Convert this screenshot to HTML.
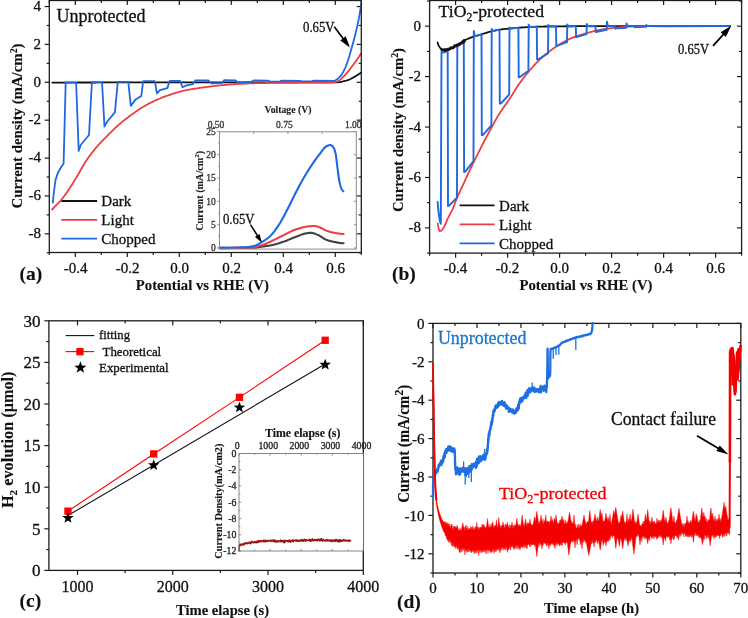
<!DOCTYPE html><html><head><meta charset="utf-8"><style>html,body{margin:0;padding:0;background:#fff;width:748px;height:618px;overflow:hidden}svg{display:block;will-change:transform}text{font-family:"Liberation Serif",serif}</style></head><body>
<svg width="748" height="618" viewBox="0 0 748 618">
<rect width="748" height="618" fill="#fff"/>
<line x1="49.3" y1="252.5" x2="49.3" y2="255.1" stroke="#1c1c1c" stroke-width="1.2"/>
<line x1="49.3" y1="0.5" x2="49.3" y2="3.1" stroke="#1c1c1c" stroke-width="1.2"/>
<line x1="75.3" y1="252.5" x2="75.3" y2="257.1" stroke="#1c1c1c" stroke-width="1.2"/>
<line x1="75.3" y1="0.5" x2="75.3" y2="5.1" stroke="#1c1c1c" stroke-width="1.2"/>
<line x1="101.3" y1="252.5" x2="101.3" y2="255.1" stroke="#1c1c1c" stroke-width="1.2"/>
<line x1="101.3" y1="0.5" x2="101.3" y2="3.1" stroke="#1c1c1c" stroke-width="1.2"/>
<line x1="127.3" y1="252.5" x2="127.3" y2="257.1" stroke="#1c1c1c" stroke-width="1.2"/>
<line x1="127.3" y1="0.5" x2="127.3" y2="5.1" stroke="#1c1c1c" stroke-width="1.2"/>
<line x1="153.3" y1="252.5" x2="153.3" y2="255.1" stroke="#1c1c1c" stroke-width="1.2"/>
<line x1="153.3" y1="0.5" x2="153.3" y2="3.1" stroke="#1c1c1c" stroke-width="1.2"/>
<line x1="179.3" y1="252.5" x2="179.3" y2="257.1" stroke="#1c1c1c" stroke-width="1.2"/>
<line x1="179.3" y1="0.5" x2="179.3" y2="5.1" stroke="#1c1c1c" stroke-width="1.2"/>
<line x1="205.3" y1="252.5" x2="205.3" y2="255.1" stroke="#1c1c1c" stroke-width="1.2"/>
<line x1="205.3" y1="0.5" x2="205.3" y2="3.1" stroke="#1c1c1c" stroke-width="1.2"/>
<line x1="231.3" y1="252.5" x2="231.3" y2="257.1" stroke="#1c1c1c" stroke-width="1.2"/>
<line x1="231.3" y1="0.5" x2="231.3" y2="5.1" stroke="#1c1c1c" stroke-width="1.2"/>
<line x1="257.3" y1="252.5" x2="257.3" y2="255.1" stroke="#1c1c1c" stroke-width="1.2"/>
<line x1="257.3" y1="0.5" x2="257.3" y2="3.1" stroke="#1c1c1c" stroke-width="1.2"/>
<line x1="283.3" y1="252.5" x2="283.3" y2="257.1" stroke="#1c1c1c" stroke-width="1.2"/>
<line x1="283.3" y1="0.5" x2="283.3" y2="5.1" stroke="#1c1c1c" stroke-width="1.2"/>
<line x1="309.3" y1="252.5" x2="309.3" y2="255.1" stroke="#1c1c1c" stroke-width="1.2"/>
<line x1="309.3" y1="0.5" x2="309.3" y2="3.1" stroke="#1c1c1c" stroke-width="1.2"/>
<line x1="335.3" y1="252.5" x2="335.3" y2="257.1" stroke="#1c1c1c" stroke-width="1.2"/>
<line x1="335.3" y1="0.5" x2="335.3" y2="5.1" stroke="#1c1c1c" stroke-width="1.2"/>
<line x1="361.3" y1="252.5" x2="361.3" y2="255.1" stroke="#1c1c1c" stroke-width="1.2"/>
<line x1="361.3" y1="0.5" x2="361.3" y2="3.1" stroke="#1c1c1c" stroke-width="1.2"/>
<line x1="46.7" y1="252.76" x2="49.3" y2="252.76" stroke="#1c1c1c" stroke-width="1.2"/>
<line x1="361.3" y1="252.76" x2="358.7" y2="252.76" stroke="#1c1c1c" stroke-width="1.2"/>
<line x1="44.7" y1="233.82" x2="49.3" y2="233.82" stroke="#1c1c1c" stroke-width="1.2"/>
<line x1="361.3" y1="233.82" x2="356.7" y2="233.82" stroke="#1c1c1c" stroke-width="1.2"/>
<line x1="46.7" y1="214.88" x2="49.3" y2="214.88" stroke="#1c1c1c" stroke-width="1.2"/>
<line x1="361.3" y1="214.88" x2="358.7" y2="214.88" stroke="#1c1c1c" stroke-width="1.2"/>
<line x1="44.7" y1="195.94" x2="49.3" y2="195.94" stroke="#1c1c1c" stroke-width="1.2"/>
<line x1="361.3" y1="195.94" x2="356.7" y2="195.94" stroke="#1c1c1c" stroke-width="1.2"/>
<line x1="46.7" y1="177" x2="49.3" y2="177" stroke="#1c1c1c" stroke-width="1.2"/>
<line x1="361.3" y1="177" x2="358.7" y2="177" stroke="#1c1c1c" stroke-width="1.2"/>
<line x1="44.7" y1="158.06" x2="49.3" y2="158.06" stroke="#1c1c1c" stroke-width="1.2"/>
<line x1="361.3" y1="158.06" x2="356.7" y2="158.06" stroke="#1c1c1c" stroke-width="1.2"/>
<line x1="46.7" y1="139.12" x2="49.3" y2="139.12" stroke="#1c1c1c" stroke-width="1.2"/>
<line x1="361.3" y1="139.12" x2="358.7" y2="139.12" stroke="#1c1c1c" stroke-width="1.2"/>
<line x1="44.7" y1="120.18" x2="49.3" y2="120.18" stroke="#1c1c1c" stroke-width="1.2"/>
<line x1="361.3" y1="120.18" x2="356.7" y2="120.18" stroke="#1c1c1c" stroke-width="1.2"/>
<line x1="46.7" y1="101.24" x2="49.3" y2="101.24" stroke="#1c1c1c" stroke-width="1.2"/>
<line x1="361.3" y1="101.24" x2="358.7" y2="101.24" stroke="#1c1c1c" stroke-width="1.2"/>
<line x1="44.7" y1="82.3" x2="49.3" y2="82.3" stroke="#1c1c1c" stroke-width="1.2"/>
<line x1="361.3" y1="82.3" x2="356.7" y2="82.3" stroke="#1c1c1c" stroke-width="1.2"/>
<line x1="46.7" y1="63.36" x2="49.3" y2="63.36" stroke="#1c1c1c" stroke-width="1.2"/>
<line x1="361.3" y1="63.36" x2="358.7" y2="63.36" stroke="#1c1c1c" stroke-width="1.2"/>
<line x1="44.7" y1="44.42" x2="49.3" y2="44.42" stroke="#1c1c1c" stroke-width="1.2"/>
<line x1="361.3" y1="44.42" x2="356.7" y2="44.42" stroke="#1c1c1c" stroke-width="1.2"/>
<line x1="46.7" y1="25.48" x2="49.3" y2="25.48" stroke="#1c1c1c" stroke-width="1.2"/>
<line x1="361.3" y1="25.48" x2="358.7" y2="25.48" stroke="#1c1c1c" stroke-width="1.2"/>
<line x1="44.7" y1="6.54" x2="49.3" y2="6.54" stroke="#1c1c1c" stroke-width="1.2"/>
<line x1="361.3" y1="6.54" x2="356.7" y2="6.54" stroke="#1c1c1c" stroke-width="1.2"/>
<text x="41" y="238.12" font-size="15" text-anchor="end" fill="#111" stroke="#111" stroke-width="0.3" >-8</text>
<text x="41" y="200.24" font-size="15" text-anchor="end" fill="#111" stroke="#111" stroke-width="0.3" >-6</text>
<text x="41" y="162.36" font-size="15" text-anchor="end" fill="#111" stroke="#111" stroke-width="0.3" >-4</text>
<text x="41" y="124.48" font-size="15" text-anchor="end" fill="#111" stroke="#111" stroke-width="0.3" >-2</text>
<text x="41" y="86.6" font-size="15" text-anchor="end" fill="#111" stroke="#111" stroke-width="0.3" >0</text>
<text x="41" y="48.72" font-size="15" text-anchor="end" fill="#111" stroke="#111" stroke-width="0.3" >2</text>
<text x="41" y="10.84" font-size="15" text-anchor="end" fill="#111" stroke="#111" stroke-width="0.3" >4</text>
<text x="75.6" y="272.6" font-size="15" text-anchor="middle" fill="#111" stroke="#111" stroke-width="0.3" >-0.4</text>
<text x="127.6" y="272.6" font-size="15" text-anchor="middle" fill="#111" stroke="#111" stroke-width="0.3" >-0.2</text>
<text x="179.6" y="272.6" font-size="15" text-anchor="middle" fill="#111" stroke="#111" stroke-width="0.3" >0.0</text>
<text x="231.6" y="272.6" font-size="15" text-anchor="middle" fill="#111" stroke="#111" stroke-width="0.3" >0.2</text>
<text x="283.6" y="272.6" font-size="15" text-anchor="middle" fill="#111" stroke="#111" stroke-width="0.3" >0.4</text>
<text x="335.6" y="272.6" font-size="15" text-anchor="middle" fill="#111" stroke="#111" stroke-width="0.3" >0.6</text>
<text x="202.3" y="290.2" font-size="15" text-anchor="middle" fill="#111" stroke="#111" stroke-width="0.12" font-weight="bold" textLength="133" lengthAdjust="spacingAndGlyphs" >Potential vs RHE (V)</text>
<text transform="translate(22.3 126) rotate(-90)" x="0" y="0" font-size="15" text-anchor="middle" fill="#111" stroke="#111" stroke-width="0.12" font-weight="bold" textLength="165" lengthAdjust="spacingAndGlyphs">Current density (mA/cm<tspan font-size="10" dy="-5">2</tspan><tspan dy="5">)</tspan></text>
<text x="19.4" y="280.4" font-size="19.5" text-anchor="start" fill="#111" stroke="#111" stroke-width="0.12" font-weight="bold" >(a)</text>
<text x="56.5" y="21.5" font-size="18" text-anchor="start" fill="#111" stroke="#111" stroke-width="0.3" >Unprotected</text>
<line x1="61.3" y1="201" x2="97.1" y2="201" stroke="#111" stroke-width="1.8"/>
<text x="101.3" y="206.3" font-size="15" text-anchor="start" fill="#111" stroke="#111" stroke-width="0.3" >Dark</text>
<line x1="61.3" y1="219.9" x2="97.1" y2="219.9" stroke="#ef3d45" stroke-width="1.8"/>
<text x="101.3" y="225.2" font-size="15" text-anchor="start" fill="#111" stroke="#111" stroke-width="0.3" >Light</text>
<line x1="61.3" y1="238.7" x2="97.1" y2="238.7" stroke="#1e68e0" stroke-width="1.8"/>
<text x="101.3" y="244" font-size="15" text-anchor="start" fill="#111" stroke="#111" stroke-width="0.3" >Chopped</text>
<path d="M52.3 82.6 L53 82.6 L53.71 82.6 L54.41 82.59 L55.11 82.59 L55.81 82.59 L56.52 82.59 L57.22 82.58 L57.92 82.58 L58.62 82.58 L59.33 82.58 L60.03 82.58 L60.73 82.57 L61.43 82.57 L62.14 82.57 L62.84 82.57 L63.54 82.57 L64.24 82.56 L64.95 82.56 L65.65 82.56 L66.35 82.56 L67.05 82.56 L67.76 82.55 L68.46 82.55 L69.16 82.55 L69.87 82.55 L70.57 82.54 L71.27 82.54 L71.97 82.54 L72.68 82.54 L73.38 82.54 L74.08 82.53 L74.78 82.53 L75.49 82.53 L76.19 82.53 L76.89 82.53 L77.59 82.52 L78.3 82.52 L79 82.52 L79.7 82.52 L80.4 82.52 L81.11 82.51 L81.81 82.51 L82.51 82.51 L83.21 82.51 L83.92 82.51 L84.62 82.5 L85.32 82.5 L86.03 82.5 L86.73 82.5 L87.43 82.5 L88.13 82.5 L88.84 82.49 L89.54 82.49 L90.24 82.49 L90.94 82.49 L91.65 82.49 L92.35 82.48 L93.05 82.48 L93.75 82.48 L94.46 82.48 L95.16 82.48 L95.86 82.48 L96.56 82.47 L97.27 82.47 L97.97 82.47 L98.67 82.47 L99.37 82.47 L100.08 82.47 L100.78 82.46 L101.48 82.46 L102.19 82.46 L102.89 82.46 L103.59 82.46 L104.29 82.46 L105 82.45 L105.7 82.45 L106.4 82.45 L107.1 82.45 L107.81 82.45 L108.51 82.45 L109.21 82.45 L109.91 82.44 L110.62 82.44 L111.32 82.44 L112.02 82.44 L112.72 82.44 L113.43 82.44 L114.13 82.44 L114.83 82.43 L115.53 82.43 L116.24 82.43 L116.94 82.43 L117.64 82.43 L118.35 82.43 L119.05 82.43 L119.75 82.43 L120.45 82.42 L121.16 82.42 L121.86 82.42 L122.56 82.42 L123.26 82.42 L123.97 82.42 L124.67 82.42 L125.37 82.42 L126.07 82.42 L126.78 82.42 L127.48 82.41 L128.18 82.41 L128.88 82.41 L129.59 82.41 L130.29 82.41 L130.99 82.41 L131.69 82.41 L132.4 82.41 L133.1 82.41 L133.8 82.41 L134.51 82.41 L135.21 82.41 L135.91 82.41 L136.61 82.41 L137.32 82.4 L138.02 82.4 L138.72 82.4 L139.42 82.4 L140.13 82.4 L140.83 82.4 L141.53 82.4 L142.23 82.4 L142.94 82.4 L143.64 82.4 L144.34 82.4 L145.04 82.4 L145.75 82.4 L146.45 82.4 L147.15 82.4 L147.85 82.4 L148.56 82.4 L149.26 82.4 L149.96 82.4 L150.67 82.4 L151.37 82.4 L152.07 82.4 L152.77 82.4 L153.48 82.4 L154.18 82.4 L154.88 82.4 L155.58 82.4 L156.29 82.4 L156.99 82.4 L157.69 82.4 L158.39 82.4 L159.1 82.4 L159.8 82.4 L160.5 82.4 L161.2 82.4 L161.91 82.4 L162.61 82.4 L163.31 82.4 L164.02 82.4 L164.72 82.4 L165.42 82.4 L166.12 82.4 L166.83 82.4 L167.53 82.4 L168.23 82.4 L168.93 82.4 L169.64 82.4 L170.34 82.4 L171.04 82.4 L171.74 82.4 L172.45 82.4 L173.15 82.4 L173.85 82.4 L174.55 82.4 L175.26 82.4 L175.96 82.4 L176.66 82.4 L177.36 82.4 L178.07 82.4 L178.77 82.4 L179.47 82.4 L180.18 82.4 L180.88 82.4 L181.58 82.4 L182.28 82.4 L182.99 82.4 L183.69 82.4 L184.39 82.4 L185.09 82.4 L185.8 82.4 L186.5 82.4 L187.2 82.4 L187.9 82.4 L188.61 82.4 L189.31 82.4 L190.01 82.4 L190.71 82.4 L191.42 82.4 L192.12 82.4 L192.82 82.4 L193.52 82.4 L194.23 82.4 L194.93 82.4 L195.63 82.4 L196.34 82.4 L197.04 82.4 L197.74 82.4 L198.44 82.4 L199.15 82.4 L199.85 82.4 L200.55 82.4 L201.25 82.4 L201.96 82.4 L202.66 82.4 L203.36 82.4 L204.06 82.4 L204.77 82.4 L205.47 82.4 L206.17 82.4 L206.87 82.4 L207.58 82.4 L208.28 82.4 L208.98 82.4 L209.68 82.4 L210.39 82.4 L211.09 82.4 L211.79 82.4 L212.5 82.4 L213.2 82.4 L213.9 82.4 L214.6 82.4 L215.31 82.4 L216.01 82.4 L216.71 82.4 L217.41 82.4 L218.12 82.4 L218.82 82.4 L219.52 82.4 L220.22 82.4 L220.93 82.4 L221.63 82.4 L222.33 82.4 L223.03 82.4 L223.74 82.4 L224.44 82.4 L225.14 82.4 L225.84 82.4 L226.55 82.4 L227.25 82.4 L227.95 82.4 L228.66 82.4 L229.36 82.4 L230.06 82.4 L230.76 82.4 L231.47 82.4 L232.17 82.4 L232.87 82.4 L233.57 82.4 L234.28 82.4 L234.98 82.4 L235.68 82.4 L236.38 82.4 L237.09 82.4 L237.79 82.4 L238.49 82.4 L239.19 82.4 L239.9 82.4 L240.6 82.4 L241.3 82.4 L242 82.4 L242.71 82.4 L243.41 82.4 L244.11 82.4 L244.82 82.4 L245.52 82.4 L246.22 82.4 L246.92 82.4 L247.63 82.4 L248.33 82.4 L249.03 82.4 L249.73 82.4 L250.44 82.4 L251.14 82.4 L251.84 82.4 L252.54 82.4 L253.25 82.4 L253.95 82.4 L254.65 82.4 L255.35 82.4 L256.06 82.4 L256.76 82.4 L257.46 82.4 L258.17 82.4 L258.87 82.4 L259.57 82.4 L260.27 82.4 L260.98 82.4 L261.68 82.4 L262.38 82.4 L263.08 82.4 L263.79 82.4 L264.49 82.4 L265.19 82.4 L265.9 82.4 L266.6 82.4 L267.3 82.4 L268 82.4 L268.71 82.4 L269.41 82.4 L270.11 82.4 L270.82 82.4 L271.52 82.4 L272.22 82.4 L272.92 82.4 L273.63 82.4 L274.33 82.4 L275.03 82.4 L275.73 82.4 L276.44 82.4 L277.14 82.4 L277.84 82.4 L278.55 82.4 L279.25 82.4 L279.95 82.4 L280.65 82.4 L281.36 82.4 L282.06 82.4 L282.76 82.4 L283.47 82.4 L284.17 82.4 L284.87 82.4 L285.57 82.4 L286.28 82.4 L286.98 82.4 L287.68 82.4 L288.39 82.4 L289.09 82.4 L289.79 82.4 L290.49 82.4 L291.2 82.4 L291.9 82.4 L292.6 82.4 L293.3 82.4 L294.01 82.4 L294.71 82.4 L295.41 82.4 L296.12 82.4 L296.82 82.4 L297.52 82.4 L298.22 82.4 L298.93 82.4 L299.63 82.4 L300.33 82.4 L301.03 82.4 L301.74 82.4 L302.44 82.4 L303.14 82.4 L303.84 82.4 L304.55 82.4 L305.25 82.4 L305.95 82.4 L306.66 82.4 L307.36 82.4 L308.06 82.4 L308.76 82.4 L309.47 82.4 L310.17 82.4 L310.87 82.4 L311.57 82.4 L312.28 82.4 L312.98 82.4 L313.68 82.4 L314.38 82.4 L315.09 82.4 L315.79 82.4 L316.49 82.4 L317.19 82.4 L317.9 82.4 L318.6 82.4 L319.3 82.4 L320 82.4 L320.71 82.4 L321.41 82.4 L322.11 82.4 L322.81 82.4 L323.51 82.4 L324.22 82.4 L324.92 82.4 L325.62 82.4 L326.32 82.4 L327.03 82.4 L327.73 82.4 L328.43 82.4 L329.13 82.4 L329.83 82.4 L330.54 82.4 L331.24 82.4 L331.94 82.4 L332.64 82.4 L333.34 82.4 L334.05 82.4 L334.75 82.39 L335.45 82.36 L336.16 82.33 L336.86 82.28 L337.56 82.23 L338.26 82.18 L338.95 82.11 L339.65 82.02 L340.35 81.92 L341.05 81.8 L341.74 81.68 L342.43 81.54 L343.12 81.39 L343.8 81.24 L344.48 81.09 L345.16 80.91 L345.84 80.72 L346.51 80.51 L347.18 80.28 L347.85 80.05 L348.51 79.8 L349.17 79.54 L349.81 79.28 L350.45 79 L351.08 78.71 L351.71 78.39 L352.33 78.06 L352.94 77.72 L353.56 77.36 L354.16 77 L354.77 76.64 L355.37 76.27 L355.98 75.91 L356.58 75.55 L357.18 75.19 L357.77 74.82 L358.37 74.44 L358.96 74.06 L359.55 73.68 L360.14 73.29 L360.72 72.9 L361.3 72.5" fill="none" stroke="#111" stroke-width="1.8" stroke-linejoin="round" stroke-linecap="round" />
<path d="M52.1 209.5 L52.59 209 L53.09 208.5 L53.58 208 L54.07 207.49 L54.56 206.99 L55.05 206.49 L55.54 205.98 L56.02 205.48 L56.51 204.97 L57 204.47 L57.5 203.96 L57.99 203.46 L58.48 202.96 L58.97 202.45 L59.46 201.94 L59.93 201.42 L60.4 200.9 L60.86 200.37 L61.3 199.84 L61.74 199.29 L62.18 198.75 L62.62 198.2 L63.05 197.64 L63.47 197.09 L63.89 196.53 L64.31 195.96 L64.73 195.39 L65.14 194.82 L65.55 194.25 L65.96 193.67 L66.36 193.1 L66.76 192.52 L67.16 191.94 L67.56 191.35 L67.95 190.77 L68.35 190.19 L68.74 189.6 L69.13 189.01 L69.52 188.43 L69.91 187.84 L70.3 187.26 L70.68 186.67 L71.07 186.09 L71.45 185.5 L71.83 184.91 L72.21 184.31 L72.58 183.72 L72.95 183.12 L73.32 182.52 L73.69 181.93 L74.06 181.33 L74.42 180.72 L74.78 180.12 L75.15 179.52 L75.51 178.92 L75.87 178.31 L76.23 177.71 L76.59 177.11 L76.96 176.51 L77.32 175.9 L77.68 175.3 L78.04 174.7 L78.39 174.09 L78.75 173.48 L79.1 172.87 L79.45 172.26 L79.79 171.65 L80.14 171.04 L80.49 170.42 L80.83 169.81 L81.18 169.19 L81.52 168.58 L81.87 167.97 L82.21 167.35 L82.56 166.74 L82.91 166.13 L83.26 165.53 L83.62 164.92 L83.98 164.31 L84.34 163.71 L84.7 163.11 L85.07 162.52 L85.44 161.92 L85.82 161.33 L86.2 160.75 L86.59 160.17 L86.98 159.59 L87.38 159.01 L87.78 158.43 L88.18 157.86 L88.59 157.28 L89 156.71 L89.42 156.14 L89.84 155.58 L90.26 155.01 L90.68 154.45 L91.11 153.89 L91.54 153.33 L91.97 152.78 L92.41 152.22 L92.84 151.67 L93.28 151.12 L93.72 150.58 L94.16 150.03 L94.61 149.49 L95.06 148.95 L95.51 148.41 L95.96 147.88 L96.42 147.35 L96.88 146.82 L97.34 146.29 L97.81 145.76 L98.28 145.24 L98.75 144.72 L99.23 144.2 L99.7 143.68 L100.18 143.17 L100.66 142.65 L101.14 142.14 L101.62 141.62 L102.1 141.11 L102.59 140.6 L103.07 140.09 L103.56 139.58 L104.04 139.07 L104.52 138.56 L105.01 138.06 L105.5 137.55 L105.98 137.04 L106.47 136.54 L106.96 136.03 L107.45 135.53 L107.95 135.03 L108.44 134.53 L108.93 134.03 L109.43 133.53 L109.93 133.03 L110.43 132.54 L110.93 132.04 L111.43 131.55 L111.94 131.06 L112.44 130.58 L112.95 130.09 L113.46 129.61 L113.97 129.13 L114.48 128.65 L115 128.17 L115.51 127.7 L116.03 127.22 L116.55 126.75 L117.07 126.27 L117.6 125.8 L118.12 125.34 L118.65 124.87 L119.18 124.41 L119.71 123.94 L120.24 123.48 L120.77 123.03 L121.31 122.57 L121.85 122.12 L122.39 121.67 L122.93 121.23 L123.47 120.78 L124.02 120.34 L124.57 119.91 L125.12 119.47 L125.68 119.04 L126.23 118.62 L126.79 118.19 L127.35 117.77 L127.92 117.35 L128.48 116.93 L129.05 116.51 L129.62 116.1 L130.19 115.69 L130.76 115.27 L131.33 114.87 L131.9 114.46 L132.48 114.05 L133.05 113.65 L133.62 113.24 L134.2 112.84 L134.77 112.43 L135.35 112.03 L135.93 111.62 L136.5 111.22 L137.08 110.82 L137.66 110.42 L138.24 110.02 L138.82 109.62 L139.41 109.23 L139.99 108.84 L140.58 108.45 L141.17 108.07 L141.76 107.69 L142.35 107.32 L142.95 106.95 L143.55 106.59 L144.15 106.23 L144.76 105.88 L145.36 105.53 L145.98 105.19 L146.59 104.85 L147.21 104.51 L147.83 104.18 L148.45 103.85 L149.08 103.53 L149.7 103.21 L150.33 102.89 L150.96 102.57 L151.59 102.26 L152.23 101.96 L152.86 101.65 L153.49 101.35 L154.13 101.05 L154.76 100.76 L155.4 100.46 L156.04 100.17 L156.68 99.89 L157.33 99.6 L157.97 99.32 L158.62 99.04 L159.27 98.77 L159.92 98.5 L160.57 98.23 L161.22 97.96 L161.87 97.7 L162.52 97.45 L163.18 97.19 L163.83 96.94 L164.49 96.7 L165.15 96.45 L165.81 96.21 L166.47 95.97 L167.13 95.74 L167.8 95.51 L168.46 95.28 L169.13 95.05 L169.79 94.82 L170.46 94.6 L171.13 94.38 L171.79 94.16 L172.46 93.95 L173.13 93.73 L173.8 93.52 L174.47 93.3 L175.14 93.09 L175.81 92.87 L176.48 92.66 L177.16 92.46 L177.83 92.26 L178.5 92.06 L179.18 91.86 L179.86 91.68 L180.53 91.49 L181.21 91.32 L181.89 91.15 L182.58 90.99 L183.26 90.83 L183.95 90.68 L184.63 90.53 L185.32 90.39 L186.01 90.24 L186.7 90.1 L187.39 89.97 L188.08 89.83 L188.77 89.7 L189.46 89.58 L190.15 89.45 L190.84 89.33 L191.54 89.21 L192.23 89.09 L192.92 88.97 L193.61 88.86 L194.31 88.75 L195 88.64 L195.7 88.53 L196.39 88.42 L197.09 88.32 L197.78 88.22 L198.48 88.12 L199.17 88.02 L199.87 87.92 L200.56 87.82 L201.26 87.72 L201.96 87.63 L202.65 87.53 L203.35 87.43 L204.04 87.33 L204.74 87.24 L205.44 87.14 L206.13 87.05 L206.83 86.95 L207.53 86.86 L208.22 86.77 L208.92 86.67 L209.62 86.58 L210.31 86.49 L211.01 86.4 L211.71 86.32 L212.41 86.23 L213.1 86.15 L213.8 86.06 L214.5 85.98 L215.2 85.9 L215.9 85.82 L216.59 85.74 L217.29 85.67 L217.99 85.6 L218.69 85.53 L219.39 85.46 L220.09 85.39 L220.79 85.33 L221.49 85.26 L222.19 85.2 L222.89 85.14 L223.58 85.07 L224.28 85.01 L224.98 84.95 L225.69 84.89 L226.39 84.83 L227.09 84.78 L227.79 84.72 L228.49 84.66 L229.19 84.61 L229.89 84.55 L230.59 84.5 L231.29 84.45 L231.99 84.4 L232.69 84.35 L233.39 84.3 L234.1 84.25 L234.8 84.21 L235.5 84.16 L236.2 84.12 L236.9 84.07 L237.6 84.03 L238.3 83.99 L239 83.95 L239.71 83.92 L240.41 83.88 L241.11 83.84 L241.81 83.81 L242.51 83.77 L243.21 83.73 L243.92 83.7 L244.62 83.66 L245.32 83.63 L246.02 83.59 L246.72 83.56 L247.43 83.53 L248.13 83.5 L248.83 83.46 L249.53 83.43 L250.23 83.4 L250.94 83.37 L251.64 83.34 L252.34 83.32 L253.04 83.29 L253.74 83.27 L254.45 83.24 L255.15 83.22 L255.85 83.2 L256.55 83.18 L257.26 83.16 L257.96 83.14 L258.66 83.13 L259.36 83.11 L260.07 83.1 L260.77 83.09 L261.47 83.08 L262.17 83.06 L262.88 83.05 L263.58 83.04 L264.28 83.03 L264.98 83.02 L265.68 83.01 L266.39 83 L267.09 82.99 L267.79 82.98 L268.49 82.97 L269.2 82.97 L269.9 82.96 L270.6 82.95 L271.3 82.94 L272.01 82.93 L272.71 82.92 L273.41 82.92 L274.12 82.91 L274.82 82.9 L275.52 82.89 L276.22 82.89 L276.93 82.88 L277.63 82.87 L278.33 82.87 L279.03 82.86 L279.74 82.85 L280.44 82.85 L281.14 82.84 L281.84 82.84 L282.55 82.83 L283.25 82.82 L283.95 82.82 L284.66 82.81 L285.36 82.81 L286.06 82.8 L286.76 82.8 L287.47 82.79 L288.17 82.79 L288.87 82.78 L289.57 82.78 L290.28 82.77 L290.98 82.77 L291.68 82.76 L292.38 82.76 L293.09 82.75 L293.79 82.75 L294.49 82.74 L295.2 82.74 L295.9 82.73 L296.6 82.73 L297.3 82.72 L298.01 82.71 L298.71 82.71 L299.41 82.7 L300.11 82.7 L300.82 82.69 L301.52 82.69 L302.22 82.68 L302.93 82.68 L303.63 82.68 L304.34 82.67 L305.04 82.67 L305.74 82.67 L306.45 82.66 L307.15 82.66 L307.86 82.66 L308.57 82.66 L309.27 82.65 L309.98 82.65 L310.68 82.65 L311.39 82.65 L312.09 82.64 L312.8 82.64 L313.5 82.64 L314.21 82.64 L314.91 82.64 L315.62 82.63 L316.32 82.63 L317.03 82.63 L317.73 82.63 L318.44 82.62 L319.14 82.62 L319.84 82.62 L320.55 82.61 L321.25 82.61 L321.95 82.6 L322.65 82.6 L323.36 82.6 L324.06 82.59 L324.76 82.58 L325.46 82.58 L326.16 82.57 L326.86 82.57 L327.56 82.56 L328.25 82.55 L328.95 82.54 L329.65 82.53 L330.34 82.52 L331.04 82.51 L331.73 82.5 L332.43 82.48 L333.14 82.42 L333.85 82.31 L334.56 82.17 L335.26 82.01 L335.94 81.82 L336.6 81.63 L337.22 81.42 L337.84 81.17 L338.44 80.86 L339.03 80.5 L339.6 80.1 L340.17 79.66 L340.73 79.2 L341.28 78.71 L341.82 78.21 L342.35 77.7 L342.87 77.2 L343.38 76.7 L343.89 76.21 L344.38 75.73 L344.87 75.23 L345.34 74.72 L345.81 74.2 L346.27 73.67 L346.72 73.13 L347.17 72.58 L347.61 72.03 L348.05 71.47 L348.49 70.92 L348.93 70.36 L349.36 69.8 L349.79 69.24 L350.23 68.69 L350.66 68.14 L351.1 67.59 L351.53 67.03 L351.96 66.48 L352.39 65.92 L352.81 65.36 L353.24 64.8 L353.66 64.23 L354.07 63.67 L354.49 63.1 L354.9 62.53 L355.31 61.96 L355.72 61.39 L356.13 60.82 L356.53 60.24 L356.93 59.67 L357.33 59.09 L357.72 58.51 L358.12 57.93 L358.51 57.34 L358.9 56.76 L359.28 56.17 L359.67 55.58 L360.05 54.99 L360.42 54.39 L360.8 53.8" fill="none" stroke="#ef3d45" stroke-width="1.8" stroke-linejoin="round" stroke-linecap="round" />
<path d="M52.8 202.6 L53.9 192 L55.5 180 L57.9 172.7 L61.2 167 L63.6 163.8 L65.7 82.3 L76.1 82.3 L78.7 150.9 L80.9 144.8 L89 135 L91.9 82.3 L102 82.3 L104.5 126.6 L107.3 121.5 L114.9 112.4 L117.8 81.8 L128.3 81.8 L130.8 105.9 L135.6 99.4 L141.3 95.9 L143.2 81.2 L154.8 81.2 L156.9 93.4 L160 90.2 L167.3 88.1 L169.7 80.9 L180.1 80.9 L182.5 87.3 L186.5 85.4 L193 84.1 L195.4 80.3 L208.2 80.3 L211.4 83.3 L221.9 83 L224.3 80.2 L235.5 80.5 L238 82.5 L250.8 82 L254 80.3 L268 80.6 L270 81.6 L280 81.3 L282 80.6 L300 80.8 L302 81.4 L312 81.2 L314 80.7 L334.5 80.8 L334.5 80.8 L335.13 80.42 L335.75 80.03 L336.36 79.63 L336.96 79.21 L337.54 78.78 L338.1 78.34 L338.64 77.88 L339.16 77.42 L339.65 76.94 L340.11 76.44 L340.55 75.94 L340.96 75.42 L341.37 74.87 L341.76 74.31 L342.14 73.73 L342.51 73.13 L342.87 72.52 L343.22 71.9 L343.56 71.27 L343.89 70.62 L344.21 69.97 L344.52 69.32 L344.83 68.66 L345.13 68 L345.41 67.33 L345.7 66.67 L345.97 66.01 L346.24 65.35 L346.5 64.7 L346.75 64.05 L347 63.4 L347.24 62.74 L347.48 62.08 L347.71 61.42 L347.93 60.75 L348.15 60.08 L348.37 59.41 L348.58 58.74 L348.79 58.06 L348.99 57.38 L349.19 56.7 L349.39 56.02 L349.59 55.34 L349.78 54.65 L349.97 53.97 L350.16 53.29 L350.35 52.6 L350.54 51.92 L350.73 51.24 L350.92 50.55 L351.11 49.87 L351.3 49.19 L351.5 48.51 L351.69 47.83 L351.88 47.15 L352.07 46.47 L352.27 45.79 L352.46 45.11 L352.65 44.43 L352.83 43.75 L353.02 43.07 L353.21 42.39 L353.39 41.71 L353.58 41.03 L353.76 40.35 L353.94 39.66 L354.12 38.98 L354.3 38.3 L354.48 37.61 L354.66 36.93 L354.84 36.25 L355.01 35.56 L355.18 34.88 L355.35 34.19 L355.52 33.51 L355.69 32.82 L355.86 32.13 L356.02 31.45 L356.19 30.76 L356.35 30.08 L356.51 29.39 L356.67 28.7 L356.83 28.01 L356.99 27.32 L357.14 26.64 L357.3 25.95 L357.46 25.26 L357.61 24.57 L357.76 23.88 L357.91 23.19 L358.06 22.5 L358.21 21.81 L358.35 21.11 L358.49 20.42 L358.63 19.73 L358.77 19.04 L358.9 18.34 L359.04 17.65 L359.16 16.96 L359.29 16.26 L359.41 15.57 L359.53 14.87 L359.65 14.18 L359.77 13.48 L359.88 12.79 L360 12.09 L360.11 11.39 L360.22 10.7 L360.33 10 L360.44 9.3 L360.54 8.6 L360.64 7.9 L360.74 7.2 L360.84 6.5 L360.94 5.8 L361.03 5.1 L361.12 4.4 L361.21 3.7 L361.3 3" fill="none" stroke="#1e68e0" stroke-width="1.8" stroke-linejoin="round" stroke-linecap="round" />
<text x="303" y="31.8" font-size="14.5" text-anchor="start" fill="#111" stroke="#111" stroke-width="0.3" textLength="31.6" lengthAdjust="spacingAndGlyphs" >0.65V</text>
<line x1="334.3" y1="26.7" x2="343.62" y2="39.19" stroke="#000" stroke-width="1.7"/>
<path d="M349.9 47.6 L340.3 40.42 L345.75 36.35 Z" fill="#000"/>
<rect x="49.3" y="0.5" width="312" height="252" fill="none" stroke="#1c1c1c" stroke-width="1.3"/>
<rect x="219.5" y="131.8" width="136.8" height="117.3" fill="#fff" stroke="none"/>
<path d="M219.6 248.1 L220.31 248.1 L221.02 248.1 L221.73 248.1 L222.45 248.1 L223.16 248.1 L223.87 248.1 L224.58 248.09 L225.28 248.09 L225.99 248.09 L226.7 248.09 L227.41 248.09 L228.12 248.08 L228.83 248.08 L229.53 248.08 L230.24 248.07 L230.95 248.07 L231.65 248.07 L232.36 248.06 L233.06 248.06 L233.77 248.05 L234.48 248.05 L235.18 248.04 L235.88 248.03 L236.59 248.03 L237.29 248.02 L238 248.01 L238.7 248 L239.4 248 L240.11 247.99 L240.81 247.98 L241.51 247.97 L242.21 247.96 L242.92 247.95 L243.62 247.94 L244.32 247.93 L245.02 247.92 L245.72 247.91 L246.42 247.89 L247.12 247.88 L247.82 247.87 L248.52 247.85 L249.22 247.84 L249.93 247.82 L250.62 247.81 L251.32 247.79 L252.02 247.78 L252.72 247.76 L253.42 247.74 L254.12 247.72 L254.82 247.7 L255.52 247.67 L256.22 247.6 L256.91 247.49 L257.61 247.36 L258.3 247.22 L259 247.08 L259.69 246.95 L260.39 246.84 L261.08 246.74 L261.78 246.64 L262.48 246.54 L263.18 246.44 L263.88 246.35 L264.58 246.26 L265.28 246.16 L265.98 246.07 L266.68 245.97 L267.38 245.87 L268.08 245.77 L268.77 245.67 L269.47 245.56 L270.16 245.44 L270.85 245.32 L271.54 245.19 L272.23 245.05 L272.91 244.91 L273.59 244.75 L274.28 244.58 L274.96 244.41 L275.64 244.23 L276.32 244.04 L277 243.84 L277.67 243.63 L278.35 243.42 L279.02 243.21 L279.69 242.99 L280.37 242.77 L281.04 242.54 L281.71 242.32 L282.37 242.09 L283.04 241.86 L283.71 241.63 L284.37 241.41 L285.03 241.17 L285.69 240.93 L286.35 240.68 L287.01 240.42 L287.66 240.16 L288.31 239.89 L288.96 239.62 L289.61 239.35 L290.26 239.08 L290.91 238.8 L291.56 238.53 L292.21 238.25 L292.86 237.98 L293.52 237.71 L294.17 237.45 L294.83 237.19 L295.48 236.93 L296.14 236.68 L296.8 236.43 L297.46 236.18 L298.12 235.91 L298.78 235.65 L299.44 235.39 L300.1 235.13 L300.76 234.88 L301.42 234.63 L302.09 234.4 L302.76 234.18 L303.43 233.98 L304.11 233.8 L304.78 233.64 L305.47 233.51 L306.16 233.36 L306.86 233.23 L307.56 233.1 L308.26 232.98 L308.97 232.89 L309.66 232.83 L310.36 232.8 L311.05 232.82 L311.74 232.89 L312.42 233.02 L313.11 233.18 L313.8 233.38 L314.48 233.61 L315.16 233.86 L315.83 234.12 L316.5 234.38 L317.16 234.65 L317.81 234.9 L318.44 235.17 L319.07 235.48 L319.68 235.81 L320.29 236.18 L320.89 236.56 L321.49 236.95 L322.09 237.35 L322.68 237.75 L323.28 238.14 L323.88 238.52 L324.49 238.88 L325.11 239.21 L325.74 239.51 L326.38 239.77 L327.03 240.01 L327.69 240.25 L328.36 240.47 L329.04 240.68 L329.72 240.88 L330.41 241.07 L331.09 241.24 L331.78 241.41 L332.46 241.56 L333.15 241.7 L333.83 241.84 L334.52 241.98 L335.21 242.12 L335.9 242.25 L336.59 242.38 L337.29 242.5 L337.98 242.62 L338.68 242.73 L339.38 242.84 L340.08 242.93 L340.78 243.02 L341.48 243.11 L342.18 243.18 L342.89 243.25 L343.6 243.3" fill="none" stroke="#404040" stroke-width="2.1" stroke-linejoin="round" stroke-linecap="round" />
<path d="M219.6 248 L220.32 248 L221.03 248 L221.75 248 L222.46 248 L223.17 248 L223.89 247.99 L224.6 247.99 L225.31 247.99 L226.03 247.99 L226.74 247.98 L227.45 247.98 L228.16 247.97 L228.87 247.97 L229.58 247.96 L230.29 247.96 L231 247.95 L231.71 247.94 L232.41 247.94 L233.12 247.93 L233.83 247.92 L234.54 247.91 L235.24 247.9 L235.95 247.9 L236.65 247.89 L237.36 247.88 L238.06 247.86 L238.77 247.85 L239.47 247.84 L240.18 247.83 L240.88 247.82 L241.58 247.8 L242.29 247.79 L242.99 247.77 L243.69 247.76 L244.39 247.74 L245.1 247.73 L245.8 247.71 L246.5 247.69 L247.2 247.68 L247.9 247.66 L248.6 247.64 L249.3 247.62 L250 247.6 L250.7 247.57 L251.4 247.51 L252.1 247.43 L252.8 247.34 L253.51 247.22 L254.21 247.1 L254.9 246.95 L255.6 246.8 L256.3 246.64 L256.99 246.47 L257.68 246.3 L258.37 246.12 L259.05 245.95 L259.73 245.77 L260.41 245.59 L261.08 245.4 L261.75 245.19 L262.42 244.97 L263.08 244.74 L263.74 244.5 L264.4 244.24 L265.06 243.98 L265.72 243.71 L266.37 243.43 L267.03 243.14 L267.68 242.85 L268.33 242.56 L268.98 242.27 L269.63 241.97 L270.27 241.68 L270.92 241.38 L271.56 241.09 L272.21 240.81 L272.85 240.52 L273.49 240.22 L274.13 239.92 L274.77 239.61 L275.4 239.3 L276.03 238.98 L276.66 238.66 L277.29 238.34 L277.92 238.02 L278.55 237.69 L279.18 237.37 L279.81 237.04 L280.44 236.72 L281.07 236.4 L281.7 236.08 L282.33 235.76 L282.97 235.45 L283.6 235.14 L284.24 234.83 L284.88 234.52 L285.52 234.21 L286.15 233.89 L286.79 233.57 L287.42 233.25 L288.06 232.93 L288.69 232.61 L289.33 232.29 L289.97 231.98 L290.61 231.67 L291.25 231.37 L291.89 231.07 L292.54 230.78 L293.18 230.5 L293.83 230.23 L294.49 229.97 L295.14 229.73 L295.8 229.5 L296.47 229.28 L297.13 229.06 L297.81 228.85 L298.48 228.63 L299.16 228.42 L299.84 228.21 L300.52 228 L301.21 227.81 L301.89 227.61 L302.58 227.43 L303.27 227.26 L303.97 227.09 L304.66 226.94 L305.36 226.8 L306.05 226.68 L306.75 226.57 L307.44 226.47 L308.14 226.4 L308.84 226.33 L309.55 226.26 L310.25 226.2 L310.96 226.14 L311.67 226.09 L312.38 226.05 L313.09 226.02 L313.79 226 L314.49 226.01 L315.18 226.07 L315.87 226.19 L316.57 226.35 L317.25 226.55 L317.94 226.78 L318.62 227.02 L319.29 227.27 L319.96 227.51 L320.61 227.75 L321.25 228.04 L321.89 228.35 L322.51 228.69 L323.13 229.04 L323.75 229.39 L324.38 229.74 L325.01 230.07 L325.64 230.37 L326.29 230.63 L326.95 230.88 L327.62 231.11 L328.29 231.34 L328.97 231.56 L329.65 231.77 L330.33 231.96 L331.02 232.14 L331.71 232.3 L332.39 232.44 L333.08 232.57 L333.77 232.71 L334.46 232.84 L335.16 232.97 L335.85 233.09 L336.55 233.21 L337.24 233.32 L337.94 233.43 L338.64 233.53 L339.35 233.63 L340.05 233.71 L340.76 233.79 L341.46 233.86 L342.17 233.92 L342.89 233.96 L343.6 234" fill="none" stroke="#ef3d45" stroke-width="2.1" stroke-linejoin="round" stroke-linecap="round" />
<path d="M219.6 247.6 L220.31 247.6 L221.02 247.6 L221.72 247.6 L222.43 247.6 L223.14 247.59 L223.84 247.59 L224.55 247.59 L225.26 247.59 L225.96 247.58 L226.67 247.58 L227.37 247.57 L228.08 247.57 L228.78 247.56 L229.49 247.56 L230.19 247.55 L230.9 247.54 L231.6 247.53 L232.3 247.53 L233.01 247.52 L233.71 247.51 L234.41 247.5 L235.11 247.49 L235.82 247.48 L236.52 247.47 L237.22 247.45 L237.92 247.44 L238.62 247.43 L239.33 247.41 L240.03 247.4 L240.73 247.39 L241.43 247.37 L242.13 247.35 L242.83 247.34 L243.53 247.32 L244.23 247.3 L244.93 247.28 L245.64 247.25 L246.34 247.2 L247.05 247.13 L247.76 247.06 L248.47 246.97 L249.17 246.88 L249.88 246.77 L250.58 246.66 L251.27 246.53 L251.96 246.4 L252.65 246.27 L253.32 246.13 L253.99 245.98 L254.65 245.8 L255.3 245.58 L255.95 245.33 L256.59 245.04 L257.23 244.73 L257.87 244.4 L258.49 244.05 L259.12 243.69 L259.74 243.32 L260.35 242.96 L260.96 242.6 L261.57 242.25 L262.17 241.89 L262.78 241.53 L263.38 241.16 L263.99 240.78 L264.59 240.4 L265.18 240 L265.77 239.6 L266.35 239.19 L266.93 238.77 L267.49 238.35 L268.05 237.92 L268.59 237.48 L269.11 237.03 L269.63 236.57 L270.12 236.1 L270.62 235.62 L271.1 235.12 L271.58 234.61 L272.05 234.09 L272.51 233.56 L272.97 233.02 L273.42 232.48 L273.86 231.92 L274.3 231.36 L274.73 230.79 L275.16 230.21 L275.58 229.64 L275.99 229.06 L276.4 228.48 L276.81 227.89 L277.21 227.31 L277.61 226.73 L278 226.15 L278.39 225.57 L278.77 224.98 L279.15 224.4 L279.52 223.8 L279.89 223.21 L280.26 222.61 L280.61 222 L280.97 221.4 L281.32 220.79 L281.67 220.17 L282.02 219.56 L282.36 218.94 L282.7 218.32 L283.04 217.7 L283.38 217.08 L283.71 216.46 L284.04 215.84 L284.38 215.21 L284.71 214.59 L285.04 213.96 L285.37 213.34 L285.7 212.72 L286.03 212.09 L286.36 211.47 L286.69 210.85 L287.01 210.23 L287.34 209.6 L287.66 208.98 L287.98 208.35 L288.3 207.73 L288.62 207.1 L288.93 206.47 L289.24 205.84 L289.55 205.21 L289.87 204.58 L290.18 203.94 L290.49 203.31 L290.79 202.68 L291.1 202.05 L291.41 201.41 L291.72 200.78 L292.03 200.15 L292.34 199.52 L292.65 198.88 L292.96 198.25 L293.27 197.62 L293.59 196.99 L293.9 196.36 L294.22 195.73 L294.54 195.11 L294.86 194.48 L295.18 193.85 L295.5 193.23 L295.83 192.6 L296.15 191.98 L296.47 191.35 L296.79 190.72 L297.11 190.1 L297.44 189.47 L297.76 188.85 L298.08 188.22 L298.41 187.6 L298.74 186.97 L299.06 186.35 L299.39 185.72 L299.72 185.1 L300.05 184.48 L300.38 183.86 L300.72 183.24 L301.05 182.62 L301.39 182 L301.73 181.39 L302.07 180.77 L302.41 180.16 L302.76 179.55 L303.11 178.94 L303.46 178.33 L303.81 177.72 L304.16 177.11 L304.52 176.51 L304.88 175.9 L305.24 175.3 L305.61 174.7 L305.97 174.09 L306.34 173.49 L306.71 172.89 L307.08 172.29 L307.45 171.7 L307.83 171.1 L308.2 170.5 L308.58 169.91 L308.96 169.32 L309.34 168.72 L309.73 168.13 L310.11 167.54 L310.5 166.96 L310.88 166.37 L311.27 165.78 L311.67 165.2 L312.06 164.62 L312.45 164.04 L312.85 163.45 L313.24 162.87 L313.64 162.29 L314.04 161.71 L314.45 161.13 L314.85 160.55 L315.26 159.98 L315.67 159.4 L316.08 158.83 L316.49 158.26 L316.91 157.69 L317.32 157.12 L317.75 156.56 L318.17 156 L318.6 155.44 L319.03 154.88 L319.46 154.33 L319.89 153.78 L320.33 153.23 L320.77 152.67 L321.2 152.08 L321.63 151.49 L322.07 150.89 L322.5 150.29 L322.95 149.69 L323.4 149.12 L323.86 148.56 L324.33 148.04 L324.82 147.55 L325.33 147.1 L325.85 146.7 L326.4 146.36 L326.99 146.05 L327.64 145.73 L328.34 145.44 L329.04 145.21 L329.73 145.05 L330.37 145 L331 145.16 L331.64 145.53 L332.24 146.03 L332.78 146.58 L333.21 147.11 L333.56 147.64 L333.89 148.24 L334.2 148.88 L334.48 149.55 L334.72 150.25 L334.95 150.95 L335.14 151.65 L335.31 152.34 L335.46 153.01 L335.6 153.69 L335.73 154.37 L335.85 155.05 L335.96 155.74 L336.07 156.44 L336.17 157.13 L336.27 157.83 L336.36 158.53 L336.45 159.23 L336.53 159.93 L336.62 160.64 L336.7 161.34 L336.78 162.05 L336.86 162.75 L336.94 163.46 L337.02 164.16 L337.11 164.87 L337.19 165.57 L337.29 166.27 L337.38 166.97 L337.48 167.67 L337.57 168.36 L337.67 169.06 L337.76 169.76 L337.85 170.46 L337.94 171.16 L338.03 171.86 L338.11 172.56 L338.2 173.26 L338.29 173.96 L338.38 174.66 L338.47 175.36 L338.57 176.06 L338.67 176.75 L338.77 177.45 L338.87 178.14 L338.98 178.84 L339.09 179.53 L339.21 180.22 L339.33 180.91 L339.46 181.6 L339.6 182.29 L339.74 182.98 L339.89 183.68 L340.05 184.38 L340.22 185.07 L340.41 185.76 L340.61 186.43 L340.82 187.1 L341.06 187.75 L341.32 188.37 L341.63 188.99 L342 189.58 L342.41 190.17 L342.84 190.74 L343.3 191.3" fill="none" stroke="#1e68e0" stroke-width="2.1" stroke-linejoin="round" stroke-linecap="round" />
<rect x="219.5" y="131.8" width="136.8" height="117.3" fill="none" stroke="#8a8a8a" stroke-width="1.0"/>
<line x1="253.7" y1="131.8" x2="253.7" y2="134" stroke="#8a8a8a" stroke-width="0.9"/>
<line x1="287.9" y1="131.8" x2="287.9" y2="134" stroke="#8a8a8a" stroke-width="0.9"/>
<line x1="322.1" y1="131.8" x2="322.1" y2="134" stroke="#8a8a8a" stroke-width="0.9"/>
<line x1="217" y1="248" x2="219.5" y2="248" stroke="#8a8a8a" stroke-width="0.9"/>
<line x1="356.3" y1="248" x2="353.8" y2="248" stroke="#8a8a8a" stroke-width="0.9"/>
<line x1="218.1" y1="236.34" x2="219.5" y2="236.34" stroke="#8a8a8a" stroke-width="0.8"/>
<line x1="217" y1="224.68" x2="219.5" y2="224.68" stroke="#8a8a8a" stroke-width="0.9"/>
<line x1="356.3" y1="224.68" x2="353.8" y2="224.68" stroke="#8a8a8a" stroke-width="0.9"/>
<line x1="218.1" y1="213.01" x2="219.5" y2="213.01" stroke="#8a8a8a" stroke-width="0.8"/>
<line x1="217" y1="201.35" x2="219.5" y2="201.35" stroke="#8a8a8a" stroke-width="0.9"/>
<line x1="356.3" y1="201.35" x2="353.8" y2="201.35" stroke="#8a8a8a" stroke-width="0.9"/>
<line x1="218.1" y1="189.69" x2="219.5" y2="189.69" stroke="#8a8a8a" stroke-width="0.8"/>
<line x1="217" y1="178.03" x2="219.5" y2="178.03" stroke="#8a8a8a" stroke-width="0.9"/>
<line x1="356.3" y1="178.03" x2="353.8" y2="178.03" stroke="#8a8a8a" stroke-width="0.9"/>
<line x1="218.1" y1="166.36" x2="219.5" y2="166.36" stroke="#8a8a8a" stroke-width="0.8"/>
<line x1="217" y1="154.7" x2="219.5" y2="154.7" stroke="#8a8a8a" stroke-width="0.9"/>
<line x1="356.3" y1="154.7" x2="353.8" y2="154.7" stroke="#8a8a8a" stroke-width="0.9"/>
<line x1="218.1" y1="143.04" x2="219.5" y2="143.04" stroke="#8a8a8a" stroke-width="0.8"/>
<line x1="217" y1="131.38" x2="219.5" y2="131.38" stroke="#8a8a8a" stroke-width="0.9"/>
<line x1="356.3" y1="131.38" x2="353.8" y2="131.38" stroke="#8a8a8a" stroke-width="0.9"/>
<text x="215.8" y="251.2" font-size="9.5" text-anchor="end" fill="#333" stroke="#333" stroke-width="0.3" >0</text>
<text x="215.8" y="227.88" font-size="9.5" text-anchor="end" fill="#333" stroke="#333" stroke-width="0.3" >5</text>
<text x="215.8" y="204.55" font-size="9.5" text-anchor="end" fill="#333" stroke="#333" stroke-width="0.3" >10</text>
<text x="215.8" y="181.22" font-size="9.5" text-anchor="end" fill="#333" stroke="#333" stroke-width="0.3" >15</text>
<text x="215.8" y="157.9" font-size="9.5" text-anchor="end" fill="#333" stroke="#333" stroke-width="0.3" >20</text>
<text x="215.8" y="134.57" font-size="9.5" text-anchor="end" fill="#333" stroke="#333" stroke-width="0.3" >25</text>
<text x="216" y="127.6" font-size="9.5" text-anchor="middle" fill="#333" stroke="#333" stroke-width="0.3" >0.50</text>
<text x="284.4" y="127.6" font-size="9.5" text-anchor="middle" fill="#333" stroke="#333" stroke-width="0.3" >0.75</text>
<text x="353.2" y="127.6" font-size="9.5" text-anchor="middle" fill="#333" stroke="#333" stroke-width="0.3" >1.00</text>
<text x="288" y="113" font-size="10.5" text-anchor="middle" fill="#222" stroke="#222" stroke-width="0.12" font-weight="bold" textLength="47" lengthAdjust="spacingAndGlyphs" >Voltage (V)</text>
<text transform="translate(202.6 190.8) rotate(-90)" x="0" y="0" font-size="10" text-anchor="middle" fill="#222" stroke="#222" stroke-width="0.12" font-weight="bold" textLength="80" lengthAdjust="spacingAndGlyphs">Current (mA/cm<tspan font-size="7" dy="-3.5">2</tspan><tspan dy="3.5">)</tspan></text>
<text x="223" y="223.9" font-size="14.5" text-anchor="start" fill="#111" stroke="#111" stroke-width="0.3" textLength="31.5" lengthAdjust="spacingAndGlyphs" >0.65V</text>
<line x1="250.5" y1="224.6" x2="257.81" y2="236.25" stroke="#000" stroke-width="1.5"/>
<path d="M261.8 242.6 L254.91 236.89 L259.65 233.91 Z" fill="#000"/>
<line x1="429.6" y1="253.1" x2="429.6" y2="255.7" stroke="#1c1c1c" stroke-width="1.2"/>
<line x1="429.6" y1="0.5" x2="429.6" y2="3.1" stroke="#1c1c1c" stroke-width="1.2"/>
<line x1="455.6" y1="253.1" x2="455.6" y2="257.7" stroke="#1c1c1c" stroke-width="1.2"/>
<line x1="455.6" y1="0.5" x2="455.6" y2="5.1" stroke="#1c1c1c" stroke-width="1.2"/>
<line x1="481.6" y1="253.1" x2="481.6" y2="255.7" stroke="#1c1c1c" stroke-width="1.2"/>
<line x1="481.6" y1="0.5" x2="481.6" y2="3.1" stroke="#1c1c1c" stroke-width="1.2"/>
<line x1="507.6" y1="253.1" x2="507.6" y2="257.7" stroke="#1c1c1c" stroke-width="1.2"/>
<line x1="507.6" y1="0.5" x2="507.6" y2="5.1" stroke="#1c1c1c" stroke-width="1.2"/>
<line x1="533.6" y1="253.1" x2="533.6" y2="255.7" stroke="#1c1c1c" stroke-width="1.2"/>
<line x1="533.6" y1="0.5" x2="533.6" y2="3.1" stroke="#1c1c1c" stroke-width="1.2"/>
<line x1="559.6" y1="253.1" x2="559.6" y2="257.7" stroke="#1c1c1c" stroke-width="1.2"/>
<line x1="559.6" y1="0.5" x2="559.6" y2="5.1" stroke="#1c1c1c" stroke-width="1.2"/>
<line x1="585.6" y1="253.1" x2="585.6" y2="255.7" stroke="#1c1c1c" stroke-width="1.2"/>
<line x1="585.6" y1="0.5" x2="585.6" y2="3.1" stroke="#1c1c1c" stroke-width="1.2"/>
<line x1="611.6" y1="253.1" x2="611.6" y2="257.7" stroke="#1c1c1c" stroke-width="1.2"/>
<line x1="611.6" y1="0.5" x2="611.6" y2="5.1" stroke="#1c1c1c" stroke-width="1.2"/>
<line x1="637.6" y1="253.1" x2="637.6" y2="255.7" stroke="#1c1c1c" stroke-width="1.2"/>
<line x1="637.6" y1="0.5" x2="637.6" y2="3.1" stroke="#1c1c1c" stroke-width="1.2"/>
<line x1="663.6" y1="253.1" x2="663.6" y2="257.7" stroke="#1c1c1c" stroke-width="1.2"/>
<line x1="663.6" y1="0.5" x2="663.6" y2="5.1" stroke="#1c1c1c" stroke-width="1.2"/>
<line x1="689.6" y1="253.1" x2="689.6" y2="255.7" stroke="#1c1c1c" stroke-width="1.2"/>
<line x1="689.6" y1="0.5" x2="689.6" y2="3.1" stroke="#1c1c1c" stroke-width="1.2"/>
<line x1="715.6" y1="253.1" x2="715.6" y2="257.7" stroke="#1c1c1c" stroke-width="1.2"/>
<line x1="715.6" y1="0.5" x2="715.6" y2="5.1" stroke="#1c1c1c" stroke-width="1.2"/>
<line x1="741.6" y1="253.1" x2="741.6" y2="255.7" stroke="#1c1c1c" stroke-width="1.2"/>
<line x1="741.6" y1="0.5" x2="741.6" y2="3.1" stroke="#1c1c1c" stroke-width="1.2"/>
<line x1="427" y1="253.09" x2="429.6" y2="253.09" stroke="#1c1c1c" stroke-width="1.2"/>
<line x1="741.6" y1="253.09" x2="739" y2="253.09" stroke="#1c1c1c" stroke-width="1.2"/>
<line x1="425" y1="227.88" x2="429.6" y2="227.88" stroke="#1c1c1c" stroke-width="1.2"/>
<line x1="741.6" y1="227.88" x2="737" y2="227.88" stroke="#1c1c1c" stroke-width="1.2"/>
<line x1="427" y1="202.67" x2="429.6" y2="202.67" stroke="#1c1c1c" stroke-width="1.2"/>
<line x1="741.6" y1="202.67" x2="739" y2="202.67" stroke="#1c1c1c" stroke-width="1.2"/>
<line x1="425" y1="177.46" x2="429.6" y2="177.46" stroke="#1c1c1c" stroke-width="1.2"/>
<line x1="741.6" y1="177.46" x2="737" y2="177.46" stroke="#1c1c1c" stroke-width="1.2"/>
<line x1="427" y1="152.25" x2="429.6" y2="152.25" stroke="#1c1c1c" stroke-width="1.2"/>
<line x1="741.6" y1="152.25" x2="739" y2="152.25" stroke="#1c1c1c" stroke-width="1.2"/>
<line x1="425" y1="127.04" x2="429.6" y2="127.04" stroke="#1c1c1c" stroke-width="1.2"/>
<line x1="741.6" y1="127.04" x2="737" y2="127.04" stroke="#1c1c1c" stroke-width="1.2"/>
<line x1="427" y1="101.83" x2="429.6" y2="101.83" stroke="#1c1c1c" stroke-width="1.2"/>
<line x1="741.6" y1="101.83" x2="739" y2="101.83" stroke="#1c1c1c" stroke-width="1.2"/>
<line x1="425" y1="76.62" x2="429.6" y2="76.62" stroke="#1c1c1c" stroke-width="1.2"/>
<line x1="741.6" y1="76.62" x2="737" y2="76.62" stroke="#1c1c1c" stroke-width="1.2"/>
<line x1="427" y1="51.41" x2="429.6" y2="51.41" stroke="#1c1c1c" stroke-width="1.2"/>
<line x1="741.6" y1="51.41" x2="739" y2="51.41" stroke="#1c1c1c" stroke-width="1.2"/>
<line x1="425" y1="26.2" x2="429.6" y2="26.2" stroke="#1c1c1c" stroke-width="1.2"/>
<line x1="741.6" y1="26.2" x2="737" y2="26.2" stroke="#1c1c1c" stroke-width="1.2"/>
<line x1="427" y1="0.99" x2="429.6" y2="0.99" stroke="#1c1c1c" stroke-width="1.2"/>
<line x1="741.6" y1="0.99" x2="739" y2="0.99" stroke="#1c1c1c" stroke-width="1.2"/>
<text x="421" y="232.48" font-size="15" text-anchor="end" fill="#111" stroke="#111" stroke-width="0.3" >-8</text>
<text x="421" y="182.06" font-size="15" text-anchor="end" fill="#111" stroke="#111" stroke-width="0.3" >-6</text>
<text x="421" y="131.64" font-size="15" text-anchor="end" fill="#111" stroke="#111" stroke-width="0.3" >-4</text>
<text x="421" y="81.22" font-size="15" text-anchor="end" fill="#111" stroke="#111" stroke-width="0.3" >-2</text>
<text x="421" y="30.8" font-size="15" text-anchor="end" fill="#111" stroke="#111" stroke-width="0.3" >0</text>
<text x="455.5" y="272.8" font-size="15" text-anchor="middle" fill="#111" stroke="#111" stroke-width="0.3" >-0.4</text>
<text x="507.5" y="272.8" font-size="15" text-anchor="middle" fill="#111" stroke="#111" stroke-width="0.3" >-0.2</text>
<text x="559.5" y="272.8" font-size="15" text-anchor="middle" fill="#111" stroke="#111" stroke-width="0.3" >0.0</text>
<text x="611.5" y="272.8" font-size="15" text-anchor="middle" fill="#111" stroke="#111" stroke-width="0.3" >0.2</text>
<text x="663.5" y="272.8" font-size="15" text-anchor="middle" fill="#111" stroke="#111" stroke-width="0.3" >0.4</text>
<text x="715.5" y="272.8" font-size="15" text-anchor="middle" fill="#111" stroke="#111" stroke-width="0.3" >0.6</text>
<text x="586" y="290.4" font-size="15" text-anchor="middle" fill="#111" stroke="#111" stroke-width="0.12" font-weight="bold" textLength="133" lengthAdjust="spacingAndGlyphs" >Potential vs RHE (V)</text>
<text transform="translate(402.6 130) rotate(-90)" x="0" y="0" font-size="15" text-anchor="middle" fill="#111" stroke="#111" stroke-width="0.12" font-weight="bold" textLength="164" lengthAdjust="spacingAndGlyphs">Current density (mA/cm<tspan font-size="10" dy="-5">2</tspan><tspan dy="5">)</tspan></text>
<text x="392" y="280.4" font-size="19.5" text-anchor="start" fill="#111" stroke="#111" stroke-width="0.12" font-weight="bold" >(b)</text>
<text x="438.6" y="17.4" font-size="17" text-anchor="start" fill="#111" stroke="#111" stroke-width="0.3" textLength="105.4" lengthAdjust="spacingAndGlyphs" >TiO<tspan font-size="11.5" dy="3.8">2</tspan><tspan dy="-3.8">-protected</tspan></text>
<line x1="459.6" y1="205.3" x2="494.6" y2="205.3" stroke="#111" stroke-width="1.8"/>
<text x="499.1" y="210.5" font-size="15" text-anchor="start" fill="#111" stroke="#111" stroke-width="0.3" >Dark</text>
<line x1="459.6" y1="224.3" x2="494.6" y2="224.3" stroke="#ef3d45" stroke-width="1.8"/>
<text x="499.1" y="229.5" font-size="15" text-anchor="start" fill="#111" stroke="#111" stroke-width="0.3" >Light</text>
<line x1="459.6" y1="243.4" x2="494.6" y2="243.4" stroke="#1e68e0" stroke-width="1.8"/>
<text x="499.1" y="248.6" font-size="15" text-anchor="start" fill="#111" stroke="#111" stroke-width="0.3" >Chopped</text>
<path d="M437.6 42.4 L437.76 43.17 L437.97 43.91 L438.22 44.61 L438.52 45.27 L438.86 45.89 L439.22 46.48 L439.61 47.04 L440.01 47.55 L440.43 48.04 L440.93 48.55 L441.51 49.05 L442.14 49.44 L442.78 49.6 L443.43 49.59 L444.1 49.55 L444.8 49.49 L445.51 49.42 L446.23 49.32 L446.95 49.22 L447.67 49.1 L448.37 48.98 L449.06 48.85 L449.72 48.71 L450.38 48.52 L451.02 48.29 L451.66 48.02 L452.3 47.73 L452.93 47.4 L453.55 47.06 L454.18 46.7 L454.8 46.33 L455.41 45.96 L456.03 45.59 L456.64 45.23 L457.26 44.88 L457.87 44.54 L458.48 44.18 L459.08 43.82 L459.67 43.44 L460.26 43.06 L460.85 42.67 L461.45 42.29 L462.04 41.9 L462.63 41.52 L463.23 41.15 L463.83 40.8 L464.44 40.45 L465.05 40.12 L465.67 39.82 L466.31 39.52 L466.94 39.23 L467.58 38.95 L468.23 38.67 L468.88 38.41 L469.54 38.15 L470.19 37.89 L470.85 37.64 L471.51 37.4 L472.18 37.16 L472.84 36.93 L473.5 36.7 L474.17 36.48 L474.83 36.26 L475.5 36.06 L476.18 35.86 L476.85 35.66 L477.52 35.47 L478.2 35.28 L478.88 35.09 L479.55 34.9 L480.23 34.7 L480.9 34.51 L481.58 34.31 L482.25 34.1 L482.92 33.89 L483.59 33.67 L484.26 33.46 L484.92 33.24 L485.59 33.02 L486.26 32.81 L486.93 32.6 L487.6 32.39 L488.27 32.19 L488.95 32 L489.62 31.82 L490.3 31.65 L490.98 31.47 L491.66 31.3 L492.35 31.14 L493.03 30.97 L493.71 30.81 L494.4 30.65 L495.09 30.5 L495.78 30.36 L496.46 30.21 L497.15 30.08 L497.84 29.95 L498.53 29.84 L499.23 29.73 L499.92 29.62 L500.61 29.53 L501.31 29.44 L502 29.35 L502.7 29.26 L503.4 29.18 L504.09 29.1 L504.79 29.03 L505.49 28.96 L506.19 28.88 L506.89 28.81 L507.59 28.75 L508.29 28.68 L508.99 28.61 L509.69 28.54 L510.38 28.48 L511.08 28.41 L511.78 28.34 L512.48 28.28 L513.18 28.21 L513.88 28.15 L514.58 28.08 L515.28 28.02 L515.98 27.96 L516.68 27.9 L517.38 27.84 L518.07 27.78 L518.77 27.72 L519.47 27.67 L520.17 27.62 L520.87 27.56 L521.57 27.51 L522.27 27.47 L522.97 27.42 L523.67 27.38 L524.38 27.33 L525.08 27.3 L525.78 27.26 L526.48 27.22 L527.18 27.18 L527.88 27.15 L528.58 27.11 L529.28 27.07 L529.98 27.04 L530.68 27 L531.38 26.97 L532.08 26.93 L532.79 26.9 L533.49 26.87 L534.19 26.84 L534.89 26.81 L535.59 26.78 L536.29 26.75 L536.99 26.72 L537.7 26.69 L538.4 26.67 L539.1 26.65 L539.8 26.62 L540.5 26.6 L541.2 26.58 L541.91 26.56 L542.61 26.55 L543.31 26.53 L544.01 26.52 L544.71 26.5 L545.41 26.49 L546.11 26.48 L546.82 26.47 L547.52 26.46 L548.22 26.45 L548.92 26.44 L549.62 26.43 L550.32 26.42 L551.03 26.42 L551.73 26.41 L552.43 26.4 L553.13 26.39 L553.83 26.38 L554.54 26.37 L555.24 26.36 L555.94 26.36 L556.64 26.35 L557.34 26.34 L558.04 26.33 L558.75 26.33 L559.45 26.32 L560.15 26.31 L560.85 26.31 L561.55 26.3 L562.26 26.29 L562.96 26.29 L563.66 26.28 L564.36 26.28 L565.06 26.27 L565.77 26.26 L566.47 26.26 L567.17 26.25 L567.87 26.25 L568.57 26.25 L569.27 26.24 L569.98 26.24 L570.68 26.23 L571.38 26.23 L572.08 26.23 L572.78 26.22 L573.49 26.22 L574.19 26.22 L574.89 26.21 L575.59 26.21 L576.29 26.21 L577 26.21 L577.7 26.2 L578.4 26.2 L579.1 26.2 L579.8 26.2 L580.51 26.2 L581.21 26.2 L581.91 26.2 L582.61 26.2 L583.31 26.2 L584.01 26.19 L584.72 26.19 L585.42 26.19 L586.12 26.19 L586.82 26.19 L587.52 26.19 L588.23 26.19 L588.93 26.19 L589.63 26.19 L590.33 26.19 L591.03 26.18 L591.73 26.18 L592.44 26.18 L593.14 26.18 L593.84 26.18 L594.54 26.18 L595.24 26.18 L595.95 26.18 L596.65 26.18 L597.35 26.18 L598.05 26.17 L598.75 26.17 L599.45 26.17 L600.16 26.17 L600.86 26.17 L601.56 26.17 L602.26 26.17 L602.96 26.17 L603.67 26.17 L604.37 26.17 L605.07 26.17 L605.77 26.17 L606.47 26.16 L607.17 26.16 L607.88 26.16 L608.58 26.16 L609.28 26.16 L609.98 26.16 L610.68 26.16 L611.39 26.16 L612.09 26.16 L612.79 26.16 L613.49 26.16 L614.19 26.16 L614.9 26.16 L615.6 26.15 L616.3 26.15 L617 26.15 L617.7 26.15 L618.4 26.15 L619.11 26.15 L619.81 26.15 L620.51 26.15 L621.21 26.15 L621.91 26.15 L622.62 26.15 L623.32 26.15 L624.02 26.15 L624.72 26.15 L625.42 26.14 L626.12 26.14 L626.83 26.14 L627.53 26.14 L628.23 26.14 L628.93 26.14 L629.63 26.14 L630.34 26.14 L631.04 26.14 L631.74 26.14 L632.44 26.14 L633.14 26.14 L633.85 26.14 L634.55 26.14 L635.25 26.14 L635.95 26.14 L636.65 26.13 L637.35 26.13 L638.06 26.13 L638.76 26.13 L639.46 26.13 L640.16 26.13 L640.86 26.13 L641.57 26.13 L642.27 26.13 L642.97 26.13 L643.67 26.13 L644.37 26.13 L645.07 26.13 L645.78 26.13 L646.48 26.13 L647.18 26.13 L647.88 26.13 L648.58 26.13 L649.29 26.13 L649.99 26.13 L650.69 26.12 L651.39 26.12 L652.09 26.12 L652.8 26.12 L653.5 26.12 L654.2 26.12 L654.9 26.12 L655.6 26.12 L656.3 26.12 L657.01 26.12 L657.71 26.12 L658.41 26.12 L659.11 26.12 L659.81 26.12 L660.52 26.12 L661.22 26.12 L661.92 26.12 L662.62 26.12 L663.32 26.12 L664.02 26.12 L664.73 26.12 L665.43 26.12 L666.13 26.12 L666.83 26.12 L667.53 26.11 L668.24 26.11 L668.94 26.11 L669.64 26.11 L670.34 26.11 L671.04 26.11 L671.75 26.11 L672.45 26.11 L673.15 26.11 L673.85 26.11 L674.55 26.11 L675.25 26.11 L675.96 26.11 L676.66 26.11 L677.36 26.11 L678.06 26.11 L678.76 26.11 L679.47 26.11 L680.17 26.11 L680.87 26.11 L681.57 26.11 L682.27 26.11 L682.97 26.11 L683.68 26.11 L684.38 26.11 L685.08 26.11 L685.78 26.11 L686.48 26.11 L687.19 26.11 L687.89 26.11 L688.59 26.11 L689.29 26.11 L689.99 26.11 L690.7 26.11 L691.4 26.11 L692.1 26.11 L692.8 26.1 L693.5 26.1 L694.2 26.1 L694.91 26.1 L695.61 26.1 L696.31 26.1 L697.01 26.1 L697.71 26.1 L698.42 26.1 L699.12 26.1 L699.82 26.1 L700.52 26.1 L701.22 26.1 L701.93 26.1 L702.63 26.1 L703.33 26.1 L704.03 26.1 L704.73 26.1 L705.43 26.1 L706.14 26.1 L706.84 26.1 L707.54 26.1 L708.24 26.1 L708.94 26.1 L709.65 26.1 L710.35 26.1 L711.05 26.1 L711.75 26.1 L712.45 26.1 L713.16 26.1 L713.86 26.1 L714.56 26.1 L715.26 26.1 L715.96 26.1 L716.66 26.1 L717.37 26.1 L718.07 26.1 L718.77 26.1 L719.47 26.1 L720.17 26.1 L720.88 26.1 L721.58 26.1 L722.28 26.1 L722.98 26.1 L723.68 26.1 L724.39 26.1 L725.09 26.1 L725.79 26.1 L726.49 26.1 L727.19 26.1 L727.89 26.1 L728.6 26.1 L729.3 26.1 L730 26.1" fill="none" stroke="#111" stroke-width="1.8" stroke-linejoin="round" stroke-linecap="round" />
<path d="M437.9 223.6 L437.95 224.31 L438.02 225.01 L438.12 225.71 L438.25 226.4 L438.38 227.09 L438.53 227.77 L438.69 228.45 L438.85 229.23 L439.06 230.09 L439.31 230.77 L439.66 231 L440.35 230.93 L441.07 230.78 L441.62 230.41 L442.11 229.83 L442.54 229.25 L442.93 228.7 L443.3 228.13 L443.65 227.54 L443.99 226.94 L444.32 226.33 L444.63 225.7 L444.93 225.07 L445.23 224.42 L445.52 223.77 L445.8 223.12 L446.08 222.46 L446.36 221.8 L446.63 221.14 L446.91 220.49 L447.2 219.83 L447.49 219.18 L447.79 218.54 L448.1 217.91 L448.41 217.28 L448.73 216.66 L449.05 216.03 L449.38 215.41 L449.7 214.79 L450.03 214.17 L450.36 213.55 L450.68 212.92 L451 212.3 L451.32 211.67 L451.64 211.05 L451.94 210.42 L452.25 209.79 L452.54 209.15 L452.83 208.51 L453.11 207.87 L453.38 207.23 L453.65 206.58 L453.91 205.93 L454.16 205.28 L454.42 204.62 L454.67 203.97 L454.92 203.31 L455.17 202.65 L455.42 202 L455.67 201.34 L455.92 200.68 L456.17 200.03 L456.43 199.38 L456.69 198.72 L456.96 198.08 L457.23 197.43 L457.51 196.79 L457.79 196.14 L458.07 195.5 L458.36 194.86 L458.64 194.22 L458.94 193.59 L459.23 192.95 L459.52 192.31 L459.82 191.68 L460.12 191.04 L460.42 190.41 L460.72 189.77 L461.02 189.14 L461.32 188.5 L461.62 187.87 L461.92 187.23 L462.22 186.6 L462.52 185.97 L462.82 185.33 L463.12 184.7 L463.41 184.06 L463.71 183.43 L464.01 182.79 L464.3 182.15 L464.59 181.51 L464.88 180.88 L465.17 180.24 L465.46 179.6 L465.75 178.96 L466.04 178.32 L466.33 177.68 L466.62 177.04 L466.91 176.4 L467.2 175.76 L467.49 175.13 L467.78 174.49 L468.07 173.85 L468.36 173.21 L468.66 172.57 L468.95 171.94 L469.25 171.3 L469.54 170.66 L469.84 170.03 L470.14 169.39 L470.44 168.76 L470.74 168.13 L471.04 167.5 L471.35 166.87 L471.65 166.23 L471.96 165.61 L472.27 164.98 L472.59 164.35 L472.9 163.72 L473.21 163.09 L473.53 162.47 L473.84 161.84 L474.16 161.21 L474.47 160.59 L474.79 159.96 L475.11 159.33 L475.43 158.71 L475.74 158.08 L476.06 157.46 L476.38 156.83 L476.69 156.21 L477.01 155.58 L477.32 154.95 L477.64 154.32 L477.95 153.7 L478.26 153.07 L478.57 152.44 L478.89 151.81 L479.2 151.18 L479.51 150.55 L479.82 149.92 L480.13 149.3 L480.44 148.67 L480.75 148.04 L481.06 147.41 L481.37 146.78 L481.68 146.15 L482 145.52 L482.31 144.9 L482.62 144.27 L482.94 143.64 L483.26 143.02 L483.58 142.39 L483.9 141.77 L484.22 141.15 L484.54 140.53 L484.87 139.9 L485.2 139.28 L485.53 138.67 L485.86 138.05 L486.19 137.43 L486.52 136.81 L486.86 136.2 L487.2 135.58 L487.53 134.97 L487.87 134.35 L488.21 133.74 L488.55 133.12 L488.89 132.51 L489.22 131.89 L489.56 131.28 L489.9 130.66 L490.24 130.05 L490.58 129.44 L490.92 128.82 L491.25 128.2 L491.59 127.59 L491.92 126.97 L492.25 126.35 L492.58 125.73 L492.91 125.11 L493.24 124.49 L493.57 123.87 L493.9 123.25 L494.23 122.63 L494.56 122.01 L494.89 121.39 L495.23 120.78 L495.56 120.16 L495.9 119.54 L496.24 118.93 L496.58 118.32 L496.93 117.71 L497.28 117.11 L497.64 116.5 L498 115.9 L498.36 115.31 L498.73 114.71 L499.11 114.12 L499.48 113.53 L499.87 112.94 L500.25 112.36 L500.64 111.77 L501.03 111.19 L501.42 110.61 L501.82 110.03 L502.21 109.45 L502.61 108.87 L503.01 108.29 L503.41 107.71 L503.81 107.13 L504.21 106.56 L504.61 105.98 L505.01 105.4 L505.41 104.83 L505.81 104.26 L506.22 103.68 L506.63 103.11 L507.04 102.55 L507.45 101.98 L507.86 101.41 L508.27 100.83 L508.67 100.26 L509.07 99.68 L509.46 99.1 L509.85 98.52 L510.24 97.94 L510.62 97.35 L511 96.76 L511.37 96.16 L511.75 95.57 L512.12 94.97 L512.49 94.37 L512.85 93.78 L513.22 93.18 L513.59 92.58 L513.95 91.98 L514.32 91.38 L514.68 90.78 L515.05 90.18 L515.42 89.58 L515.79 88.98 L516.16 88.39 L516.54 87.8 L516.92 87.21 L517.3 86.62 L517.68 86.03 L518.07 85.45 L518.46 84.87 L518.86 84.3 L519.26 83.73 L519.67 83.16 L520.08 82.59 L520.49 82.02 L520.9 81.45 L521.32 80.89 L521.74 80.32 L522.16 79.76 L522.58 79.2 L523 78.64 L523.43 78.08 L523.86 77.53 L524.3 76.97 L524.73 76.42 L525.17 75.87 L525.6 75.32 L526.05 74.77 L526.49 74.23 L526.93 73.68 L527.38 73.14 L527.83 72.6 L528.27 72.06 L528.73 71.53 L529.18 70.99 L529.63 70.46 L530.09 69.93 L530.55 69.4 L531.01 68.87 L531.47 68.34 L531.93 67.82 L532.4 67.29 L532.87 66.77 L533.34 66.24 L533.81 65.72 L534.29 65.2 L534.76 64.69 L535.25 64.17 L535.73 63.66 L536.21 63.15 L536.7 62.65 L537.19 62.15 L537.68 61.65 L538.18 61.15 L538.68 60.66 L539.18 60.17 L539.68 59.68 L540.19 59.2 L540.7 58.73 L541.21 58.25 L541.73 57.78 L542.25 57.31 L542.77 56.85 L543.3 56.38 L543.83 55.92 L544.37 55.47 L544.9 55.01 L545.44 54.56 L545.99 54.11 L546.53 53.67 L547.08 53.22 L547.63 52.79 L548.18 52.35 L548.73 51.92 L549.29 51.49 L549.85 51.06 L550.41 50.64 L550.97 50.23 L551.53 49.81 L552.09 49.4 L552.66 48.99 L553.23 48.58 L553.81 48.17 L554.38 47.77 L554.96 47.37 L555.54 46.97 L556.12 46.58 L556.71 46.19 L557.3 45.8 L557.89 45.42 L558.48 45.04 L559.08 44.67 L559.67 44.3 L560.27 43.94 L560.87 43.58 L561.48 43.23 L562.08 42.88 L562.69 42.54 L563.3 42.19 L563.92 41.85 L564.54 41.51 L565.16 41.18 L565.78 40.85 L566.4 40.52 L567.03 40.2 L567.66 39.89 L568.29 39.58 L568.93 39.27 L569.56 38.98 L570.2 38.69 L570.84 38.41 L571.48 38.13 L572.13 37.87 L572.78 37.61 L573.43 37.36 L574.08 37.12 L574.74 36.88 L575.4 36.64 L576.06 36.41 L576.72 36.19 L577.39 35.96 L578.05 35.74 L578.72 35.53 L579.4 35.32 L580.07 35.11 L580.74 34.9 L581.41 34.7 L582.09 34.5 L582.77 34.3 L583.44 34.1 L584.12 33.91 L584.79 33.71 L585.47 33.52 L586.14 33.33 L586.82 33.14 L587.49 32.95 L588.16 32.75 L588.84 32.56 L589.52 32.36 L590.19 32.17 L590.87 31.98 L591.55 31.79 L592.22 31.6 L592.9 31.41 L593.58 31.23 L594.26 31.05 L594.94 30.87 L595.62 30.7 L596.3 30.53 L596.99 30.37 L597.67 30.22 L598.35 30.07 L599.04 29.93 L599.73 29.79 L600.41 29.67 L601.1 29.55 L601.79 29.44 L602.48 29.33 L603.17 29.22 L603.86 29.12 L604.56 29.02 L605.25 28.93 L605.95 28.83 L606.64 28.74 L607.34 28.65 L608.04 28.57 L608.74 28.49 L609.43 28.4 L610.13 28.33 L610.83 28.25 L611.53 28.17 L612.23 28.1 L612.93 28.02 L613.63 27.95 L614.32 27.88 L615.02 27.81 L615.72 27.74 L616.42 27.67 L617.11 27.59 L617.81 27.52 L618.51 27.45 L619.21 27.38 L619.91 27.31 L620.61 27.24 L621.31 27.17 L622 27.11 L622.7 27.05 L623.4 26.98 L624.1 26.93 L624.8 26.87 L625.5 26.82 L626.2 26.77 L626.9 26.72 L627.6 26.68 L628.3 26.64 L629 26.61 L629.7 26.58 L630.4 26.56 L631.1 26.53 L631.8 26.5 L632.5 26.48 L633.2 26.45 L633.9 26.43 L634.61 26.41 L635.31 26.38 L636.01 26.36 L636.71 26.34 L637.41 26.32 L638.11 26.3 L638.81 26.29 L639.52 26.27 L640.22 26.26 L640.92 26.24 L641.62 26.23 L642.32 26.22 L643.02 26.21 L643.72 26.21 L644.43 26.2 L645.13 26.2 L645.83 26.2 L646.53 26.2 L647.23 26.19 L647.93 26.19 L648.63 26.19 L649.33 26.19 L650.04 26.19 L650.74 26.18 L651.44 26.18 L652.14 26.18 L652.84 26.18 L653.54 26.18 L654.24 26.18 L654.95 26.17 L655.65 26.17 L656.35 26.17 L657.05 26.17 L657.75 26.17 L658.45 26.17 L659.15 26.16 L659.85 26.16 L660.56 26.16 L661.26 26.16 L661.96 26.16 L662.66 26.16 L663.36 26.16 L664.06 26.15 L664.76 26.15 L665.47 26.15 L666.17 26.15 L666.87 26.15 L667.57 26.15 L668.27 26.15 L668.97 26.15 L669.67 26.14 L670.37 26.14 L671.08 26.14 L671.78 26.14 L672.48 26.14 L673.18 26.14 L673.88 26.14 L674.58 26.14 L675.28 26.14 L675.99 26.13 L676.69 26.13 L677.39 26.13 L678.09 26.13 L678.79 26.13 L679.49 26.13 L680.19 26.13 L680.9 26.13 L681.6 26.13 L682.3 26.13 L683 26.12 L683.7 26.12 L684.4 26.12 L685.1 26.12 L685.81 26.12 L686.51 26.12 L687.21 26.12 L687.91 26.12 L688.61 26.12 L689.31 26.12 L690.01 26.12 L690.71 26.12 L691.42 26.12 L692.12 26.12 L692.82 26.11 L693.52 26.11 L694.22 26.11 L694.92 26.11 L695.63 26.11 L696.33 26.11 L697.03 26.11 L697.73 26.11 L698.43 26.11 L699.13 26.11 L699.83 26.11 L700.54 26.11 L701.24 26.11 L701.94 26.11 L702.64 26.11 L703.34 26.11 L704.04 26.11 L704.74 26.11 L705.45 26.11 L706.15 26.11 L706.85 26.11 L707.55 26.1 L708.25 26.1 L708.95 26.1 L709.65 26.1 L710.36 26.1 L711.06 26.1 L711.76 26.1 L712.46 26.1 L713.16 26.1 L713.86 26.1 L714.57 26.1 L715.27 26.1 L715.97 26.1 L716.67 26.1 L717.37 26.1 L718.07 26.1 L718.77 26.1 L719.48 26.1 L720.18 26.1 L720.88 26.1 L721.58 26.1 L722.28 26.1 L722.98 26.1 L723.69 26.1 L724.39 26.1 L725.09 26.1 L725.79 26.1 L726.49 26.1 L727.19 26.1 L727.9 26.1 L728.6 26.1 L729.3 26.1 L730 26.1" fill="none" stroke="#ef3d45" stroke-width="1.8" stroke-linejoin="round" stroke-linecap="round" />
<path d="M437.6 201.9 L438.5 212 L440 221.5 L440.8 223.8 L441.5 52 L444 52.5 L446 51.5 L447.7 51.59 L448 206 L449.2 205.7 L457 197.5 L457.3 45.02 L458.2 44.35 L463.8 43.31 L464.1 172 L465.3 171.7 L473.5 161 L473.8 31 L474.7 36.31 L481.5 34.33 L481.8 135.2 L483 134.9 L491.4 125.5 L491.7 29 L492.6 31.07 L499.5 29.69 L499.8 103.6 L501 103.3 L509.2 94.5 L509.5 27.5 L510.4 28.48 L518.4 27.75 L518.7 77.4 L519.9 77.1 L528.4 70.8 L528.7 24.6 L529.6 27.06 L536.8 26.73 L537.1 59.6 L538.3 59.3 L548 53.4 L548.3 25 L549.2 26.44 L556 26.36 L556.3 45.9 L557.5 45.6 L567 42.2 L567.3 24.5 L568.2 26.25 L575.8 26.21 L576.1 37.1 L577.3 36.8 L586.5 34 L586.8 24 L587.7 26.19 L595.5 26.18 L595.8 32.1 L597 31.8 L606.7 29.7 L607 21.6 L607.9 26.16 L615.1 26.16 L615.4 28.7 L616.6 28.4 L626.3 27.8 L626.6 23.5 L627.5 26.14 L634.6 26.14 L634.9 27.4 L636.1 27.1 L646 26.9 L646.3 25 L647.2 26.13 L665 26.2 L730 26" fill="none" stroke="#1e68e0" stroke-width="1.9" stroke-linejoin="round" stroke-linecap="round" />
<path d="M441.5 49.64 L442 50.17 L442.5 49.97 L443 49.57 L443.5 49.87 L444 49.46 L444.5 50.16 L445 51.01 L445.5 49.67 L446 49.52 L446.5 50.23 L447 50.06 L447.5 49.8 L448 48.99 L448.5 49.53 L449 49.94 L449.5 48.42 L450 48.91 L450.5 47.75 L451 48 L451.5 47.41 L452 48.31 L452.5 47.34 L453 48.15 L453.5 47.8 L454 47.27 L454.5 45.34 L455 46.43 L455.5 46.47 L456 46.28 L456.5 44.84 L457 45.29 L457.5 44.66 L458 44.5 L458.5 45.51 L459 43.9 L459.5 44.13 L460 44.45 L460.5 43.1 L461 43.1 L461.5 42.93 L462 42.57 L462.5 41.35 L463 41.95 L463.5 42.54 L464 40.21 L464.5 41.62" fill="none" stroke="#111" stroke-width="2.3" stroke-linejoin="round" stroke-linecap="round" />
<text x="678" y="54.4" font-size="14.5" text-anchor="start" fill="#111" stroke="#111" stroke-width="0.3" textLength="31" lengthAdjust="spacingAndGlyphs" >0.65V</text>
<line x1="713" y1="45.9" x2="723.91" y2="33.85" stroke="#000" stroke-width="1.7"/>
<path d="M731.3 25.7 L725.76 36.88 L720.72 32.31 Z" fill="#000"/>
<rect x="429.6" y="0.5" width="312" height="252.6" fill="none" stroke="#1c1c1c" stroke-width="1.3"/>
<line x1="77.48" y1="570.4" x2="77.48" y2="575" stroke="#1c1c1c" stroke-width="1.2"/>
<line x1="77.48" y1="320.8" x2="77.48" y2="325.4" stroke="#1c1c1c" stroke-width="1.2"/>
<line x1="125.12" y1="570.4" x2="125.12" y2="573" stroke="#1c1c1c" stroke-width="1.2"/>
<line x1="125.12" y1="320.8" x2="125.12" y2="323.4" stroke="#1c1c1c" stroke-width="1.2"/>
<line x1="172.75" y1="570.4" x2="172.75" y2="575" stroke="#1c1c1c" stroke-width="1.2"/>
<line x1="172.75" y1="320.8" x2="172.75" y2="325.4" stroke="#1c1c1c" stroke-width="1.2"/>
<line x1="220.39" y1="570.4" x2="220.39" y2="573" stroke="#1c1c1c" stroke-width="1.2"/>
<line x1="220.39" y1="320.8" x2="220.39" y2="323.4" stroke="#1c1c1c" stroke-width="1.2"/>
<line x1="268.03" y1="570.4" x2="268.03" y2="575" stroke="#1c1c1c" stroke-width="1.2"/>
<line x1="268.03" y1="320.8" x2="268.03" y2="325.4" stroke="#1c1c1c" stroke-width="1.2"/>
<line x1="315.66" y1="570.4" x2="315.66" y2="573" stroke="#1c1c1c" stroke-width="1.2"/>
<line x1="315.66" y1="320.8" x2="315.66" y2="323.4" stroke="#1c1c1c" stroke-width="1.2"/>
<line x1="363.3" y1="570.4" x2="363.3" y2="575" stroke="#1c1c1c" stroke-width="1.2"/>
<line x1="363.3" y1="320.8" x2="363.3" y2="325.4" stroke="#1c1c1c" stroke-width="1.2"/>
<line x1="44.3" y1="570.4" x2="48.9" y2="570.4" stroke="#1c1c1c" stroke-width="1.2"/>
<line x1="44.3" y1="528.8" x2="48.9" y2="528.8" stroke="#1c1c1c" stroke-width="1.2"/>
<line x1="44.3" y1="487.2" x2="48.9" y2="487.2" stroke="#1c1c1c" stroke-width="1.2"/>
<line x1="44.3" y1="445.6" x2="48.9" y2="445.6" stroke="#1c1c1c" stroke-width="1.2"/>
<line x1="44.3" y1="404" x2="48.9" y2="404" stroke="#1c1c1c" stroke-width="1.2"/>
<line x1="44.3" y1="362.4" x2="48.9" y2="362.4" stroke="#1c1c1c" stroke-width="1.2"/>
<line x1="44.3" y1="320.8" x2="48.9" y2="320.8" stroke="#1c1c1c" stroke-width="1.2"/>
<line x1="46.3" y1="549.6" x2="48.9" y2="549.6" stroke="#1c1c1c" stroke-width="1.2"/>
<line x1="46.3" y1="508" x2="48.9" y2="508" stroke="#1c1c1c" stroke-width="1.2"/>
<line x1="46.3" y1="466.4" x2="48.9" y2="466.4" stroke="#1c1c1c" stroke-width="1.2"/>
<line x1="46.3" y1="424.8" x2="48.9" y2="424.8" stroke="#1c1c1c" stroke-width="1.2"/>
<line x1="46.3" y1="383.2" x2="48.9" y2="383.2" stroke="#1c1c1c" stroke-width="1.2"/>
<line x1="46.3" y1="341.6" x2="48.9" y2="341.6" stroke="#1c1c1c" stroke-width="1.2"/>
<text x="40.4" y="576.2" font-size="17" text-anchor="end" fill="#111" stroke="#111" stroke-width="0.3" >0</text>
<text x="40.4" y="534.6" font-size="17" text-anchor="end" fill="#111" stroke="#111" stroke-width="0.3" >5</text>
<text x="40.4" y="493" font-size="17" text-anchor="end" fill="#111" stroke="#111" stroke-width="0.3" >10</text>
<text x="40.4" y="451.4" font-size="17" text-anchor="end" fill="#111" stroke="#111" stroke-width="0.3" >15</text>
<text x="40.4" y="409.8" font-size="17" text-anchor="end" fill="#111" stroke="#111" stroke-width="0.3" >20</text>
<text x="40.4" y="368.2" font-size="17" text-anchor="end" fill="#111" stroke="#111" stroke-width="0.3" >25</text>
<text x="40.4" y="326.6" font-size="17" text-anchor="end" fill="#111" stroke="#111" stroke-width="0.3" >30</text>
<text x="77.48" y="592.4" font-size="16" text-anchor="middle" fill="#111" stroke="#111" stroke-width="0.3" >1000</text>
<text x="172.75" y="592.4" font-size="16" text-anchor="middle" fill="#111" stroke="#111" stroke-width="0.3" >2000</text>
<text x="268.03" y="592.4" font-size="16" text-anchor="middle" fill="#111" stroke="#111" stroke-width="0.3" >3000</text>
<text x="363.3" y="592.4" font-size="16" text-anchor="middle" fill="#111" stroke="#111" stroke-width="0.3" >4000</text>
<text x="222.5" y="614.8" font-size="15" text-anchor="middle" fill="#111" stroke="#111" stroke-width="0.12" font-weight="bold" textLength="93" lengthAdjust="spacingAndGlyphs" >Time elapse (s)</text>
<text transform="translate(13.2 439.8) rotate(-90)" x="0" y="0" font-size="16" text-anchor="middle" fill="#111" stroke="#111" stroke-width="0.12" font-weight="bold" textLength="136.5" lengthAdjust="spacingAndGlyphs">H<tspan font-size="11" dy="4">2</tspan><tspan dy="-4"> evolution (μmol)</tspan></text>
<text x="19.5" y="606.6" font-size="19.5" text-anchor="start" fill="#111" stroke="#111" stroke-width="0.12" font-weight="bold" >(c)</text>
<line x1="65.6" y1="335.6" x2="94.3" y2="335.6" stroke="#111" stroke-width="1.1"/>
<text x="99" y="339.1" font-size="13" text-anchor="start" fill="#111" stroke="#111" stroke-width="0.3" textLength="31" lengthAdjust="spacingAndGlyphs" >fitting</text>
<line x1="65.6" y1="351.6" x2="94.3" y2="351.6" stroke="#f00" stroke-width="1.1"/>
<rect x="76.3" y="348.0" width="7.3" height="7.3" fill="#f00"/>
<text x="102.5" y="355.6" font-size="13" text-anchor="start" fill="#111" stroke="#111" stroke-width="0.3" textLength="58.7" lengthAdjust="spacingAndGlyphs" >Theoretical</text>
<path d="M80.4 361.33 L81.96 365.49 L86.39 365.68 L82.92 368.45 L84.1 372.73 L80.4 370.28 L76.7 372.73 L77.88 368.45 L74.41 365.68 L78.84 365.49Z" fill="#000"/>
<text x="99" y="371.8" font-size="13" text-anchor="start" fill="#111" stroke="#111" stroke-width="0.3" textLength="69.7" lengthAdjust="spacingAndGlyphs" >Experimental</text>
<path d="M67.95 511.16 L153.7 453.92 L239.45 397.34 L325.19 340.27" fill="none" stroke="#f00" stroke-width="1.1" stroke-linejoin="round" stroke-linecap="round" />
<path d="M67.95 515.49 L325.19 364.06" fill="none" stroke="#111" stroke-width="1.1" stroke-linejoin="round" stroke-linecap="round" />
<rect x="64.3" y="507.51" width="7.3" height="7.3" fill="#f00"/>
<rect x="150.05" y="450.27" width="7.3" height="7.3" fill="#f00"/>
<rect x="235.8" y="393.69" width="7.3" height="7.3" fill="#f00"/>
<rect x="321.54" y="336.62" width="7.3" height="7.3" fill="#f00"/>
<path d="M67.95 511.92 L69.44 515.88 L73.66 516.06 L70.35 518.7 L71.48 522.77 L67.95 520.44 L64.43 522.77 L65.56 518.7 L62.25 516.06 L66.47 515.88Z" fill="#000"/>
<path d="M153.7 459.17 L155.18 463.13 L159.41 463.32 L156.1 465.95 L157.23 470.02 L153.7 467.69 L150.17 470.02 L151.3 465.95 L147.99 463.32 L152.22 463.13Z" fill="#000"/>
<path d="M239.45 401.51 L240.93 405.47 L245.15 405.66 L241.84 408.29 L242.97 412.37 L239.45 410.03 L235.92 412.37 L237.05 408.29 L233.74 405.66 L237.96 405.47Z" fill="#000"/>
<path d="M325.19 358.66 L326.67 362.63 L330.9 362.81 L327.59 365.44 L328.72 369.52 L325.19 367.18 L321.66 369.52 L322.79 365.44 L319.48 362.81 L323.71 362.63Z" fill="#000"/>
<rect x="48.9" y="320.8" width="314.4" height="249.6" fill="none" stroke="#1c1c1c" stroke-width="1.3"/>
<rect x="239" y="453.5" width="124.3" height="97.5" fill="#fff"/>
<path d="M239 551 L239.22 546.69 L239.45 544.55 L239.67 545.13 L239.89 546.12 L240.12 545.28 L240.34 544.87 L240.56 545.18 L240.79 544.56 L241.01 544.9 L241.24 544.41 L241.46 543.9 L241.68 545.03 L241.91 544.46 L242.13 544.77 L242.35 544.36 L242.58 545.04 L242.8 544.62 L243.02 544.33 L243.25 543.64 L243.47 543.43 L243.69 544.76 L243.92 544.39 L244.14 543.5 L244.37 544.93 L244.59 543.99 L244.81 543.71 L245.04 542.87 L245.26 543.13 L245.48 543.67 L245.71 543.65 L245.93 543.55 L246.15 542.5 L246.38 543.57 L246.6 543.46 L246.82 543.05 L247.05 543.28 L247.27 543.29 L247.5 543.77 L247.72 543.11 L247.94 543.31 L248.17 542.36 L248.39 542.61 L248.61 542.96 L248.84 542.53 L249.06 543.06 L249.28 542.24 L249.51 542.8 L249.73 542.43 L249.95 543.45 L250.18 542.48 L250.4 543.6 L250.63 543.76 L250.85 542.74 L251.07 543.04 L251.3 542.4 L251.52 541.18 L251.74 542.9 L251.97 542.74 L252.19 542.24 L252.41 542.04 L252.64 542.39 L252.86 542.37 L253.08 541.82 L253.31 541.89 L253.53 542.75 L253.76 542.17 L253.98 542.07 L254.2 542.66 L254.43 541.88 L254.65 542.48 L254.87 541.41 L255.1 541.82 L255.32 541.84 L255.54 542.2 L255.77 541.89 L255.99 542.93 L256.21 542.4 L256.44 541.52 L256.66 542.9 L256.89 541.18 L257.11 542.62 L257.33 541.16 L257.56 542.04 L257.78 541.08 L258 541.42 L258.23 542.34 L258.45 540.72 L258.67 540.58 L258.9 541.4 L259.12 541.49 L259.34 541.39 L259.57 541.82 L259.79 540.61 L260.02 541.51 L260.24 541.19 L260.46 541.58 L260.69 541.45 L260.91 541.81 L261.13 540.36 L261.36 541.16 L261.58 540.52 L261.8 541.05 L262.03 541.45 L262.25 541.23 L262.47 541.36 L262.7 541.03 L262.92 541.24 L263.15 541.2 L263.37 541.8 L263.59 541.47 L263.82 540.07 L264.04 541.38 L264.26 541.6 L264.49 540.8 L264.71 540.18 L264.93 541.81 L265.16 541.09 L265.38 541.33 L265.6 541.96 L265.83 540.54 L266.05 540.96 L266.28 540.9 L266.5 541.37 L266.72 540.67 L266.95 541.23 L267.17 541 L267.39 541.54 L267.62 541.6 L267.84 540.14 L268.06 541.18 L268.29 540.72 L268.51 540.9 L268.73 541.13 L268.96 541.16 L269.18 540.51 L269.4 541.03 L269.63 540.94 L269.85 540.84 L270.08 540.17 L270.3 540.46 L270.52 540.63 L270.75 541.18 L270.97 541.65 L271.19 540.32 L271.42 540.32 L271.64 540.95 L271.86 540.57 L272.09 540.43 L272.31 540.41 L272.53 540.36 L272.76 541.15 L272.98 540.03 L273.21 541.61 L273.43 540.41 L273.65 540.63 L273.88 540.41 L274.1 539.85 L274.32 540.07 L274.55 541.57 L274.77 541.89 L274.99 540.46 L275.22 541.51 L275.44 540.94 L275.66 540.46 L275.89 541.88 L276.11 542.15 L276.34 540.81 L276.56 540.93 L276.78 541.1 L277.01 540.94 L277.23 541.46 L277.45 541.83 L277.68 541.07 L277.9 541.53 L278.12 541.92 L278.35 540.7 L278.57 541.03 L278.79 540.76 L279.02 541.56 L279.24 541.38 L279.47 541.58 L279.69 541.52 L279.91 540.9 L280.14 541.46 L280.36 540.82 L280.58 540.83 L280.81 539.88 L281.03 541.83 L281.25 540.53 L281.48 541.09 L281.7 541.05 L281.92 541.87 L282.15 541.32 L282.37 540.64 L282.6 541.11 L282.82 541.02 L283.04 541.24 L283.27 540.42 L283.49 541.09 L283.71 542.33 L283.94 541.48 L284.16 542.2 L284.38 542.93 L284.61 541.37 L284.83 540.31 L285.05 541.03 L285.28 541.72 L285.5 541.58 L285.73 540.4 L285.95 540.94 L286.17 541 L286.4 541.05 L286.62 540.99 L286.84 540.55 L287.07 540.69 L287.29 540.87 L287.51 541.58 L287.74 540.69 L287.96 541.37 L288.18 540.35 L288.41 541.69 L288.63 541.04 L288.86 540.95 L289.08 541.7 L289.3 539.96 L289.53 540.1 L289.75 541.19 L289.97 540.48 L290.2 540.7 L290.42 542.39 L290.64 540.76 L290.87 540.93 L291.09 540.84 L291.31 541.49 L291.54 541.03 L291.76 540.97 L291.99 540.19 L292.21 540.66 L292.43 540.85 L292.66 539.97 L292.88 541.15 L293.1 541.05 L293.33 541.86 L293.55 539.92 L293.77 540.26 L294 540.28 L294.22 540.42 L294.44 540.73 L294.67 540.66 L294.89 540.92 L295.11 540.89 L295.34 540.73 L295.56 539.9 L295.79 540.44 L296.01 540.78 L296.23 541.07 L296.46 541.1 L296.68 539.82 L296.9 540.43 L297.13 540.68 L297.35 540.91 L297.57 541.33 L297.8 540.73 L298.02 540.19 L298.24 540.91 L298.47 540.81 L298.69 540.8 L298.92 540.6 L299.14 541.56 L299.36 540.78 L299.59 541.13 L299.81 540.14 L300.03 541.07 L300.26 540.3 L300.48 539.75 L300.7 540.79 L300.93 540.95 L301.15 540.49 L301.37 540.59 L301.6 541.14 L301.82 540.31 L302.05 539.41 L302.27 540.69 L302.49 540.65 L302.72 541.12 L302.94 540.33 L303.16 541.21 L303.39 541.12 L303.61 539.76 L303.83 540.99 L304.06 539.85 L304.28 539.58 L304.5 540.29 L304.73 540.12 L304.95 539.31 L305.18 540.52 L305.4 540.74 L305.62 541.16 L305.85 540.35 L306.07 539.52 L306.29 539.81 L306.52 540.88 L306.74 540.82 L306.96 540.61 L307.19 540.15 L307.41 540.42 L307.63 540.17 L307.86 540.11 L308.08 540.44 L308.31 540.28 L308.53 540.13 L308.75 540.29 L308.98 539.94 L309.2 539.15 L309.42 539.87 L309.65 540.16 L309.87 541.14 L310.09 539.95 L310.32 541.27 L310.54 540.95 L310.76 539.66 L310.99 539.73 L311.21 540.21 L311.44 541.08 L311.66 540.31 L311.88 540.48 L312.11 539.72 L312.33 538.78 L312.55 539.93 L312.78 540.49 L313 540.7 L313.22 540.06 L313.45 540.12 L313.67 540.66 L313.89 539.93 L314.12 540.64 L314.34 539.34 L314.57 539.36 L314.79 539.33 L315.01 540.21 L315.24 539.64 L315.46 539.99 L315.68 540.13 L315.91 540.09 L316.13 540.63 L316.35 540.7 L316.58 539.41 L316.8 539.96 L317.02 539.72 L317.25 539.26 L317.47 540.81 L317.7 540.26 L317.92 539.7 L318.14 539.57 L318.37 540.01 L318.59 539.22 L318.81 539.7 L319.04 540.53 L319.26 540.38 L319.48 539.4 L319.71 539.61 L319.93 540.97 L320.15 539.14 L320.38 539.58 L320.6 539.16 L320.83 540.16 L321.05 540.12 L321.27 540.61 L321.5 538.54 L321.72 540.1 L321.94 539.11 L322.17 540.39 L322.39 539.94 L322.61 541 L322.84 540.28 L323.06 539.52 L323.28 540.8 L323.51 539.49 L323.73 539.92 L323.95 540.72 L324.18 540.43 L324.4 540.42 L324.63 540.2 L324.85 540.49 L325.07 540.67 L325.3 540.38 L325.52 540.81 L325.74 540.97 L325.97 540.28 L326.19 539.76 L326.41 541.15 L326.64 540.29 L326.86 540.67 L327.08 540.87 L327.31 539.84 L327.53 540.64 L327.76 539.5 L327.98 540.81 L328.2 540.16 L328.43 540.53 L328.65 540.84 L328.87 540.09 L329.1 540.52 L329.32 540.1 L329.54 540.47 L329.77 541.07 L329.99 540.51 L330.21 540.43 L330.44 539.92 L330.66 540.98 L330.89 540.49 L331.11 541.45 L331.33 540.11 L331.56 541.1 L331.78 541.51 L332 540.52 L332.23 539.86 L332.45 541.36 L332.67 541.12 L332.9 540.93 L333.12 541.15 L333.34 540.3 L333.57 540.97 L333.79 540.93 L334.02 540.19 L334.24 540.96 L334.46 540.28 L334.69 541.09 L334.91 541.23 L335.13 541.59 L335.36 539.49 L335.58 540.73 L335.8 540.42 L336.03 540.58 L336.25 540.47 L336.47 540.54 L336.7 539.48 L336.92 541.16 L337.15 541.46 L337.37 541.16 L337.59 541.34 L337.82 540.16 L338.04 540.13 L338.26 541.14 L338.49 541.39 L338.71 540.79 L338.93 539.8 L339.16 542.18 L339.38 540.28 L339.6 541.18 L339.83 539.97 L340.05 541.17 L340.28 540.71 L340.5 541.4 L340.72 541.09 L340.95 539.74 L341.17 540.06 L341.39 540.75 L341.62 541.01 L341.84 541.59 L342.06 540.73 L342.29 540.51 L342.51 540.54 L342.73 540.54 L342.96 541.12 L343.18 540.51 L343.41 540.49 L343.63 539.73 L343.85 539.39 L344.08 540.53 L344.3 540.88 L344.52 540.47 L344.75 540.78 L344.97 540.85 L345.19 540.45 L345.42 541.01 L345.64 540.06 L345.86 540.46 L346.09 540.25 L346.31 540.49 L346.54 540.8 L346.76 540.92 L346.98 540.51 L347.21 540.68 L347.43 540.23 L347.65 540.36 L347.88 541.12 L348.1 540.3 L348.32 541.1 L348.55 540.68 L348.77 540.49 L348.99 541.5 L349.22 540.26 L349.44 540.22 L349.66 540.39 L349.89 540.53 L350.11 540.5 L350.34 540.84 L350.56 540.43" fill="none" stroke="#9a1515" stroke-width="1.4" stroke-linejoin="round" stroke-linecap="round" />
<line x1="239" y1="453.5" x2="363.3" y2="453.5" stroke="#777" stroke-width="0.9"/>
<line x1="239" y1="551" x2="363.3" y2="551" stroke="#777" stroke-width="0.9"/>
<line x1="239" y1="453.5" x2="239" y2="551" stroke="#777" stroke-width="0.9"/>
<line x1="239" y1="453.5" x2="239" y2="455.7" stroke="#777" stroke-width="0.8"/>
<line x1="239" y1="551" x2="239" y2="548.8" stroke="#777" stroke-width="0.8"/>
<line x1="254.54" y1="453.5" x2="254.54" y2="454.9" stroke="#777" stroke-width="0.8"/>
<line x1="254.54" y1="551" x2="254.54" y2="549.6" stroke="#777" stroke-width="0.8"/>
<line x1="270.07" y1="453.5" x2="270.07" y2="455.7" stroke="#777" stroke-width="0.8"/>
<line x1="270.07" y1="551" x2="270.07" y2="548.8" stroke="#777" stroke-width="0.8"/>
<line x1="285.61" y1="453.5" x2="285.61" y2="454.9" stroke="#777" stroke-width="0.8"/>
<line x1="285.61" y1="551" x2="285.61" y2="549.6" stroke="#777" stroke-width="0.8"/>
<line x1="301.15" y1="453.5" x2="301.15" y2="455.7" stroke="#777" stroke-width="0.8"/>
<line x1="301.15" y1="551" x2="301.15" y2="548.8" stroke="#777" stroke-width="0.8"/>
<line x1="316.69" y1="453.5" x2="316.69" y2="454.9" stroke="#777" stroke-width="0.8"/>
<line x1="316.69" y1="551" x2="316.69" y2="549.6" stroke="#777" stroke-width="0.8"/>
<line x1="332.23" y1="453.5" x2="332.23" y2="455.7" stroke="#777" stroke-width="0.8"/>
<line x1="332.23" y1="551" x2="332.23" y2="548.8" stroke="#777" stroke-width="0.8"/>
<line x1="347.76" y1="453.5" x2="347.76" y2="454.9" stroke="#777" stroke-width="0.8"/>
<line x1="347.76" y1="551" x2="347.76" y2="549.6" stroke="#777" stroke-width="0.8"/>
<line x1="363.3" y1="453.5" x2="363.3" y2="455.7" stroke="#777" stroke-width="0.8"/>
<line x1="363.3" y1="551" x2="363.3" y2="548.8" stroke="#777" stroke-width="0.8"/>
<line x1="239" y1="453.5" x2="241.2" y2="453.5" stroke="#777" stroke-width="0.8"/>
<line x1="239" y1="461.62" x2="240.4" y2="461.62" stroke="#777" stroke-width="0.8"/>
<line x1="239" y1="469.75" x2="241.2" y2="469.75" stroke="#777" stroke-width="0.8"/>
<line x1="239" y1="477.88" x2="240.4" y2="477.88" stroke="#777" stroke-width="0.8"/>
<line x1="239" y1="486" x2="241.2" y2="486" stroke="#777" stroke-width="0.8"/>
<line x1="239" y1="494.12" x2="240.4" y2="494.12" stroke="#777" stroke-width="0.8"/>
<line x1="239" y1="502.25" x2="241.2" y2="502.25" stroke="#777" stroke-width="0.8"/>
<line x1="239" y1="510.38" x2="240.4" y2="510.38" stroke="#777" stroke-width="0.8"/>
<line x1="239" y1="518.5" x2="241.2" y2="518.5" stroke="#777" stroke-width="0.8"/>
<line x1="239" y1="526.62" x2="240.4" y2="526.62" stroke="#777" stroke-width="0.8"/>
<line x1="239" y1="534.75" x2="241.2" y2="534.75" stroke="#777" stroke-width="0.8"/>
<line x1="239" y1="542.88" x2="240.4" y2="542.88" stroke="#777" stroke-width="0.8"/>
<line x1="239" y1="551" x2="241.2" y2="551" stroke="#777" stroke-width="0.8"/>
<text x="237.2" y="449" font-size="9.8" text-anchor="middle" fill="#222" stroke="#222" stroke-width="0.3" >0</text>
<text x="268.27" y="449" font-size="9.8" text-anchor="middle" fill="#222" stroke="#222" stroke-width="0.3" >1000</text>
<text x="299.35" y="449" font-size="9.8" text-anchor="middle" fill="#222" stroke="#222" stroke-width="0.3" >2000</text>
<text x="330.43" y="449" font-size="9.8" text-anchor="middle" fill="#222" stroke="#222" stroke-width="0.3" >3000</text>
<text x="361.5" y="449" font-size="9.8" text-anchor="middle" fill="#222" stroke="#222" stroke-width="0.3" >4000</text>
<text x="236.3" y="456.9" font-size="9.8" text-anchor="end" fill="#222" stroke="#222" stroke-width="0.3" >0</text>
<text x="236.3" y="473.15" font-size="9.8" text-anchor="end" fill="#222" stroke="#222" stroke-width="0.3" >-2</text>
<text x="236.3" y="489.4" font-size="9.8" text-anchor="end" fill="#222" stroke="#222" stroke-width="0.3" >-4</text>
<text x="236.3" y="505.65" font-size="9.8" text-anchor="end" fill="#222" stroke="#222" stroke-width="0.3" >-6</text>
<text x="236.3" y="521.9" font-size="9.8" text-anchor="end" fill="#222" stroke="#222" stroke-width="0.3" >-8</text>
<text x="236.3" y="538.15" font-size="9.8" text-anchor="end" fill="#222" stroke="#222" stroke-width="0.3" >-10</text>
<text x="236.3" y="554.4" font-size="9.8" text-anchor="end" fill="#222" stroke="#222" stroke-width="0.3" >-12</text>
<text x="302.7" y="437" font-size="11.5" text-anchor="middle" fill="#111" stroke="#111" stroke-width="0.12" font-weight="bold" textLength="75.5" lengthAdjust="spacingAndGlyphs" >Time elapse (s)</text>
<text transform="translate(221.5 501.2) rotate(-90)" x="0" y="0" font-size="10" text-anchor="middle" fill="#111" stroke="#111" stroke-width="0.12" font-weight="bold" textLength="115" lengthAdjust="spacingAndGlyphs">Current Density(mA/cm2)</text>
<rect x="433" y="323.4" width="307.8" height="249.6" fill="none" stroke="#1c1c1c" stroke-width="1.3"/>
<line x1="433" y1="573" x2="433" y2="577.6" stroke="#1c1c1c" stroke-width="1.2"/>
<line x1="433" y1="323.4" x2="433" y2="328" stroke="#1c1c1c" stroke-width="1.2"/>
<line x1="454.99" y1="573" x2="454.99" y2="575.6" stroke="#1c1c1c" stroke-width="1.2"/>
<line x1="454.99" y1="323.4" x2="454.99" y2="326" stroke="#1c1c1c" stroke-width="1.2"/>
<line x1="476.97" y1="573" x2="476.97" y2="577.6" stroke="#1c1c1c" stroke-width="1.2"/>
<line x1="476.97" y1="323.4" x2="476.97" y2="328" stroke="#1c1c1c" stroke-width="1.2"/>
<line x1="498.96" y1="573" x2="498.96" y2="575.6" stroke="#1c1c1c" stroke-width="1.2"/>
<line x1="498.96" y1="323.4" x2="498.96" y2="326" stroke="#1c1c1c" stroke-width="1.2"/>
<line x1="520.94" y1="573" x2="520.94" y2="577.6" stroke="#1c1c1c" stroke-width="1.2"/>
<line x1="520.94" y1="323.4" x2="520.94" y2="328" stroke="#1c1c1c" stroke-width="1.2"/>
<line x1="542.93" y1="573" x2="542.93" y2="575.6" stroke="#1c1c1c" stroke-width="1.2"/>
<line x1="542.93" y1="323.4" x2="542.93" y2="326" stroke="#1c1c1c" stroke-width="1.2"/>
<line x1="564.91" y1="573" x2="564.91" y2="577.6" stroke="#1c1c1c" stroke-width="1.2"/>
<line x1="564.91" y1="323.4" x2="564.91" y2="328" stroke="#1c1c1c" stroke-width="1.2"/>
<line x1="586.9" y1="573" x2="586.9" y2="575.6" stroke="#1c1c1c" stroke-width="1.2"/>
<line x1="586.9" y1="323.4" x2="586.9" y2="326" stroke="#1c1c1c" stroke-width="1.2"/>
<line x1="608.89" y1="573" x2="608.89" y2="577.6" stroke="#1c1c1c" stroke-width="1.2"/>
<line x1="608.89" y1="323.4" x2="608.89" y2="328" stroke="#1c1c1c" stroke-width="1.2"/>
<line x1="630.87" y1="573" x2="630.87" y2="575.6" stroke="#1c1c1c" stroke-width="1.2"/>
<line x1="630.87" y1="323.4" x2="630.87" y2="326" stroke="#1c1c1c" stroke-width="1.2"/>
<line x1="652.86" y1="573" x2="652.86" y2="577.6" stroke="#1c1c1c" stroke-width="1.2"/>
<line x1="652.86" y1="323.4" x2="652.86" y2="328" stroke="#1c1c1c" stroke-width="1.2"/>
<line x1="674.84" y1="573" x2="674.84" y2="575.6" stroke="#1c1c1c" stroke-width="1.2"/>
<line x1="674.84" y1="323.4" x2="674.84" y2="326" stroke="#1c1c1c" stroke-width="1.2"/>
<line x1="696.83" y1="573" x2="696.83" y2="577.6" stroke="#1c1c1c" stroke-width="1.2"/>
<line x1="696.83" y1="323.4" x2="696.83" y2="328" stroke="#1c1c1c" stroke-width="1.2"/>
<line x1="718.81" y1="573" x2="718.81" y2="575.6" stroke="#1c1c1c" stroke-width="1.2"/>
<line x1="718.81" y1="323.4" x2="718.81" y2="326" stroke="#1c1c1c" stroke-width="1.2"/>
<line x1="740.8" y1="573" x2="740.8" y2="577.6" stroke="#1c1c1c" stroke-width="1.2"/>
<line x1="740.8" y1="323.4" x2="740.8" y2="328" stroke="#1c1c1c" stroke-width="1.2"/>
<line x1="428.4" y1="323.4" x2="433" y2="323.4" stroke="#1c1c1c" stroke-width="1.2"/>
<line x1="740.8" y1="323.4" x2="736.2" y2="323.4" stroke="#1c1c1c" stroke-width="1.2"/>
<line x1="430.4" y1="342.6" x2="433" y2="342.6" stroke="#1c1c1c" stroke-width="1.2"/>
<line x1="740.8" y1="342.6" x2="738.2" y2="342.6" stroke="#1c1c1c" stroke-width="1.2"/>
<line x1="428.4" y1="361.8" x2="433" y2="361.8" stroke="#1c1c1c" stroke-width="1.2"/>
<line x1="740.8" y1="361.8" x2="736.2" y2="361.8" stroke="#1c1c1c" stroke-width="1.2"/>
<line x1="430.4" y1="381" x2="433" y2="381" stroke="#1c1c1c" stroke-width="1.2"/>
<line x1="740.8" y1="381" x2="738.2" y2="381" stroke="#1c1c1c" stroke-width="1.2"/>
<line x1="428.4" y1="400.2" x2="433" y2="400.2" stroke="#1c1c1c" stroke-width="1.2"/>
<line x1="740.8" y1="400.2" x2="736.2" y2="400.2" stroke="#1c1c1c" stroke-width="1.2"/>
<line x1="430.4" y1="419.4" x2="433" y2="419.4" stroke="#1c1c1c" stroke-width="1.2"/>
<line x1="740.8" y1="419.4" x2="738.2" y2="419.4" stroke="#1c1c1c" stroke-width="1.2"/>
<line x1="428.4" y1="438.6" x2="433" y2="438.6" stroke="#1c1c1c" stroke-width="1.2"/>
<line x1="740.8" y1="438.6" x2="736.2" y2="438.6" stroke="#1c1c1c" stroke-width="1.2"/>
<line x1="430.4" y1="457.8" x2="433" y2="457.8" stroke="#1c1c1c" stroke-width="1.2"/>
<line x1="740.8" y1="457.8" x2="738.2" y2="457.8" stroke="#1c1c1c" stroke-width="1.2"/>
<line x1="428.4" y1="477" x2="433" y2="477" stroke="#1c1c1c" stroke-width="1.2"/>
<line x1="740.8" y1="477" x2="736.2" y2="477" stroke="#1c1c1c" stroke-width="1.2"/>
<line x1="430.4" y1="496.2" x2="433" y2="496.2" stroke="#1c1c1c" stroke-width="1.2"/>
<line x1="740.8" y1="496.2" x2="738.2" y2="496.2" stroke="#1c1c1c" stroke-width="1.2"/>
<line x1="428.4" y1="515.4" x2="433" y2="515.4" stroke="#1c1c1c" stroke-width="1.2"/>
<line x1="740.8" y1="515.4" x2="736.2" y2="515.4" stroke="#1c1c1c" stroke-width="1.2"/>
<line x1="430.4" y1="534.6" x2="433" y2="534.6" stroke="#1c1c1c" stroke-width="1.2"/>
<line x1="740.8" y1="534.6" x2="738.2" y2="534.6" stroke="#1c1c1c" stroke-width="1.2"/>
<line x1="428.4" y1="553.8" x2="433" y2="553.8" stroke="#1c1c1c" stroke-width="1.2"/>
<line x1="740.8" y1="553.8" x2="736.2" y2="553.8" stroke="#1c1c1c" stroke-width="1.2"/>
<line x1="430.4" y1="573" x2="433" y2="573" stroke="#1c1c1c" stroke-width="1.2"/>
<line x1="740.8" y1="573" x2="738.2" y2="573" stroke="#1c1c1c" stroke-width="1.2"/>
<text x="424.5" y="328.6" font-size="15" text-anchor="end" fill="#111" stroke="#111" stroke-width="0.3" >0</text>
<text x="424.5" y="367" font-size="15" text-anchor="end" fill="#111" stroke="#111" stroke-width="0.3" >-2</text>
<text x="424.5" y="405.4" font-size="15" text-anchor="end" fill="#111" stroke="#111" stroke-width="0.3" >-4</text>
<text x="424.5" y="443.8" font-size="15" text-anchor="end" fill="#111" stroke="#111" stroke-width="0.3" >-6</text>
<text x="424.5" y="482.2" font-size="15" text-anchor="end" fill="#111" stroke="#111" stroke-width="0.3" >-8</text>
<text x="424.5" y="520.6" font-size="15" text-anchor="end" fill="#111" stroke="#111" stroke-width="0.3" >-10</text>
<text x="424.5" y="559" font-size="15" text-anchor="end" fill="#111" stroke="#111" stroke-width="0.3" >-12</text>
<text x="433" y="592.8" font-size="15" text-anchor="middle" fill="#111" stroke="#111" stroke-width="0.3" >0</text>
<text x="476.97" y="592.8" font-size="15" text-anchor="middle" fill="#111" stroke="#111" stroke-width="0.3" >10</text>
<text x="520.94" y="592.8" font-size="15" text-anchor="middle" fill="#111" stroke="#111" stroke-width="0.3" >20</text>
<text x="564.91" y="592.8" font-size="15" text-anchor="middle" fill="#111" stroke="#111" stroke-width="0.3" >30</text>
<text x="608.89" y="592.8" font-size="15" text-anchor="middle" fill="#111" stroke="#111" stroke-width="0.3" >40</text>
<text x="652.86" y="592.8" font-size="15" text-anchor="middle" fill="#111" stroke="#111" stroke-width="0.3" >50</text>
<text x="696.83" y="592.8" font-size="15" text-anchor="middle" fill="#111" stroke="#111" stroke-width="0.3" >60</text>
<text x="740.8" y="592.8" font-size="15" text-anchor="middle" fill="#111" stroke="#111" stroke-width="0.3" >70</text>
<text x="591.5" y="612.5" font-size="14.5" text-anchor="middle" fill="#111" stroke="#111" stroke-width="0.12" font-weight="bold" textLength="95" lengthAdjust="spacingAndGlyphs" >Time elapse (h)</text>
<text transform="translate(409.1 443.8) rotate(-90)" x="0" y="0" font-size="16" text-anchor="middle" fill="#111" stroke="#111" stroke-width="0.12" font-weight="bold" textLength="118" lengthAdjust="spacingAndGlyphs">Current (mA/cm<tspan font-size="13" dy="-6.5" font-weight="bold">2</tspan><tspan dy="6.5">)</tspan></text>
<text x="396.9" y="607.6" font-size="19.5" text-anchor="start" fill="#111" stroke="#111" stroke-width="0.12" font-weight="bold" >(d)</text>
<text x="437.9" y="344.4" font-size="18" text-anchor="start" fill="#1b75d0" stroke="#1b75d0" stroke-width="0.3" textLength="88.5" lengthAdjust="spacingAndGlyphs" >Unprotected</text>
<text x="498.9" y="498.5" font-size="17.5" text-anchor="start" fill="#f00000" stroke="#f00000" stroke-width="0.3" textLength="107.5" lengthAdjust="spacingAndGlyphs" >TiO<tspan font-size="12" dy="4">2</tspan><tspan dy="-4">-protected</tspan></text>
<text x="611" y="425.4" font-size="18" text-anchor="start" fill="#111" stroke="#111" stroke-width="0.3" textLength="105" lengthAdjust="spacingAndGlyphs" >Contact failure</text>
<line x1="697" y1="435.7" x2="718.95" y2="448.77" stroke="#000" stroke-width="1.9"/>
<path d="M728.4 454.4 L716.45 451.01 L719.73 445.51 Z" fill="#000"/>
<path d="M433 496.94 L433 496.73 L433 496.32 L433 496.18 L433 495.89 L433 495.58 L433 495.27 L433 495.1 L433 494.6 L433 494.54 L433 494.24 L433 493.97 L433 493.71 L433 493.34 L433 493.11 L433.01 492.93 L433.01 492.64 L433.01 492.35 L433.01 491.91 L433.01 491.85 L433.01 491.65 L433.01 491.37 L433.01 491.03 L433.01 490.59 L433.02 490.58 L433.02 490.21 L433.02 489.71 L433.02 489.75 L433.02 489.3 L433.03 489.07 L433.03 488.88 L433.03 488.81 L433.03 488.39 L433.03 488.2 L433.04 488.1 L433.04 487.83 L433.04 487.41 L433.05 487.15 L433.05 486.8 L433.05 486.6 L433.05 486.47 L433.06 486.22 L433.06 485.94 L433.06 485.79 L433.07 485.36 L433.07 485.19 L433.08 485.03 L433.08 484.77 L433.09 484.57 L433.09 484.27 L433.09 483.95 L433.1 483.78 L433.1 483.4 L433.11 483.1 L433.11 483.08 L433.12 482.78 L433.13 482.58 L433.13 482.14 L433.14 482.04 L433.14 481.78 L433.15 481.52 L433.16 481.15 L433.16 481.11 L433.17 481 L433.18 480.71 L433.18 480.38 L433.19 480.21 L433.2 480.05 L433.21 479.47 L433.21 479.51 L433.22 479.34 L433.23 479.13 L433.24 479 L433.25 478.71 L433.26 478.4 L433.26 478.18 L433.27 478 L433.28 477.64 L433.29 477.46 L433.3 477.33 L433.36 477.22 L433.45 476.79 L433.58 476.59 L433.74 476.4 L433.91 476.31 L434.08 475.96 L434.24 475.9 L434.38 475.44 L434.5 475.3 L434.62 475.08 L434.75 474.96 L434.87 474.77 L434.99 474.29 L435.1 474.13 L435.22 474.04 L435.34 473.72 L435.46 473.41 L435.57 473.44 L435.69 473.17 L435.8 472.94 L435.92 472.62 L436.03 473.68 L436.14 471.94 L436.25 473.32 L436.37 470.68 L436.48 470.53 L436.59 471.57 L436.7 470.26 L436.81 471.69 L436.92 470.97 L437.03 469.32 L437.14 470.29 L437.25 469.56 L437.36 470.85 L437.46 468.77 L437.57 468.77 L437.67 470.52 L437.77 471.53 L437.88 471.01 L437.98 468.46 L438.08 468.41 L438.18 469.76 L438.28 467.54 L438.38 466.29 L438.48 467.37 L438.59 467.54 L438.69 465.78 L438.79 464.57 L438.89 464.59 L439 466.89 L439.1 464.95 L439.21 465.47 L439.32 465.67 L439.43 465.93 L439.54 464.56 L439.65 465.34 L439.77 463.45 L439.89 463.87 L440.01 462.86 L440.13 465.23 L440.26 463.63 L440.39 462.56 L440.53 462.81 L440.67 462.76 L440.82 463.66 L440.96 460.7 L441.11 461.17 L441.26 461.76 L441.41 465.04 L441.56 462.95 L441.71 461.46 L441.86 462.25 L442.01 463.66 L442.16 460.71 L442.3 460.34 L442.44 462.03 L442.58 460.96 L442.71 460.96 L442.84 459.34 L442.97 462.04 L443.09 461.57 L443.2 459.98 L443.31 459.9 L443.41 456.42 L443.51 459.39 L443.61 458.17 L443.71 458.69 L443.8 458.75 L443.89 457.29 L443.97 455.43 L444.06 457.66 L444.14 456.09 L444.22 456.34 L444.3 455.77 L444.38 455.84 L444.46 453.24 L444.53 457.23 L444.61 455.83 L444.69 456.61 L444.76 457.41 L444.84 454.81 L444.91 452.38 L444.99 453.23 L445.07 452.61 L445.14 453.21 L445.22 453.67 L445.31 450.93 L445.39 453.51 L445.47 451.05 L445.56 452.98 L445.65 452.26 L445.74 451.79 L445.84 451.85 L445.93 451.07 L446.04 450.76 L446.14 449.25 L446.25 451.02 L446.36 453.06 L446.48 453.01 L446.6 452.01 L446.73 451.04 L446.87 449.15 L447.02 451.44 L447.18 449.39 L447.34 449.13 L447.5 448.61 L447.67 448.83 L447.85 447.97 L448.02 448.17 L448.2 446.78 L448.38 447.45 L448.56 450.49 L448.74 447.55 L448.92 447.27 L449.09 448.15 L449.27 448.35 L449.44 446.22 L449.62 447.41 L449.79 448.91 L449.97 448.32 L450.14 448.35 L450.32 450.29 L450.51 447.84 L450.69 448.98 L450.88 448.48 L451.07 451.09 L451.26 447.13 L451.47 448.81 L451.7 449.11 L451.95 450.67 L452.22 450.73 L452.49 451.79 L452.77 448.34 L453.05 451.24 L453.32 450.1 L453.58 449.77 L453.83 451.33 L454.05 449.7 L454.24 448.43 L454.39 450.61 L454.51 449.39 L454.58 450.56 L454.62 451.94 L454.64 452.03 L454.67 453.73 L454.69 451.76 L454.71 450.34 L454.73 451.46 L454.75 451.46 L454.77 451.3 L454.79 453.49 L454.81 452.4 L454.82 451.02 L454.84 454.45 L454.85 453.7 L454.87 454.5 L454.88 454.43 L454.89 455.3 L454.9 454.83 L454.91 456.51 L454.92 455.79 L454.93 456 L454.94 456.28 L454.94 454.3 L454.95 456.11 L454.96 456.26 L454.96 457.09 L454.97 455.48 L454.97 459.35 L454.98 457.78 L454.98 456.48 L454.99 456.16 L454.99 458.16 L455 458.67 L455 458.19 L455.01 459.45 L455.01 458.85 L455.01 460.57 L455.02 459.32 L455.02 460.43 L455.03 461.94 L455.03 464.13 L455.04 460.12 L455.04 461.06 L455.05 460.89 L455.05 463.13 L455.06 461.09 L455.07 462.17 L455.07 462.99 L455.08 462.13 L455.09 462.43 L455.1 463.29 L455.11 461.61 L455.12 462.67 L455.13 464.17 L455.14 465.11 L455.15 464.97 L455.17 463.33 L455.18 465.16 L455.2 466.92 L455.21 466.88 L455.23 466.37 L455.25 465.64 L455.27 467.7 L455.29 466.48 L455.31 466 L455.33 466.67 L455.36 469.59 L455.38 468.33 L455.41 469.67 L455.47 467.93 L455.55 470.62 L455.66 467.79 L455.79 468.93 L455.94 474.47 L456.11 471.28 L456.29 468.98 L456.49 470.04 L456.69 471.07 L456.9 473.02 L457.11 469.77 L457.32 467.39 L457.53 470.4 L457.73 471.03 L457.92 471.22 L458.13 473.61 L458.34 471.59 L458.57 472.54 L458.79 468.66 L459.03 472.54 L459.27 474.94 L459.52 472.22 L459.77 471.11 L460.03 470.83 L460.29 474.03 L460.55 468.52 L460.81 470.08 L461.07 471.16 L461.33 471.66 L461.59 469.25 L461.85 470.69 L462.11 469.48 L462.36 470.25 L462.61 469.74 L462.86 467.72 L463.11 469.97 L463.36 471.79 L463.62 468.13 L463.88 469.63 L464.14 471.48 L464.41 468.07 L464.67 470.63 L464.93 468.2 L465.19 472.66 L465.46 475.08 L465.72 474.56 L465.97 470.15 L466.23 472.13 L466.48 470.95 L466.72 470.97 L466.97 473.92 L467.2 468.23 L467.43 473.03 L467.66 470.85 L467.87 473.79 L468.08 471.37 L468.28 469.65 L468.48 471.54 L468.66 472.42 L468.84 470.95 L469.02 471.76 L469.19 469.62 L469.36 466.25 L469.52 472.16 L469.68 471.58 L469.83 470.28 L469.99 469.91 L470.14 471.63 L470.29 468.41 L470.44 467.67 L470.58 468.46 L470.73 470.96 L470.88 465.55 L471.03 470.46 L471.18 466.54 L471.33 465.36 L471.48 469.84 L471.64 466.88 L471.79 464.24 L471.96 465.9 L472.12 468.27 L472.29 468.6 L472.47 465.18 L472.65 466.68 L472.83 467.13 L473.02 464.25 L473.21 466.09 L473.4 465.16 L473.6 464 L473.8 463.94 L474 464.91 L474.2 464.69 L474.41 463.35 L474.61 463.48 L474.82 466.42 L475.03 464.47 L475.23 465.67 L475.44 466.16 L475.65 464.79 L475.86 468.01 L476.06 461.67 L476.27 464.79 L476.47 462.39 L476.67 466.59 L476.87 466.13 L477.07 458.66 L477.26 460.48 L477.45 463.58 L477.64 463.67 L477.83 463.4 L478.02 461.62 L478.2 462.5 L478.38 462.73 L478.57 461.09 L478.75 463.13 L478.93 456.38 L479.1 461.99 L479.28 458.48 L479.46 462.29 L479.64 459.74 L479.81 458.24 L479.99 460.58 L480.17 457.83 L480.34 457.65 L480.52 456.17 L480.7 459.07 L480.88 459.94 L481.05 460.81 L481.23 458.31 L481.41 460.51 L481.59 458.28 L481.78 457.89 L481.96 459.05 L482.14 459.85 L482.33 456.89 L482.52 456.92 L482.71 456.92 L482.9 457.25 L483.09 455.13 L483.3 458.83 L483.52 455.83 L483.75 457.42 L483.99 454.7 L484.24 456.94 L484.48 456.87 L484.73 455.11 L484.97 459.86 L485.21 456.43 L485.43 459.1 L485.65 457.33 L485.85 453.94 L486.03 454.66 L486.19 455.48 L486.33 454.87 L486.44 454.69 L486.52 454.11 L486.59 452.09 L486.66 453.79 L486.73 451.19 L486.79 454.08 L486.84 452.53 L486.9 452.31 L486.95 452.66 L487 453.01 L487.04 450.71 L487.09 450.07 L487.13 450.63 L487.17 449.19 L487.2 450.22 L487.24 453.02 L487.27 449.58 L487.31 451.36 L487.34 448.66 L487.37 450.4 L487.4 449.4 L487.44 449.45 L487.47 449.95 L487.5 451.12 L487.53 449 L487.56 448.67 L487.59 447.1 L487.62 448.72 L487.64 447.48 L487.67 448.53 L487.7 447.23 L487.72 449.12 L487.74 444.4 L487.77 446.17 L487.79 447.34 L487.81 445.61 L487.83 444.83 L487.85 445.21 L487.88 443.63 L487.9 445.18 L487.92 447.71 L487.94 445.91 L487.95 442.95 L487.97 442.98 L487.99 443.3 L488.01 444.74 L488.03 442.3 L488.05 442.2 L488.07 443.84 L488.09 443.57 L488.11 441.83 L488.13 440.69 L488.15 439.92 L488.17 440.7 L488.19 438.61 L488.21 441.94 L488.24 440.03 L488.26 441.11 L488.28 442.53 L488.31 441.45 L488.33 438.41 L488.36 440.58 L488.38 440.68 L488.41 438.15 L488.44 437.65 L488.47 438.42 L488.5 436.38 L488.53 439.82 L488.56 434.92 L488.6 436.23 L488.63 436.99 L488.67 436.8 L488.7 437.02 L488.74 436.9 L488.78 436.07 L488.82 437.45 L488.86 433.27 L488.9 435.59 L488.94 434.49 L488.99 435.26 L489.03 435.12 L489.08 433.51 L489.12 433.59 L489.17 435.07 L489.21 434.29 L489.26 432.81 L489.31 435.83 L489.36 435.9 L489.41 431.13 L489.46 433 L489.51 435.41 L489.56 433.09 L489.61 432.17 L489.66 431.41 L489.72 430.77 L489.77 430.92 L489.82 430.27 L489.88 431.58 L489.93 429.96 L489.98 429.66 L490.04 428.51 L490.09 429.64 L490.15 428.39 L490.2 429 L490.26 430.22 L490.32 429.16 L490.37 429.09 L490.43 428.66 L490.48 428.06 L490.54 427.59 L490.6 427.13 L490.65 428.17 L490.71 425.71 L490.76 428.38 L490.82 426.56 L490.88 425.38 L490.93 425.45 L490.99 424.98 L491.04 425.74 L491.1 424.44 L491.16 426.43 L491.21 423.87 L491.27 421.84 L491.32 423.45 L491.37 421.67 L491.43 423.79 L491.48 424.86 L491.54 424.12 L491.59 421.49 L491.64 421.94 L491.69 424.74 L491.74 422.75 L491.8 422.12 L491.85 423.14 L491.9 424.57 L491.94 422.94 L491.99 421.3 L492.04 421.31 L492.09 421.38 L492.13 419.66 L492.18 418.88 L492.22 419.96 L492.27 418.51 L492.31 419.33 L492.35 419.27 L492.4 421.71 L492.44 417.63 L492.49 418.26 L492.53 417.96 L492.57 418.43 L492.62 418.91 L492.66 416.82 L492.7 416.17 L492.75 414.94 L492.79 415.55 L492.84 417.06 L492.89 416.22 L492.93 414.7 L492.98 415.22 L493.03 415.46 L493.08 415.78 L493.12 414.22 L493.17 414.38 L493.23 412.26 L493.28 412.81 L493.33 415.89 L493.39 411.08 L493.44 413.06 L493.5 413.49 L493.56 412.53 L493.62 411.77 L493.68 412.43 L493.74 412.26 L493.8 411.93 L493.87 409.53 L493.94 411.37 L494.01 410.29 L494.08 410.42 L494.15 411.12 L494.23 411.38 L494.31 411.46 L494.4 409.55 L494.49 411.02 L494.59 411.08 L494.69 410.81 L494.8 410.88 L494.91 408.8 L495.03 408.54 L495.15 409.52 L495.28 406.67 L495.41 408.34 L495.54 407.25 L495.67 407.24 L495.81 405.4 L495.95 406.22 L496.1 407.07 L496.25 407.95 L496.41 407.87 L496.58 406.37 L496.75 406.02 L496.92 405.04 L497.1 406.3 L497.29 405.3 L497.48 406.11 L497.67 407.27 L497.86 404.92 L498.06 402.96 L498.26 403.52 L498.47 402.61 L498.67 402.73 L498.88 405.55 L499.09 404.08 L499.29 401.82 L499.5 404.28 L499.71 404.86 L499.92 402.78 L500.13 402.29 L500.34 402.59 L500.55 403.24 L500.75 403.6 L500.96 404.19 L501.16 404.18 L501.36 404.13 L501.56 404.34 L501.75 403.52 L501.95 400.95 L502.15 402.72 L502.35 403.37 L502.55 402.67 L502.75 404.38 L502.95 403.03 L503.16 402.54 L503.36 405.57 L503.56 404.84 L503.76 404.5 L503.96 405.55 L504.16 405.91 L504.36 405.22 L504.56 402.04 L504.76 404.34 L504.95 404.75 L505.15 404.28 L505.34 405.86 L505.53 407.21 L505.73 405.36 L505.92 404.75 L506.11 408.71 L506.3 405.9 L506.49 405.13 L506.67 407.06 L506.86 407.45 L507.05 406.26 L507.24 408.22 L507.43 406.85 L507.62 406.49 L507.82 407.98 L508.01 408.85 L508.2 407.32 L508.4 408.63 L508.59 408.28 L508.79 411.93 L508.99 407.84 L509.19 410.49 L509.4 408.9 L509.6 408.95 L509.81 410.11 L510.03 410.45 L510.24 411.05 L510.46 410.08 L510.68 409.11 L510.9 409.35 L511.13 410.76 L511.36 411 L511.58 412.13 L511.81 411.1 L512.04 412.01 L512.27 412.69 L512.5 411.2 L512.73 409.34 L512.95 409.81 L513.18 409.6 L513.4 413.32 L513.62 410.46 L513.84 413.01 L514.06 412.28 L514.27 413.65 L514.48 412.8 L514.7 411.45 L514.92 411.27 L515.15 411.53 L515.38 411.53 L515.61 410.55 L515.83 411 L516.06 412.81 L516.28 408.66 L516.5 410.82 L516.7 409.23 L516.9 410.34 L517.09 410.92 L517.26 409.64 L517.42 410.44 L517.56 407.41 L517.68 410.46 L517.79 408.22 L517.89 409.5 L517.99 408.77 L518.08 405.23 L518.16 407.21 L518.24 408.15 L518.31 409.52 L518.38 407.76 L518.45 407.48 L518.51 405.22 L518.57 408.38 L518.63 408.57 L518.69 406.18 L518.74 405.61 L518.79 403.67 L518.85 406.4 L518.9 408.32 L518.95 405.66 L519 406.05 L519.05 404.92 L519.1 402.82 L519.16 405.34 L519.21 401.99 L519.27 402.97 L519.33 403.3 L519.4 403.77 L519.47 402.97 L519.54 402.7 L519.61 401.09 L519.69 400.23 L519.78 401.63 L519.87 400.5 L519.97 399.58 L520.07 399.44 L520.18 400.19 L520.31 398.38 L520.46 398.81 L520.63 398.31 L520.81 400.33 L521 400.45 L521.2 402.22 L521.41 397.87 L521.63 398.71 L521.85 400.48 L522.08 398.98 L522.31 398.71 L522.54 401.01 L522.77 398.41 L522.99 397.28 L523.21 396.94 L523.43 398.78 L523.63 398.58 L523.83 396.41 L524.01 396.71 L524.18 398.36 L524.35 398.23 L524.51 396.58 L524.66 397.91 L524.82 397.66 L524.97 394.64 L525.12 396.21 L525.26 396.88 L525.41 395.49 L525.55 393.4 L525.69 395.42 L525.83 396.45 L525.96 397.23 L526.1 392.49 L526.24 398.04 L526.37 393.34 L526.51 395.62 L526.65 395.74 L526.78 395.23 L526.92 394.01 L527.06 392.23 L527.21 394.16 L527.35 392.35 L527.49 389.97 L527.64 396.19 L527.79 393.45 L527.95 394.58 L528.11 391.12 L528.27 393.78 L528.43 393.73 L528.59 393.49 L528.76 391.39 L528.92 389.77 L529.09 390.79 L529.26 388.16 L529.44 388.57 L529.62 390.53 L529.8 389.06 L529.98 389.89 L530.17 389.81 L530.37 392.13 L530.57 391.27 L530.78 389.57 L531 390.99 L531.24 388.52 L531.48 388.96 L531.73 390.38 L531.98 387.72 L532.24 388.81 L532.5 387.5 L532.76 389.17 L533.01 390.94 L533.26 388.04 L533.51 389.19 L533.74 387.83 L533.96 387.52 L534.18 387.46 L534.39 390.78 L534.59 392 L534.8 389.9 L534.99 388.65 L535.19 390.57 L535.38 389.54 L535.58 391.13 L535.77 390.74 L535.96 390.94 L536.16 391.53 L536.35 390.28 L536.55 390.63 L536.75 389.16 L536.95 390.76 L537.16 389.59 L537.37 391.1 L537.59 390.06 L537.8 391.24 L538.02 391.55 L538.23 389.17 L538.45 389.75 L538.67 389.44 L538.89 391.3 L539.12 392.29 L539.34 391.11 L539.56 389.52 L539.79 391.57 L540.01 387.88 L540.24 391.38 L540.47 388.68 L540.71 386.01 L540.95 392.41 L541.19 391 L541.44 387.74 L541.68 389.06 L541.93 388.48 L542.17 388.75 L542.41 386.74 L542.65 387.6 L542.89 388.88 L543.13 388.5 L543.35 389.6 L543.58 388.19 L543.8 390.87 L544.01 387.16 L544.22 388.31 L544.42 385.72 L544.63 386.63 L544.85 389.91 L545.07 387.42 L545.28 389.45 L545.47 389 L545.64 388.06 L545.77 389.07 L545.87 388.97 L545.93 389.01 L545.98 390.48 L546.03 390.32 L546.08 388.79 L546.13 388.32 L546.17 389.66 L546.22 389.1 L546.26 390.33 L546.3 392.15 L546.34 389.82 L546.38 388.61 L546.42 388.26 L546.46 387.25 L546.49 386.99 L546.53 386.66 L546.56 387.17 L546.59 386.89 L546.62 388.05 L546.65 386.43 L546.68 386.41 L546.71 384.91 L546.74 388.06 L546.76 386.41 L546.79 387.66 L546.81 386.17 L546.84 386.69 L546.86 384.3 L546.88 385.14 L546.9 387.21 L546.92 382.17 L546.94 384.72 L546.96 385.02 L546.98 383.16 L546.99 383.24 L547.01 383.53 L547.02 380.85 L547.04 381.83 L547.05 379.93 L547.07 379.84 L547.08 379.58 L547.09 379.84 L547.1 379.87 L547.11 379.93 L547.12 377.32 L547.14 381.18 L547.14 379.87 L547.15 379.04 L547.16 377.42 L547.17 377.47 L547.18 377.97 L547.19 377.54 L547.2 374.7 L547.2 377.43 L547.21 379.85 L547.22 373.73 L547.22 376.97 L547.23 375.93 L547.24 375.07 L547.24 376.62 L547.25 373.2 L547.25 374.57 L547.26 375.89 L547.27 373.55 L547.27 372.99 L547.28 373.35 L547.28 372.36 L547.29 374.51 L547.29 371.18 L547.3 373.07 L547.3 370.14 L547.31 372.19 L547.31 370.92 L547.32 367.55 L547.32 370.41 L547.33 368.78 L547.33 369.23 L547.34 371.35 L547.34 367.74 L547.34 367.49 L547.35 370.24 L547.35 368.28 L547.36 369.71 L547.36 367.87 L547.36 366.05 L547.37 366.73 L547.37 367.99 L547.37 367.31 L547.38 365.81 L547.38 365.54 L547.38 365 L547.39 364.1 L547.39 366.86 L547.39 364.15 L547.4 362.42 L547.4 362.89 L547.4 364.05 L547.41 363.61 L547.41 362.33 L547.41 361.34 L547.41 361.87 L547.42 359.46 L547.42 359.59 L547.42 361.86 L547.43 359.97 L547.43 360.71 L547.43 361.43 L547.43 360.42 L547.44 359.34 L547.44 361.63 L547.44 359.52 L547.44 357.96 L547.45 359.01 L547.45 358.31 L547.45 356.46 L547.45 357.32 L547.46 356.74 L547.46 354.24 L547.46 356.18 L547.46 355.77 L547.47 355.31 L547.47 353.56 L547.47 354.89 L547.47 355.02 L547.48 354.94 L547.48 353.17 L547.48 355.11 L547.49 352.6 L547.49 353.59 L547.49 355.25 L547.49 352.57 L547.5 352.58 L547.5 354.32 L547.5 352.32 L547.51 352.23 L547.51 352.68 L547.51 353.52 L547.51 349.33 L547.52 350.85 L547.52 350.46 L547.52 350.21 L547.53 350.34 L547.53 350.22 L547.53 351.49 L547.54 349.89 L547.54 351.01 L547.54 351.24 L547.55 349.74 L547.55 350.7 L547.56 352.46 L547.56 350.76 L547.56 349.51 L547.57 350.14 L547.57 349.04 L547.58 350.45 L547.58 351.13 L547.59 349.04 L547.59 349.76 L547.6 351.37 L547.6 349.39 L547.6 350.24 L547.61 348.77 L547.61 349.06 L547.62 349.49 L547.62 352.79 L547.63 349.76 L547.63 349.71 L547.63 349.77 L547.64 350.36 L547.64 351.47 L547.65 351.05 L547.65 353.44 L547.65 351.38 L547.66 353.04 L547.66 351.81 L547.66 352.4 L547.67 350.14 L547.67 351.93 L547.67 352.22 L547.67 352.25 L547.68 350.19 L547.68 354.08 L547.68 352.82 L547.69 353.02 L547.69 353.51 L547.69 353.82 L547.69 354.87 L547.7 353.15 L547.7 353.86 L547.7 355.63 L547.71 355.77 L547.71 355.46 L547.71 355.55 L547.71 355.56 L547.72 356.83 L547.72 358.66 L547.72 356.31 L547.73 359.76 L547.73 359.29 L547.73 358.09 L547.74 359.93 L547.74 357.6 L547.74 357.64 L547.75 358.54 L547.75 359.96 L547.75 360.43 L547.76 360.58 L547.76 361.69 L547.77 359.38 L547.77 362.91 L547.77 360.99 L547.78 362.27 L547.78 362.94 L547.79 362.43 L547.79 362.54 L547.8 363.35 L547.8 364.92 L547.81 366.01 L547.81 366.35 L547.82 364.85 L547.82 365.45 L547.83 365.66 L547.84 367.66 L547.84 365.03 L547.85 369.31 L547.86 367.59 L547.86 367.58 L547.87 369.27 L547.88 370.43 L547.89 369.93 L547.89 371.11 L547.9 370.33 L547.91 371.96 L547.92 372.28 L547.93 370.97 L547.94 373.11 L547.94 371.87 L547.95 372.06 L547.96 371.12 L547.97 372.14 L547.99 373.68 L548 371.42 L548.01 374.01 L548.02 373.88 L548.03 374.02 L548.04 371.25 L548.05 373.98 L548.07 375.07 L548.08 373.56 L548.09 374.76 L548.11 371.96 L548.12 375.77 L548.13 374.31 L548.15 376.27 L548.16 373.13 L548.18 376.28 L548.2 375.25 L548.21 376.58 L548.23 374.57 L548.24 374.99 L548.26 378.46 L548.28 374.79 L548.3 374.95 L548.39 375.47 L548.64 374.57 L548.98 377.23 L549.34 376.06 L549.66 375.69 L549.86 375.54 L549.91 375.97 L549.93 375.95 L549.95 375.89 L549.97 375.9 L549.98 375.55 L550 375.6 L550.02 375.35 L550.03 375.26 L550.05 375.53 L550.06 375.18 L550.08 375.52 L550.09 375.06 L550.1 374.83 L550.11 374.9 L550.13 374.9 L550.14 374.55 L550.15 374.13 L550.16 374.19 L550.17 374.15 L550.18 373.68 L550.18 373.44 L550.19 373.5 L550.2 373.15 L550.21 372.74 L550.22 372.62 L550.22 372.32 L550.23 372.24 L550.23 371.96 L550.24 371.86 L550.25 371.53 L550.25 370.91 L550.26 370.93 L550.26 370.73 L550.26 370.37 L550.27 370.17 L550.27 369.63 L550.27 369.27 L550.28 369.25 L550.28 368.64 L550.28 368.16 L550.29 368.32 L550.29 367.74 L550.29 367.48 L550.29 366.98 L550.29 366.66 L550.3 366.35 L550.3 366.14 L550.3 365.91 L550.3 365.17 L550.3 365.28 L550.3 364.64 L550.31 364.31 L550.31 364.23 L550.31 363.77 L550.31 363.2 L550.31 363.35 L550.31 362.6 L550.31 362.41 L550.32 362.05 L550.32 361.88 L550.32 361.25 L550.32 361.12 L550.32 360.51 L550.32 360.44 L550.33 359.81 L550.33 359.52 L550.33 359.51 L550.33 358.93 L550.33 358.56 L550.34 358.54 L550.34 357.92 L550.34 357.41 L550.35 357.31 L550.35 356.7 L550.35 356.72 L550.36 356.41 L550.36 355.82 L550.37 355.5 L550.37 355.31 L550.38 354.98 L550.38 354.53 L550.39 354.47 L550.4 353.79 L550.4 353.74 L550.41 353.47 L550.42 353.21 L550.43 353.03 L550.44 352.53 L550.44 352.55 L550.45 352.18 L550.46 351.87 L550.47 351.52 L550.48 351.32 L550.5 351.33 L550.51 350.91 L550.52 350.86 L550.53 350.81 L550.55 350.61 L550.56 350.51 L550.58 350.06 L550.59 349.77 L550.61 349.93 L550.62 349.67 L550.64 349.66 L550.66 349.36 L550.68 349.42 L550.69 349.26 L550.74 349.14 L550.85 349.02 L551.02 348.92 L551.25 348.82 L551.52 348.75 L551.81 348.79 L552.12 348.5 L552.43 348.77 L552.73 348.42 L553.01 348.51 L553.25 348.27 L553.49 348.16 L553.73 348.42 L553.97 347.98 L554.2 347.75 L554.44 347.75 L554.68 347.72 L554.92 348 L555.16 347.62 L555.4 347.64 L555.64 347.26 L555.88 347.37 L556.12 347.33 L556.35 347.4 L556.59 346.93 L556.82 347.02 L557.05 346.88 L557.28 346.57 L557.5 346.62 L557.72 346.47 L557.94 346.05 L558.15 346.37 L558.37 346.24 L558.57 345.97 L558.78 345.71 L558.97 346 L559.17 345.67 L559.35 345.63 L559.53 345.51 L559.71 345.04 L559.89 345.06 L560.06 344.71 L560.23 344.54 L560.4 344.33 L560.57 344.15 L560.74 344.12 L560.91 343.78 L561.08 343.55 L561.26 343.35 L561.44 343.26 L561.62 342.92 L561.81 342.82 L562 342.75 L562.2 342.55 L562.41 342.5 L562.62 342.31 L562.83 342.6 L563.05 342.39 L563.27 342.15 L563.5 341.98 L563.72 342.22 L563.95 341.84 L564.19 341.69 L564.42 341.66 L564.66 341.57 L564.9 341.65 L565.14 341.35 L565.38 341.59 L565.62 341.06 L565.86 341.21 L566.11 340.88 L566.35 341.22 L566.59 340.81 L566.84 340.77 L567.08 340.84 L567.32 340.81 L567.56 340.37 L567.8 340.4 L568.04 340.16 L568.28 340.3 L568.51 340.18 L568.75 340.05 L568.98 339.91 L569.21 339.87 L569.45 339.72 L569.68 339.82 L569.91 339.88 L570.15 339.27 L570.38 339.45 L570.61 339.31 L570.85 339.35 L571.08 339.04 L571.31 339.07 L571.55 338.85 L571.78 339.02 L572.01 338.83 L572.25 338.7 L572.48 338.69 L572.72 338.51 L572.95 338.23 L573.19 338.46 L573.42 338.33 L573.66 338.18 L573.89 338.27 L574.13 338.22 L574.36 337.79 L574.6 337.76 L574.84 338.03 L575.07 337.93 L575.31 337.54 L575.55 337.4 L575.79 337.41 L576.03 337.36 L576.27 337.13 L576.51 337.31 L576.75 337.05 L576.99 337 L577.23 337.26 L577.48 336.96 L577.72 336.99 L577.96 337.04 L578.21 337.01 L578.45 336.78 L578.7 336.79 L578.94 336.6 L579.19 336.94 L579.43 336.72 L579.68 336.41 L579.93 336.52 L580.17 336.57 L580.42 336.49 L580.66 336.64 L580.91 336.52 L581.15 336.18 L581.4 336.2 L581.65 335.96 L581.89 336.14 L582.13 336.07 L582.38 336.4 L582.62 335.95 L582.87 335.57 L583.11 335.72 L583.35 335.78 L583.6 335.51 L583.84 335.51 L584.08 335.52 L584.32 335.56 L584.56 335.42 L584.8 335.24 L585.05 335.42 L585.31 335.15 L585.57 335.09 L585.85 334.89 L586.13 334.91 L586.42 335.05 L586.71 334.64 L587 334.8 L587.29 334.84 L587.58 334.6 L587.87 334.62 L588.16 334.34 L588.44 334.62 L588.72 334.51 L588.99 334.3 L589.25 333.91 L589.5 333.93 L589.74 334.14 L589.97 334.16 L590.18 333.85 L590.38 333.89 L590.56 333.51 L590.73 333.47 L590.87 333.39 L591 333.34 L591.1 332.93 L591.18 333.18 L591.24 333.11 L591.3 332.6 L591.36 332.43 L591.42 332.53 L591.48 332.23 L591.53 331.8 L591.58 332.11 L591.64 331.83 L591.69 331.55 L591.74 331.75 L591.79 331.25 L591.83 330.91 L591.88 330.83 L591.92 330.44 L591.97 330.26 L592.01 330.2 L592.05 329.82 L592.09 329.59 L592.12 329.66 L592.16 329.29 L592.19 329.02 L592.22 328.71 L592.26 328.43 L592.28 328.3 L592.31 327.8 L592.34 327.8 L592.36 327.09 L592.38 326.89 L592.4 326.43 L592.42 326.28 L592.44 326.1 L592.45 325.92 L592.46 325.29 L592.48 325.07 L592.48 324.69 L592.49 324.3 L592.5 323.9 L592.5 323.75 L592.5 323.14" fill="none" stroke="#1f6fe0" stroke-width="2.3" stroke-linejoin="round" stroke-linecap="round" />
<line x1="463.6" y1="470" x2="463.6" y2="461.4" stroke="#1f6fe0" stroke-width="1.3"/>
<line x1="465.2" y1="470" x2="465.2" y2="484.5" stroke="#1f6fe0" stroke-width="1.3"/>
<line x1="466.3" y1="470" x2="466.3" y2="477" stroke="#1f6fe0" stroke-width="1.3"/>
<line x1="468.8" y1="470" x2="468.8" y2="478" stroke="#1f6fe0" stroke-width="1.3"/>
<line x1="471.3" y1="468" x2="471.3" y2="482" stroke="#1f6fe0" stroke-width="1.3"/>
<line x1="484.6" y1="455" x2="484.6" y2="448.9" stroke="#1f6fe0" stroke-width="1.3"/>
<line x1="532.2" y1="388" x2="532.2" y2="382.4" stroke="#1f6fe0" stroke-width="1.3"/>
<line x1="553.2" y1="348.3" x2="553.2" y2="358.8" stroke="#1f6fe0" stroke-width="1.3"/>
<line x1="556" y1="347" x2="556" y2="355" stroke="#1f6fe0" stroke-width="1.3"/>
<line x1="558.8" y1="345.9" x2="558.8" y2="354.8" stroke="#1f6fe0" stroke-width="1.3"/>
<line x1="575.8" y1="337.5" x2="575.8" y2="350" stroke="#1f6fe0" stroke-width="1.3"/>
<path d="M436 497 L436.25 498.33 L436.5 499.67 L436.75 501 L437 502.33 L437.25 503.67 L437.5 505 L437.75 506 L438 507 L438.25 508 L438.5 509 L438.75 510 L439 511 L439.25 511.75 L439.5 512.5 L439.75 513.25 L440 514 L440.25 514.75 L440.5 515.5 L440.75 516.17 L441 516.83 L441.25 517.5 L441.5 518.17 L441.75 518.83 L442 519.5 L442.25 519.88 L442.5 520.25 L442.75 520.62 L443 521 L443.25 521.38 L443.5 521.75 L443.75 522.12 L444 522.5 L444.25 523.9 L444.5 521.38 L444.75 522.85 L445 522.28 L445.25 524.17 L445.5 521.79 L445.75 525.16 L446 524.53 L446.25 522.16 L446.5 523.88 L446.75 523.71 L447 526.37 L447.25 523.87 L447.5 525.8 L447.75 522.39 L448 523.01 L448.25 524.86 L448.5 524.01 L448.75 525.31 L449 525.74 L449.25 526.95 L449.5 523.65 L449.75 524.41 L450 527.75 L450.25 527.86 L450.5 526.05 L450.75 526.51 L451 527.66 L451.25 524.33 L451.5 528.12 L451.75 524.42 L452 524 L452.25 526.06 L452.5 528.12 L452.75 529.38 L453 529.76 L453.25 528.29 L453.5 526.65 L453.75 526.16 L454 528.8 L454.25 526.27 L454.5 528.81 L454.75 526.6 L455 526.62 L455.25 529.15 L455.5 526.54 L455.75 527.61 L456 528.56 L456.25 527.06 L456.5 529.02 L456.75 527.06 L457 525 L457.25 527.06 L457.5 526.65 L457.75 529.43 L458 527.34 L458.25 530.36 L458.5 530.12 L458.75 530.83 L459 529.27 L459.25 530.55 L459.5 530.19 L459.75 530.79 L460 528.99 L460.25 528.16 L460.5 530.71 L460.75 530.3 L461 529.89 L461.25 530.45 L461.5 529.68 L461.75 527.89 L462 526.62 L462.25 525.61 L462.5 524.15 L462.75 522.69 L463 523.57 L463.25 525.03 L463.5 526.49 L463.75 527.73 L464 527.59 L464.25 530.6 L464.5 530.36 L464.75 527.09 L465 526.82 L465.25 528.79 L465.5 527.35 L465.75 525.89 L466 525 L466.25 526.26 L466.5 527.53 L466.75 528.79 L467 530.06 L467.25 530.91 L467.5 529.39 L467.75 526 L468 530.55 L468.25 527.97 L468.5 528.39 L468.75 529.49 L469 529.25 L469.25 529.71 L469.5 528.68 L469.75 528.86 L470 528.63 L470.25 529.05 L470.5 526.4 L470.75 527.22 L471 528.6 L471.25 528.23 L471.5 530.48 L471.75 527.07 L472 528.09 L472.25 527.07 L472.5 530.31 L472.75 525.88 L473 530.4 L473.25 529.21 L473.5 530.4 L473.75 529.07 L474 528.11 L474.25 530.49 L474.5 528.78 L474.75 529.78 L475 526.19 L475.25 529.8 L475.5 529.5 L475.75 527.05 L476 528.24 L476.25 527.12 L476.5 524.66 L476.75 522.19 L477 523.67 L477.25 526.14 L477.5 526.79 L477.75 527.77 L478 529.26 L478.25 529.82 L478.5 527.18 L478.75 528.3 L479 529.41 L479.25 529.8 L479.5 527.73 L479.75 528.93 L480 527.1 L480.25 528.77 L480.5 526.89 L480.75 529.47 L481 527.74 L481.25 528.37 L481.5 526.87 L481.75 526.25 L482 524 L482.25 524.46 L482.5 526.22 L482.75 527.93 L483 525.46 L483.25 527.68 L483.5 524.43 L483.75 527.78 L484 524.49 L484.25 527.93 L484.5 525.92 L484.75 528.05 L485 528.25 L485.25 527.35 L485.5 528.23 L485.75 527.58 L486 527.92 L486.25 526.35 L486.5 526.16 L486.75 524.22 L487 522.28 L487.25 520.34 L487.5 518.4 L487.75 520.34 L488 522.28 L488.25 524.22 L488.5 525.29 L488.75 527.82 L489 527.5 L489.25 526.31 L489.5 527.65 L489.75 527.28 L490 523.91 L490.25 526.01 L490.5 527.76 L490.75 527.5 L491 525.8 L491.25 526.48 L491.5 527.56 L491.75 523.44 L492 523.76 L492.25 524.83 L492.5 523.72 L492.75 521.54 L493 522.85 L493.25 525.03 L493.5 527.21 L493.75 526.32 L494 528.03 L494.25 527.46 L494.5 525.82 L494.75 527.19 L495 526.52 L495.25 524.97 L495.5 525.97 L495.75 526.06 L496 524.18 L496.25 521.7 L496.5 519.77 L496.75 522.26 L497 524.74 L497.25 527.23 L497.5 527.36 L497.75 527.45 L498 524.96 L498.25 522.47 L498.5 519.99 L498.75 517.5 L499 518.99 L499.25 521.48 L499.5 523.97 L499.75 524.53 L500 525.96 L500.25 527.64 L500.5 527.54 L500.75 527.32 L501 525.14 L501.25 525.41 L501.5 528.06 L501.75 525.91 L502 527.07 L502.25 525.81 L502.5 524.54 L502.75 523.27 L503 522 L503.25 523.27 L503.5 524.54 L503.75 524.51 L504 526.24 L504.25 526.87 L504.5 527.7 L504.75 527.96 L505 524.73 L505.25 523.82 L505.5 528.14 L505.75 525.45 L506 524.4 L506.25 524.94 L506.5 524.82 L506.75 526.09 L507 524.9 L507.25 523.45 L507.5 522 L507.75 523.45 L508 524.9 L508.25 525.86 L508.5 526.33 L508.75 526.33 L509 529.04 L509.25 527.82 L509.5 527.45 L509.75 524.49 L510 527.36 L510.25 527.71 L510.5 527.29 L510.75 525.12 L511 525.78 L511.25 525.57 L511.5 525.26 L511.75 523.63 L512 522 L512.25 523.63 L512.5 525.26 L512.75 526.88 L513 528.01 L513.25 528.52 L513.5 525.61 L513.75 525.04 L514 527.63 L514.25 524.54 L514.5 527.76 L514.75 527.01 L515 526.39 L515.25 524.76 L515.5 526.06 L515.75 525.96 L516 524.16 L516.25 522.37 L516.5 520.57 L516.75 518.78 L517 518.42 L517.25 520.21 L517.5 522.01 L517.75 523.8 L518 525.6 L518.25 526.12 L518.5 526.46 L518.75 524.57 L519 525.22 L519.25 527.06 L519.5 524.29 L519.75 526.47 L520 526.12 L520.25 526.69 L520.5 526.15 L520.75 524.84 L521 525.08 L521.25 522.86 L521.5 520.63 L521.75 518.41 L522 516.18 L522.25 514.85 L522.5 517.07 L522.75 519.3 L523 521.52 L523.25 523.75 L523.5 524.05 L523.75 526.58 L524 525.65 L524.25 526.3 L524.5 524.97 L524.75 522.91 L525 522.88 L525.25 520.89 L525.5 518.9 L525.75 519.29 L526 521.29 L526.25 523.28 L526.5 525.27 L526.75 526.72 L527 524.17 L527.25 525.58 L527.5 524.02 L527.75 522.46 L528 523.4 L528.25 524.74 L528.5 522.78 L528.75 524.51 L529 523.6 L529.25 523.68 L529.5 522.12 L529.75 520.56 L530 519 L530.25 520.56 L530.5 521.89 L530.75 523.68 L531 523.8 L531.25 525.66 L531.5 524.79 L531.75 525.19 L532 525.36 L532.25 525.49 L532.5 524.21 L532.75 526.16 L533 524.59 L533.25 524.02 L533.5 522.33 L533.75 520.64 L534 518.94 L534.25 517.25 L534.5 517.23 L534.75 518.92 L535 520.61 L535.25 521.5 L535.5 519.8 L535.75 518.11 L536 516.42 L536.25 514.73 L536.5 513.03 L536.75 511.34 L537 512.35 L537.25 514.05 L537.5 515.74 L537.75 517.43 L538 519.13 L538.25 520.82 L538.5 522.51 L538.75 523.3 L539 524.43 L539.25 523.67 L539.5 521.66 L539.75 523.9 L540 520.79 L540.25 520.63 L540.5 518.76 L540.75 516.88 L541 515 L541.25 516.88 L541.5 518.76 L541.75 520.63 L542 521.83 L542.25 524.26 L542.5 521.38 L542.75 519.66 L543 518.65 L543.25 520.95 L543.5 522.68 L543.75 524.1 L544 522.22 L544.25 520.35 L544.5 520.74 L544.75 522.62 L545 520.95 L545.25 518.65 L545.5 516.34 L545.75 514.96 L546 517.26 L546.25 519.57 L546.5 521.87 L546.75 522.76 L547 521.23 L547.25 521.85 L547.5 521.41 L547.75 521.12 L548 523.16 L548.25 523.81 L548.5 521.04 L548.75 524.81 L549 522.14 L549.25 523.88 L549.5 521.21 L549.75 523.82 L550 522.26 L550.25 520.69 L550.5 519.13 L550.75 517.56 L551 516 L551.25 517.56 L551.5 519.13 L551.75 520.69 L552 522.26 L552.25 520.76 L552.5 519.2 L552.75 519.94 L553 521.5 L553.25 522.73 L553.5 523.53 L553.75 521.89 L554 520.26 L554.25 518.62 L554.5 518.17 L554.75 519.81 L555 521.45 L555.25 519.91 L555.5 518.27 L555.75 516.64 L556 515 L556.25 516.64 L556.5 518.27 L556.75 519.91 L557 521.55 L557.25 522.25 L557.5 524 L557.75 523.56 L558 523.13 L558.25 523.2 L558.5 524.32 L558.75 524.41 L559 522.4 L559.25 523.06 L559.5 522.62 L559.75 520.39 L560 521.04 L560.25 520.74 L560.5 521.32 L560.75 519.47 L561 521.09 L561.25 519.82 L561.5 518.55 L561.75 517.27 L562 516 L562.25 517.27 L562.5 518.55 L562.75 519.82 L563 521.09 L563.25 522.15 L563.5 520.52 L563.75 524.39 L564 519.46 L564.25 523.98 L564.5 523.02 L564.75 523.37 L565 523.52 L565.25 523.72 L565.5 520.28 L565.75 524.22 L566 524.07 L566.25 523.68 L566.5 522.89 L566.75 521.71 L567 522.63 L567.25 522.45 L567.5 522.65 L567.75 522.09 L568 520.65 L568.25 519.21 L568.5 517.77 L568.75 516.32 L569 514.88 L569.25 513.44 L569.5 512 L569.75 513.44 L570 514.88 L570.25 516.32 L570.5 517.77 L570.75 519.21 L571 520.65 L571.25 522.09 L571.5 523.53 L571.75 520.94 L572 525.29 L572.25 522.77 L572.5 524.5 L572.75 522.87 L573 524.94 L573.25 522.45 L573.5 519.97 L573.75 517.48 L574 515 L574.25 517.48 L574.5 519.97 L574.75 522.45 L575 524.94 L575.25 527.42 L575.5 525.8 L575.75 524.05 L576 526.87 L576.25 528.21 L576.5 527.99 L576.75 527.7 L577 528.71 L577.25 525.03 L577.5 527.48 L577.75 528.81 L578 525.63 L578.25 523.81 L578.5 525.04 L578.75 527.81 L579 528.04 L579.25 527.18 L579.5 526.68 L579.75 525.31 L580 524.41 L580.25 523.65 L580.5 526.7 L580.75 526.46 L581 527.4 L581.25 525.11 L581.5 526.91 L581.75 525.96 L582 525.48 L582.25 524.17 L582.5 522.86 L582.75 521.55 L583 520.24 L583.25 518.93 L583.5 517.62 L583.75 516.31 L584 515 L584.25 516.31 L584.5 517.62 L584.75 518.93 L585 520.24 L585.25 521.55 L585.5 522.86 L585.75 522.24 L586 525.25 L586.25 523.14 L586.5 524.24 L586.75 523.83 L587 522.08 L587.25 521.56 L587.5 521.61 L587.75 522.92 L588 521.37 L588.25 523.03 L588.5 521.29 L588.75 519.12 L589 516.95 L589.25 514.78 L589.5 512.61 L589.75 510.43 L590 511.74 L590.25 513.91 L590.5 516.08 L590.75 518.25 L591 520.42 L591.25 522.43 L591.5 524.76 L591.75 521.87 L592 522.56 L592.25 521.24 L592.5 524.5 L592.75 524.32 L593 520.75 L593.25 523.6 L593.5 521.23 L593.75 520.86 L594 519.49 L594.25 518.11 L594.5 516.74 L594.75 515.37 L595 514 L595.25 515.37 L595.5 516.74 L595.75 518.11 L596 519.49 L596.25 520.86 L596.5 520.88 L596.75 520.74 L597 519.37 L597.25 518 L597.5 517.1 L597.75 518.48 L598 519.85 L598.25 521.22 L598.5 521.14 L598.75 520.34 L599 518.38 L599.25 516.43 L599.5 514.47 L599.75 512.52 L600 510.56 L600.25 509.39 L600.5 511.35 L600.75 513.3 L601 515.26 L601.25 516.76 L601.5 514.81 L601.75 512.85 L602 513.49 L602.25 515.45 L602.5 517.4 L602.75 519.36 L603 521.32 L603.25 523.27 L603.5 521.1 L603.75 523.31 L604 521.33 L604.25 520.82 L604.5 521.78 L604.75 520.32 L605 518.86 L605.25 517.39 L605.5 515.93 L605.75 514.46 L606 513 L606.25 514.46 L606.5 515.93 L606.75 517.39 L607 518.86 L607.25 520.32 L607.5 520.2 L607.75 518.74 L608 517.28 L608.25 517.14 L608.5 518.6 L608.75 520.07 L609 521.53 L609.25 521.34 L609.5 518.89 L609.75 516.45 L610 514 L610.25 516.45 L610.5 518.89 L610.75 521.34 L611 523.79 L611.25 525.01 L611.5 523.49 L611.75 521.97 L612 520.44 L612.25 518.92 L612.5 517.4 L612.75 515.88 L613 514.36 L613.25 512.84 L613.5 511.32 L613.75 510.43 L614 511.95 L614.25 513.47 L614.5 514.91 L614.75 513.39 L615 511.87 L615.25 510.35 L615.5 508.83 L615.75 507.3 L616 508.22 L616.25 509.74 L616.5 511.26 L616.75 512.78 L617 514.3 L617.25 515.82 L617.5 517.34 L617.75 518.86 L618 520.38 L618.25 521.91 L618.5 523.43 L618.75 523.41 L619 522.35 L619.25 522.59 L619.5 523.07 L619.75 522.34 L620 522.47 L620.25 520.6 L620.5 518.69 L620.75 516.79 L621 514.89 L621.25 515.31 L621.5 517.21 L621.75 517.74 L622 515.83 L622.25 513.93 L622.5 512.02 L622.75 510.88 L623 512.79 L623.25 514.69 L623.5 516.59 L623.75 518.5 L624 520.4 L624.25 521.48 L624.5 523.54 L624.75 522.89 L625 521.76 L625.25 522.22 L625.5 524.55 L625.75 523.36 L626 521.89 L626.25 521.46 L626.5 518.97 L626.75 516.49 L627 514 L627.25 516.49 L627.5 518.97 L627.75 521.46 L628 523.81 L628.25 521.32 L628.5 518.84 L628.75 519.53 L629 522.02 L629.25 520.44 L629.5 518.4 L629.75 516.36 L630 514.32 L630.25 514.44 L630.5 516.47 L630.75 518.51 L631 520.55 L631.25 521.29 L631.5 521.23 L631.75 519.19 L632 517.15 L632.25 515.11 L632.5 513.08 L632.75 511.04 L633 509 L633.25 511.04 L633.5 513.08 L633.75 515.11 L634 517.15 L634.25 519.19 L634.5 521.23 L634.75 523.09 L635 524.06 L635.25 521.39 L635.5 524.85 L635.75 521.6 L636 523.09 L636.25 523.9 L636.5 523.03 L636.75 522.42 L637 520.74 L637.25 519.05 L637.5 517.37 L637.75 515.68 L638 514 L638.25 515.68 L638.5 517.37 L638.75 519.05 L639 520.74 L639.25 522.42 L639.5 524.09 L639.75 524.67 L640 525.69 L640.25 525.8 L640.5 525.75 L640.75 525.23 L641 526.39 L641.25 526.77 L641.5 526.37 L641.75 524.94 L642 524.02 L642.25 523.72 L642.5 524.8 L642.75 522.98 L643 525.03 L643.25 521 L643.5 523.31 L643.75 523.39 L644 523.02 L644.25 521.05 L644.5 521.97 L644.75 519.67 L645 517.37 L645.25 515.07 L645.5 514.16 L645.75 516.46 L646 518.76 L646.25 519.8 L646.5 520.04 L646.75 517.74 L647 515.44 L647.25 513.14 L647.5 510.84 L647.75 509.46 L648 511.76 L648.25 514.06 L648.5 516.36 L648.75 518.66 L649 520.96 L649.25 523.26 L649.5 523.61 L649.75 520.53 L650 523.34 L650.25 523.99 L650.5 522.38 L650.75 523.25 L651 521.3 L651.25 522.64 L651.5 520.76 L651.75 518.88 L652 517 L652.25 518.88 L652.5 520.76 L652.75 522.25 L653 524.35 L653.25 521.21 L653.5 523.53 L653.75 521.82 L654 521.49 L654.25 524.05 L654.5 523.82 L654.75 521.09 L655 523.94 L655.25 523.51 L655.5 523.7 L655.75 522.97 L656 523.72 L656.25 523.37 L656.5 521.58 L656.75 519.79 L657 518 L657.25 519.79 L657.5 521.58 L657.75 523.37 L658 521.97 L658.25 521.42 L658.5 522.36 L658.75 519.97 L659 523.39 L659.25 521.79 L659.5 522.43 L659.75 519.97 L660 520.83 L660.25 523.54 L660.5 520.86 L660.75 522.9 L661 522.31 L661.25 519.37 L661.5 522.28 L661.75 520.84 L662 518.94 L662.25 517.03 L662.5 515.13 L662.75 513.23 L663 511.32 L663.25 510.18 L663.5 512.08 L663.75 513.99 L664 515.89 L664.25 517.8 L664.5 519.7 L664.75 521.6 L665 519.72 L665.25 522.51 L665.5 520.67 L665.75 518.84 L666 517 L666.25 518.84 L666.5 520.67 L666.75 521.04 L667 523.11 L667.25 524.35 L667.5 523.11 L667.75 523.07 L668 523.07 L668.25 523.08 L668.5 520.74 L668.75 523.15 L669 521.27 L669.25 519.4 L669.5 517.52 L669.75 515.64 L670 513.76 L670.25 511.88 L670.5 510.01 L670.75 508.13 L671 507.75 L671.25 509.63 L671.5 511.51 L671.75 513.39 L672 515.26 L672.25 517.14 L672.5 519.02 L672.75 520.9 L673 522.78 L673.25 521.8 L673.5 520.27 L673.75 518.13 L674 516 L674.25 518.13 L674.5 520.27 L674.75 522.4 L675 523.32 L675.25 524.01 L675.5 523.74 L675.75 522.13 L676 521.8 L676.25 520.66 L676.5 523.14 L676.75 520.25 L677 520.15 L677.25 518.66 L677.5 517.17 L677.75 515.67 L678 514.18 L678.25 512.68 L678.5 511.19 L678.75 509.69 L679 508.2 L679.25 509.69 L679.5 511.19 L679.75 512.68 L680 514.18 L680.25 515.67 L680.5 517.17 L680.75 518.66 L681 520.15 L681.25 521.65 L681.5 523.14 L681.75 523.79 L682 525.05 L682.25 526.63 L682.5 524.76 L682.75 523.33 L683 526.32 L683.25 526.26 L683.5 526.3 L683.75 523.45 L684 526.97 L684.25 526.83 L684.5 526.26 L684.75 523.45 L685 524.8 L685.25 524.58 L685.5 522.94 L685.75 525.3 L686 523.58 L686.25 522.63 L686.5 520.42 L686.75 518.21 L687 516 L687.25 518.21 L687.5 520.42 L687.75 522.63 L688 520.44 L688.25 523.82 L688.5 523.26 L688.75 522.21 L689 523.28 L689.25 523.55 L689.5 524.04 L689.75 522.28 L690 523.03 L690.25 520.61 L690.5 520.82 L690.75 523.07 L691 521.34 L691.25 524.79 L691.5 523.32 L691.75 520.62 L692 519.95 L692.25 518.26 L692.5 516.57 L692.75 514.89 L693 513.2 L693.25 511.51 L693.5 511.17 L693.75 512.86 L694 514.55 L694.25 516.24 L694.5 517.92 L694.75 519.61 L695 521.3 L695.25 520.37 L695.5 518.68 L695.75 517 L696 515.31 L696.25 513.69 L696.5 515.38 L696.75 517.07 L697 516 L697.25 517.61 L697.5 519.22 L697.75 520.83 L698 522.45 L698.25 522.49 L698.5 523.01 L698.75 522.82 L699 520.7 L699.25 523.85 L699.5 522.71 L699.75 519.65 L700 522.54 L700.25 520.45 L700.5 518.36 L700.75 516.27 L701 514.19 L701.25 512.1 L701.5 510.01 L701.75 507.92 L702 509.17 L702.25 511.26 L702.5 513.35 L702.75 515.44 L703 517.53 L703.25 516.47 L703.5 514.38 L703.75 512.29 L704 513.25 L704.25 515.34 L704.5 517.43 L704.75 517.49 L705 516 L705.25 517.49 L705.5 518.97 L705.75 519.77 L706 521.95 L706.25 522.37 L706.5 520.67 L706.75 518.46 L707 520.27 L707.25 521.73 L707.5 522.55 L707.75 521.52 L708 521.71 L708.25 519.7 L708.5 519.53 L708.75 521.1 L709 519.95 L709.25 520.58 L709.5 520.17 L709.75 517.81 L710 515.46 L710.25 513.11 L710.5 510.76 L710.75 508.41 L711 507.94 L711.25 510.29 L711.5 512.64 L711.75 514.99 L712 517.34 L712.25 515.79 L712.5 513.44 L712.75 513.47 L713 515.82 L713.25 518.18 L713.5 520.53 L713.75 519.28 L714 519.08 L714.25 522.04 L714.5 520.19 L714.75 518.1 L715 516 L715.25 518.1 L715.5 520.19 L715.75 521.54 L716 520.43 L716.25 520.96 L716.5 521.52 L716.75 519.42 L717 518.72 L717.25 520.81 L717.5 521.49 L717.75 519.66 L718 518.76 L718.25 520.62 L718.5 518.53 L718.75 516.27 L719 514 L719.25 516.27 L719.5 518.53 L719.75 518.12 L720 521.38 L720.25 522.18 L720.5 520.82 L720.75 519.7 L721 518.67 L721.25 520.68 L721.5 518.06 L721.75 517.34 L722 515.67 L722.25 514 L722.5 512.33 L722.75 510.66 L723 508.98 L723.25 507.31 L723.5 505.64 L723.75 503.97 L724 502.3 L724.25 503.97 L724.5 505.64 L724.75 507.31 L725 508.98 L725.25 508.31 L725.5 506.64 L725.75 506.13 L726 507.8 L726.25 509.48 L726.5 511.15 L726.75 512.82 L727 514.49 L727.25 516.16 L727.5 516.21 L727.75 519.5 L728 519.56 L728.25 519.68 L728.5 519.29 L728.75 518.9 L729 519.07 L729.25 519.62 L729.5 516.35 L729.75 516.38 L729.75 530.97 L729.5 534.76 L729.25 532.89 L729 534.17 L728.75 531.59 L728.5 532.01 L728.25 533.18 L728 532.38 L727.75 533.02 L727.5 531.66 L727.25 533.4 L727 534.03 L726.75 536.01 L726.5 532.15 L726.25 533.2 L726 535.96 L725.75 533.31 L725.5 532.58 L725.25 534.08 L725 533.32 L724.75 533.02 L724.5 535.05 L724.25 536.51 L724 534.26 L723.75 533.95 L723.5 536.49 L723.25 536.19 L723 533.61 L722.75 536.93 L722.5 537.5 L722.25 533.91 L722 535.7 L721.75 533.78 L721.5 533.74 L721.25 533.86 L721 534.21 L720.75 535.31 L720.5 534.53 L720.25 536.11 L720 534.18 L719.75 538.41 L719.5 538.61 L719.25 534.59 L719 535.95 L718.75 536.04 L718.5 534.67 L718.25 534.95 L718 535.55 L717.75 534.98 L717.5 534.62 L717.25 534.94 L717 536.13 L716.75 535.65 L716.5 536.05 L716.25 536.88 L716 535.74 L715.75 534.6 L715.5 535.31 L715.25 537.85 L715 535 L714.75 537.35 L714.5 535.47 L714.25 535.01 L714 539.03 L713.75 537.27 L713.5 536.97 L713.25 534.68 L713 534.36 L712.75 536.82 L712.5 535.11 L712.25 535.13 L712 535.09 L711.75 535.63 L711.5 536.19 L711.25 538.56 L711 540.04 L710.75 541.97 L710.5 543.89 L710.25 545.82 L710 544.66 L709.75 542.74 L709.5 540.81 L709.25 538.89 L709 536.96 L708.75 535.73 L708.5 538.46 L708.25 535.73 L708 535.45 L707.75 534.83 L707.5 535.22 L707.25 537.67 L707 537.66 L706.75 534.67 L706.5 537.85 L706.25 537.76 L706 538.95 L705.75 535.12 L705.5 535.8 L705.25 536.05 L705 534.95 L704.75 534.65 L704.5 538.27 L704.25 539.64 L704 538.03 L703.75 538.62 L703.5 539.64 L703.25 540.93 L703 542.22 L702.75 543.51 L702.5 544.8 L702.25 543.51 L702 542.22 L701.75 540.93 L701.5 539.64 L701.25 538.35 L701 537.06 L700.75 535.97 L700.5 537.68 L700.25 537.41 L700 538.28 L699.75 534.99 L699.5 534.71 L699.25 538.14 L699 536.95 L698.75 534.8 L698.5 536.9 L698.25 535.31 L698 535.82 L697.75 534.02 L697.5 534.51 L697.25 532.95 L697 535.91 L696.75 534.19 L696.5 535.5 L696.25 533.23 L696 535.43 L695.75 533.22 L695.5 532.44 L695.25 531.93 L695 535.51 L694.75 531.81 L694.5 535.47 L694.25 535.07 L694 537.52 L693.75 539.97 L693.5 542.42 L693.25 541.93 L693 539.48 L692.75 537.03 L692.5 535.75 L692.25 535.03 L692 533.9 L691.75 536.39 L691.5 537.54 L691.25 535.53 L691 535.09 L690.75 536.48 L690.5 534.42 L690.25 534.89 L690 535.81 L689.75 535.12 L689.5 537.01 L689.25 535.42 L689 535.26 L688.75 537.09 L688.5 535.76 L688.25 534.21 L688 536.85 L687.75 534.61 L687.5 535.8 L687.25 535.39 L687 536.81 L686.75 533.67 L686.5 535.16 L686.25 533.78 L686 536.84 L685.75 532.99 L685.5 536.13 L685.25 535.3 L685 532.94 L684.75 533.62 L684.5 532.69 L684.25 533.39 L684 532.32 L683.75 537.05 L683.5 531.71 L683.25 534.99 L683 532.35 L682.75 533.17 L682.5 532.45 L682.25 532.75 L682 533.77 L681.75 532.27 L681.5 533.6 L681.25 535.31 L681 533.75 L680.75 533.79 L680.5 536.43 L680.25 532.87 L680 534.6 L679.75 534.37 L679.5 533.83 L679.25 536.62 L679 537.39 L678.75 539.83 L678.5 540.32 L678.25 538.55 L678 535.44 L677.75 535.54 L677.5 537.81 L677.25 534.68 L677 538.01 L676.75 536.22 L676.5 535.03 L676.25 535.19 L676 535.92 L675.75 534.9 L675.5 535.96 L675.25 535.28 L675 536.09 L674.75 535.05 L674.5 538.77 L674.25 537.97 L674 537.67 L673.75 540.1 L673.5 540.04 L673.25 537.6 L673 535.42 L672.75 538.56 L672.5 536.92 L672.25 535.21 L672 536.4 L671.75 539.56 L671.5 538.96 L671.25 541.39 L671 543.83 L670.75 543.34 L670.5 540.91 L670.25 538.47 L670 538.99 L669.75 534.8 L669.5 539.82 L669.25 535.43 L669 536.75 L668.75 535.75 L668.5 536.77 L668.25 535.22 L668 537.43 L667.75 537.67 L667.5 537.43 L667.25 535.61 L667 536.37 L666.75 536.9 L666.5 536.02 L666.25 536.3 L666 538.75 L665.75 540.71 L665.5 540.46 L665.25 538.26 L665 538.93 L664.75 536.51 L664.5 538 L664.25 536.24 L664 538.48 L663.75 540.65 L663.5 542.86 L663.25 545.06 L663 543.74 L662.75 541.53 L662.5 539.33 L662.25 537.13 L662 536.25 L661.75 536.85 L661.5 535.26 L661.25 537.76 L661 535.42 L660.75 535.84 L660.5 535.04 L660.25 535.52 L660 538.09 L659.75 535.61 L659.5 535.99 L659.25 535.5 L659 535.62 L658.75 536.16 L658.5 535.96 L658.25 537.73 L658 536.06 L657.75 538.08 L657.5 538.69 L657.25 538.13 L657 537.41 L656.75 539.4 L656.5 536.12 L656.25 537.36 L656 536.19 L655.75 536.08 L655.5 537.22 L655.25 535.47 L655 536.31 L654.75 535.9 L654.5 536.18 L654.25 538.47 L654 535.76 L653.75 536.8 L653.5 536.64 L653.25 536.27 L653 539.03 L652.75 536.66 L652.5 536.85 L652.25 536.44 L652 537.49 L651.75 537.94 L651.5 538.46 L651.25 536.47 L651 535.95 L650.75 536.48 L650.5 535.37 L650.25 536.12 L650 537.06 L649.75 540.59 L649.5 537.55 L649.25 539.5 L649 538.34 L648.75 537.73 L648.5 539.22 L648.25 540.71 L648 542.21 L647.75 543.7 L647.5 542.8 L647.25 541.31 L647 539.82 L646.75 538.32 L646.5 538.21 L646.25 537.7 L646 537.62 L645.75 536.94 L645.5 536.15 L645.25 539.24 L645 536.26 L644.75 538.13 L644.5 536.36 L644.25 535.46 L644 538.91 L643.75 535.24 L643.5 535.16 L643.25 536.83 L643 535.24 L642.75 536.99 L642.5 535.83 L642.25 537.74 L642 539.66 L641.75 541.57 L641.5 540.05 L641.25 538.14 L641 537.35 L640.75 539.26 L640.5 541.18 L640.25 543.09 L640 545 L639.75 543.09 L639.5 541.18 L639.25 539.26 L639 537.35 L638.75 535.44 L638.5 533.87 L638.25 533.66 L638 536.57 L637.75 536.15 L637.5 534.19 L637.25 534.61 L637 536.37 L636.75 536.53 L636.5 536.28 L636.25 536.07 L636 537.64 L635.75 539.7 L635.5 541.77 L635.25 543.84 L635 545.91 L634.75 547.97 L634.5 550.04 L634.25 552.11 L634 554.17 L633.75 553.76 L633.5 551.69 L633.25 549.63 L633 547.56 L632.75 545.49 L632.5 543.43 L632.25 541.36 L632 539.29 L631.75 538.3 L631.5 537.11 L631.25 539.07 L631 539.54 L630.75 540.82 L630.5 541.73 L630.25 540.46 L630 539.18 L629.75 537.9 L629.5 540.86 L629.25 539.62 L629 540.89 L628.75 542.17 L628.5 543.45 L628.25 544.72 L628 546 L627.75 544.72 L627.5 543.45 L627.25 542.17 L627 540.89 L626.75 539.62 L626.5 538.34 L626.25 538.77 L626 540.99 L625.75 538.16 L625.5 537.94 L625.25 538.21 L625 538.14 L624.75 540.05 L624.5 536.69 L624.25 538.25 L624 540.25 L623.75 541.69 L623.5 543.43 L623.25 545.17 L623 546.91 L622.75 548.65 L622.5 547.61 L622.25 545.87 L622 544.13 L621.75 542.38 L621.5 540.64 L621.25 539.87 L621 538.38 L620.75 538.07 L620.5 539.62 L620.25 540.35 L620 542.09 L619.75 543.83 L619.5 545.57 L619.25 546.39 L619 544.65 L618.75 542.91 L618.5 541.17 L618.25 539.63 L618 537.9 L617.75 537.26 L617.5 539.11 L617.25 538.61 L617 539.42 L616.75 541.02 L616.5 543.12 L616.25 545.22 L616 547.32 L615.75 548.58 L615.5 546.48 L615.25 544.38 L615 542.28 L614.75 540.18 L614.5 538.08 L614.25 535.98 L614 535.89 L613.75 535.41 L613.5 536.06 L613.25 535.55 L613 535.12 L612.75 537.84 L612.5 538.16 L612.25 535.82 L612 534.81 L611.75 535.8 L611.5 535.9 L611.25 536.32 L611 535.72 L610.75 535.66 L610.5 537.49 L610.25 539.74 L610 538.17 L609.75 537.8 L609.5 537.16 L609.25 539.4 L609 541.32 L608.75 538.59 L608.5 540.64 L608.25 541.13 L608 540.94 L607.75 539.5 L607.5 541.27 L607.25 541.86 L607 540.23 L606.75 541.67 L606.5 543.11 L606.25 544.56 L606 546 L605.75 544.56 L605.5 543.11 L605.25 542.37 L605 540.34 L604.75 538.79 L604.5 543.08 L604.25 539.62 L604 541.15 L603.75 542.69 L603.5 544.22 L603.25 545.65 L603 544.12 L602.75 542.58 L602.5 541.05 L602.25 539.52 L602 539.47 L601.75 541 L601.5 542.53 L601.25 544.06 L601 545.6 L600.75 547.13 L600.5 548.66 L600.25 550.19 L600 549.27 L599.75 547.74 L599.5 546.21 L599.25 544.68 L599 543.14 L598.75 542.34 L598.5 540.76 L598.25 539.94 L598 540.51 L597.75 542.17 L597.5 543.83 L597.25 542.81 L597 541.14 L596.75 540.36 L596.5 539.03 L596.25 539.96 L596 541.06 L595.75 538.83 L595.5 542.8 L595.25 539.84 L595 541.24 L594.75 542.01 L594.5 543.68 L594.25 545.34 L594 547 L593.75 545.34 L593.5 543.68 L593.25 543.31 L593 542.09 L592.75 539.82 L592.5 539.19 L592.25 543.23 L592 540.8 L591.75 541.36 L591.5 543.88 L591.25 542.94 L591 544.27 L590.75 545.6 L590.5 546.94 L590.25 548.27 L590 549.6 L589.75 550.93 L589.5 552.27 L589.25 553.6 L589 554.93 L588.75 555.73 L588.5 554.4 L588.25 553.07 L588 551.73 L587.75 550.4 L587.5 549.07 L587.25 547.74 L587 546.4 L586.75 545.07 L586.5 543.74 L586.25 542.4 L586 541.07 L585.75 542.93 L585.5 540.53 L585.25 540.78 L585 539.54 L584.75 541.56 L584.5 539.6 L584.25 539.86 L584 538.75 L583.75 540.52 L583.5 542.37 L583.25 540.43 L583 540.59 L582.75 542.69 L582.5 544.8 L582.25 546.9 L582 549 L581.75 546.9 L581.5 544.8 L581.25 542.69 L581 540.59 L580.75 541.76 L580.5 543.86 L580.25 544.86 L580 542.76 L579.75 540.66 L579.5 538.56 L579.25 538.14 L579 537.36 L578.75 539.14 L578.5 536.73 L578.25 539.88 L578 537.8 L577.75 539.25 L577.5 541.49 L577.25 543.72 L577 544.84 L576.75 542.6 L576.5 540.37 L576.25 539.02 L576 539.07 L575.75 541.3 L575.5 543.54 L575.25 545.77 L575 548 L574.75 545.77 L574.5 543.54 L574.25 541.3 L574 540.03 L573.75 541.73 L573.5 541.67 L573.25 539.31 L573 540.2 L572.75 539.74 L572.5 542.06 L572.25 540.01 L572 540.66 L571.75 541.82 L571.5 540.67 L571.25 541.65 L571 541.51 L570.75 543.4 L570.5 542.97 L570.25 545.01 L570 547.04 L569.75 549.08 L569.5 551.11 L569.25 553.15 L569 555.19 L568.75 554.78 L568.5 552.74 L568.25 550.71 L568 548.67 L567.75 546.64 L567.5 544.6 L567.25 542.57 L567 542.41 L566.75 541.94 L566.5 542.75 L566.25 542.29 L566 542.73 L565.75 543.07 L565.5 544.05 L565.25 545.53 L565 542.12 L564.75 543.53 L564.5 543.29 L564.25 543.32 L564 542.23 L563.75 542.59 L563.5 542.5 L563.25 542.69 L563 542.27 L562.75 542.45 L562.5 542.17 L562.25 545.46 L562 544.09 L561.75 545.56 L561.5 544.22 L561.25 543.99 L561 542.41 L560.75 545.2 L560.5 542.55 L560.25 543.9 L560 545.11 L559.75 543.16 L559.5 545.68 L559.25 546.2 L559 545.56 L558.75 543.73 L558.5 543.75 L558.25 544.11 L558 544.26 L557.75 543.3 L557.5 542.01 L557.25 543.2 L557 545.64 L556.75 544.42 L556.5 543.42 L556.25 544.44 L556 542.92 L555.75 542.22 L555.5 544.31 L555.25 546.41 L555 548.5 L554.75 547.04 L554.5 544.31 L554.25 546.46 L554 544.26 L553.75 543.47 L553.5 544.01 L553.25 545.35 L553 543.3 L552.75 542.71 L552.5 544.45 L552.25 543.41 L552 543.82 L551.75 543.4 L551.5 543.87 L551.25 543.61 L551 543.75 L550.75 545.89 L550.5 542.76 L550.25 545.16 L550 543.16 L549.75 543.79 L549.5 545.53 L549.25 547.26 L549 549 L548.75 547.26 L548.5 545.53 L548.25 545.37 L548 542.91 L547.75 542.26 L547.5 543.14 L547.25 545.64 L547 544.01 L546.75 546.44 L546.5 543.27 L546.25 544.94 L546 543.56 L545.75 542.98 L545.5 543.07 L545.25 543.99 L545 542.9 L544.75 542.87 L544.5 542.81 L544.25 542.63 L544 543.48 L543.75 542.51 L543.5 542.49 L543.25 544.23 L543 545.24 L542.75 544.05 L542.5 546.34 L542.25 547.35 L542 549 L541.75 547.35 L541.5 545.7 L541.25 544.05 L541 543.53 L540.75 545.83 L540.5 544.1 L540.25 543.02 L540 543.71 L539.75 542.79 L539.5 542.77 L539.25 543.13 L539 546.59 L538.75 544.15 L538.5 542.97 L538.25 544.96 L538 547.01 L537.75 549.09 L537.5 551.17 L537.25 553.25 L537 555.33 L536.75 556.58 L536.5 554.5 L536.25 552.42 L536 550.34 L535.75 548.26 L535.5 546.52 L535.25 544.09 L535 544.99 L534.75 546.45 L534.5 545.25 L534.25 544.6 L534 544.49 L533.75 544.97 L533.5 544.45 L533.25 543.75 L533 544.25 L532.75 544.27 L532.5 544.5 L532.25 545.26 L532 544.87 L531.75 543.44 L531.5 545.29 L531.25 544.11 L531 543.56 L530.75 543.73 L530.5 546.86 L530.25 544.24 L530 544.46 L529.75 546.7 L529.5 546.01 L529.25 544.46 L529 544.46 L528.75 544.18 L528.5 543.31 L528.25 544.79 L528 544.38 L527.75 544.82 L527.5 544.16 L527.25 547.03 L527 549 L526.75 546.56 L526.5 547.82 L526.25 544.19 L526 545.65 L525.75 544.73 L525.5 547.41 L525.25 546.43 L525 544.19 L524.75 544.4 L524.5 548.05 L524.25 546.77 L524 546.44 L523.75 544.05 L523.5 545.27 L523.25 547.11 L523 547.47 L522.75 546.93 L522.5 545.52 L522.25 548.17 L522 546.5 L521.75 545.46 L521.5 546.48 L521.25 547.16 L521 547.54 L520.75 546.16 L520.5 547.44 L520.25 548.72 L520 550 L519.75 548.72 L519.5 547.44 L519.25 548.26 L519 548.27 L518.75 547.38 L518.5 545.65 L518.25 545.19 L518 549.6 L517.75 545.31 L517.5 545.98 L517.25 546.42 L517 548.66 L516.75 545.95 L516.5 544.81 L516.25 545.49 L516 548.75 L515.75 548.02 L515.5 547.06 L515.25 545.24 L515 546.8 L514.75 548.72 L514.5 546.97 L514.25 548.49 L514 550 L513.75 548.49 L513.5 546.97 L513.25 546.41 L513 547.94 L512.75 547.14 L512.5 545.46 L512.25 545.6 L512 546.37 L511.75 547.11 L511.5 546.51 L511.25 546.14 L511 547.44 L510.75 550.13 L510.5 550.12 L510.25 545.45 L510 545.56 L509.75 546.15 L509.5 548.67 L509.25 548.29 L509 547.86 L508.75 549.38 L508.5 548.27 L508.25 550.18 L508 548.99 L507.75 550.74 L507.5 552.5 L507.25 550.74 L507 548.99 L506.75 547.23 L506.5 547.58 L506.25 546.77 L506 549.97 L505.75 547.59 L505.5 547.5 L505.25 550.13 L505 549.55 L504.75 547.84 L504.5 549.08 L504.25 547.26 L504 548.22 L503.75 547.47 L503.5 550.19 L503.25 547.11 L503 547.63 L502.75 547.46 L502.5 547.81 L502.25 549.59 L502 548.28 L501.75 548.12 L501.5 547.41 L501.25 547.67 L501 550.66 L500.75 548.48 L500.5 549.98 L500.25 551.49 L500 553 L499.75 551.49 L499.5 549.98 L499.25 548.56 L499 547.99 L498.75 551.2 L498.5 547.88 L498.25 547.86 L498 549.02 L497.75 550.03 L497.5 548.17 L497.25 549.27 L497 548.7 L496.75 549.83 L496.5 548.96 L496.25 550.89 L496 551.93 L495.75 548.95 L495.5 550.72 L495.25 548.18 L495 551.87 L494.75 548.76 L494.5 549.59 L494.25 551.03 L494 553.5 L493.75 551.03 L493.5 551.48 L493.25 548.93 L493 549.01 L492.75 548.51 L492.5 550.74 L492.25 549.18 L492 552.24 L491.75 548.69 L491.5 552.32 L491.25 551.67 L491 550.32 L490.75 552.3 L490.5 553.12 L490.25 552.38 L490 549.33 L489.75 549.89 L489.5 551.35 L489.25 548.85 L489 549.45 L488.75 550.94 L488.5 549.67 L488.25 548.69 L488 553.65 L487.75 549.91 L487.5 549.26 L487.25 549.99 L487 549.83 L486.75 551.11 L486.5 550.38 L486.25 551.92 L486 554 L485.75 551.92 L485.5 549.83 L485.25 549.73 L485 549.05 L484.75 552.27 L484.5 551.11 L484.25 550.04 L484 549.93 L483.75 551.97 L483.5 549.05 L483.25 550.53 L483 550.62 L482.75 552.22 L482.5 550.63 L482.25 550.88 L482 551 L481.75 552.86 L481.5 550.06 L481.25 550.31 L481 551.89 L480.75 552.56 L480.5 550.24 L480.25 550.26 L480 549.77 L479.75 550.11 L479.5 551.33 L479.25 552.24 L479 554.33 L478.75 555.58 L478.5 553.49 L478.25 551.41 L478 549.99 L477.75 549.15 L477.5 550.77 L477.25 550.34 L477 553.07 L476.75 552.74 L476.5 549.71 L476.25 550.07 L476 552.27 L475.75 552.54 L475.5 553.37 L475.25 550.33 L475 550.05 L474.75 551.71 L474.5 551.25 L474.25 553.59 L474 554.06 L473.75 551.83 L473.5 551.02 L473.25 550.72 L473 550.32 L472.75 551.95 L472.5 549.91 L472.25 549.79 L472 551.17 L471.75 552.49 L471.5 551.66 L471.25 552.91 L471 549.75 L470.75 551.47 L470.5 551.17 L470.25 549.69 L470 551.17 L469.75 549.39 L469.5 549.71 L469.25 548.89 L469 552.04 L468.75 548.39 L468.5 549.41 L468.25 551.88 L468 551.33 L467.75 550.74 L467.5 548.14 L467.25 552.08 L467 552.57 L466.75 551.63 L466.5 549.24 L466.25 550.87 L466 549.79 L465.75 549.23 L465.5 550.96 L465.25 552.87 L465 555 L464.75 552.87 L464.5 550.74 L464.25 548.61 L464 547.67 L463.75 549.76 L463.5 549.22 L463.25 548.54 L463 551.15 L462.75 551.3 L462.5 548.22 L462.25 547.42 L462 547.4 L461.75 550.07 L461.5 551.83 L461.25 549.52 L461 548.27 L460.75 549.03 L460.5 552.44 L460.25 552.26 L460 551.28 L459.75 551.2 L459.5 552.84 L459.25 552.51 L459 550.87 L458.75 549.61 L458.5 547.58 L458.25 547.36 L458 548.15 L457.75 547.32 L457.5 548.22 L457.25 549.38 L457 548.64 L456.75 547.83 L456.5 545.28 L456.25 546.27 L456 547.01 L455.75 545.22 L455.5 547.64 L455.25 548.64 L455 546.24 L454.75 546.69 L454.5 544.32 L454.25 546.97 L454 544.93 L453.75 546.47 L453.5 543.6 L453.25 544.5 L453 542.59 L452.75 546.41 L452.5 544.39 L452.25 543.48 L452 546.02 L451.75 544.09 L451.5 545.6 L451.25 541.61 L451 542.53 L450.75 542.09 L450.5 541.06 L450.25 541.03 L450 543.25 L449.75 542.51 L449.5 539.64 L449.25 539.5 L449 540.49 L448.75 541.24 L448.5 542.26 L448.25 541.35 L448 538.7 L447.75 540.5 L447.5 540.27 L447.25 537.74 L447 539.37 L446.75 536.56 L446.5 538.61 L446.25 535.93 L446 535.43 L445.75 535.34 L445.5 535.47 L445.25 536.13 L445 534.51 L444.75 532.59 L444.5 532.42 L444.25 531.42 L444 532.17 L443.75 531.68 L443.5 531.2 L443.25 530.62 L443 530 L442.75 529.38 L442.5 528.75 L442.25 528.12 L442 527.5 L441.75 526.75 L441.5 526 L441.25 525.25 L441 524.5 L440.75 523.75 L440.5 523 L440.25 522.17 L440 521.33 L439.75 520.5 L439.5 519.67 L439.25 518.83 L439 518 L438.75 516.83 L438.5 515.67 L438.25 514.5 L438 513.33 L437.75 512.17 L437.5 511 L437.25 509.67 L437 508.33 L436.75 507 L436.5 505.67 L436.25 504.33 L436 503Z" fill="#f50000" stroke="#f50000" stroke-width="0.4" stroke-linejoin="round"/>
<path d="M433 363.7 L433 364 L433.01 364.3 L433.01 364.6 L433.02 364.9 L433.02 365.2 L433.02 365.51 L433.03 365.81 L433.03 366.11 L433.04 366.41 L433.04 366.71 L433.04 367.01 L433.05 367.31 L433.05 367.61 L433.06 367.91 L433.06 368.21 L433.06 368.52 L433.07 368.82 L433.07 369.12 L433.08 369.42 L433.08 369.72 L433.08 370.02 L433.09 370.32 L433.09 370.62 L433.1 370.92 L433.1 371.22 L433.1 371.53 L433.11 371.83 L433.11 372.13 L433.12 372.43 L433.12 372.73 L433.12 373.03 L433.13 373.33 L433.13 373.63 L433.14 373.93 L433.14 374.23 L433.14 374.54 L433.15 374.84 L433.15 375.14 L433.16 375.44 L433.16 375.74 L433.17 376.04 L433.17 376.34 L433.17 376.64 L433.18 376.94 L433.18 377.24 L433.19 377.55 L433.19 377.85 L433.19 378.15 L433.2 378.45 L433.2 378.75 L433.21 379.05 L433.21 379.35 L433.21 379.65 L433.22 379.95 L433.22 380.25 L433.23 380.56 L433.23 380.86 L433.24 381.16 L433.24 381.46 L433.24 381.76 L433.25 382.06 L433.25 382.36 L433.26 382.66 L433.26 382.96 L433.26 383.26 L433.27 383.57 L433.27 383.87 L433.28 384.17 L433.28 384.47 L433.29 384.77 L433.29 385.07 L433.29 385.37 L433.3 385.67 L433.3 385.97 L433.31 386.27 L433.31 386.57 L433.31 386.88 L433.32 387.18 L433.32 387.48 L433.33 387.78 L433.33 388.08 L433.34 388.38 L433.34 388.68 L433.34 388.98 L433.35 389.28 L433.35 389.58 L433.36 389.89 L433.36 390.19 L433.36 390.49 L433.37 390.79 L433.37 391.09 L433.38 391.39 L433.38 391.69 L433.39 391.99 L433.39 392.29 L433.39 392.59 L433.4 392.9 L433.4 393.2 L433.41 393.5 L433.41 393.8 L433.42 394.1 L433.42 394.4 L433.42 394.7 L433.43 395 L433.43 395.3 L433.44 395.6 L433.44 395.91 L433.45 396.21 L433.45 396.51 L433.45 396.81 L433.46 397.11 L433.46 397.41 L433.47 397.71 L433.47 398.01 L433.48 398.31 L433.48 398.61 L433.48 398.92 L433.49 399.22 L433.49 399.52 L433.5 399.82 L433.5 400.12 L433.51 400.42 L433.51 400.72 L433.51 401.02 L433.52 401.32 L433.52 401.62 L433.53 401.93 L433.53 402.23 L433.54 402.53 L433.54 402.83 L433.54 403.13 L433.55 403.43 L433.55 403.73 L433.56 404.03 L433.56 404.33 L433.57 404.63 L433.57 404.93 L433.57 405.24 L433.58 405.54 L433.58 405.84 L433.59 406.14 L433.59 406.44 L433.6 406.74 L433.6 407.04 L433.61 407.34 L433.61 407.64 L433.61 407.94 L433.62 408.25 L433.62 408.55 L433.63 408.85 L433.63 409.15 L433.64 409.45 L433.64 409.75 L433.64 410.05 L433.65 410.35 L433.65 410.65 L433.66 410.95 L433.66 411.26 L433.67 411.56 L433.67 411.86 L433.67 412.16 L433.68 412.46 L433.68 412.76 L433.69 413.06 L433.69 413.36 L433.7 413.66 L433.7 413.96 L433.7 414.27 L433.71 414.57 L433.71 414.87 L433.72 415.17 L433.72 415.47 L433.73 415.77 L433.73 416.07 L433.74 416.37 L433.74 416.67 L433.74 416.97 L433.75 417.28 L433.75 417.58 L433.76 417.88 L433.76 418.18 L433.77 418.48 L433.77 418.78 L433.77 419.08 L433.78 419.38 L433.78 419.68 L433.79 419.98 L433.79 420.29 L433.8 420.59 L433.8 420.89 L433.81 421.19 L433.81 421.49 L433.81 421.79 L433.82 422.09 L433.82 422.39 L433.83 422.69 L433.83 422.99 L433.84 423.29 L433.84 423.6 L433.85 423.9 L433.85 424.2 L433.86 424.5 L433.86 424.8 L433.86 425.1 L433.87 425.4 L433.87 425.7 L433.88 426 L433.88 426.3 L433.89 426.61 L433.89 426.91 L433.9 427.21 L433.9 427.51 L433.91 427.81 L433.91 428.11 L433.91 428.41 L433.92 428.71 L433.92 429.01 L433.93 429.31 L433.93 429.62 L433.94 429.92 L433.94 430.22 L433.95 430.52 L433.95 430.82 L433.96 431.12 L433.96 431.42 L433.97 431.72 L433.97 432.02 L433.98 432.32 L433.98 432.63 L433.98 432.93 L433.99 433.23 L433.99 433.53 L434 433.83 L434 434.13 L434.01 434.43 L434.01 434.73 L434.02 435.03 L434.02 435.33 L434.03 435.63 L434.03 435.94 L434.04 436.24 L434.04 436.54 L434.05 436.84 L434.05 437.14 L434.06 437.44 L434.06 437.74 L434.07 438.04 L434.07 438.34 L434.08 438.64 L434.08 438.95 L434.09 439.25 L434.09 439.55 L434.1 439.85 L434.1 440.15 L434.11 440.45 L434.11 440.75 L434.12 441.05 L434.12 441.35 L434.13 441.65 L434.13 441.96 L434.14 442.26 L434.14 442.56 L434.15 442.86 L434.15 443.16 L434.16 443.46 L434.16 443.76 L434.17 444.06 L434.17 444.36 L434.18 444.66 L434.18 444.97 L434.19 445.27 L434.19 445.57 L434.2 445.87 L434.2 446.17 L434.21 446.47 L434.21 446.77 L434.21 447.07 L434.22 447.37 L434.22 447.67 L434.23 447.98 L434.23 448.28 L434.24 448.58 L434.24 448.88 L434.25 449.18 L434.25 449.48 L434.26 449.78 L434.26 450.08 L434.27 450.38 L434.27 450.68 L434.28 450.98 L434.28 451.29 L434.29 451.59 L434.29 451.89 L434.3 452.19 L434.3 452.49 L434.31 452.79 L434.31 453.09 L434.32 453.39 L434.32 453.69 L434.33 453.99 L434.33 454.3 L434.34 454.6 L434.34 454.9 L434.35 455.2 L434.35 455.5 L434.36 455.8 L434.36 456.1 L434.37 456.4 L434.37 456.7 L434.38 457 L434.39 457.31 L434.39 457.61 L434.4 457.91 L434.4 458.21 L434.41 458.51 L434.41 458.81 L434.42 459.11 L434.42 459.41 L434.43 459.71 L434.43 460.01 L434.44 460.32 L434.45 460.62 L434.45 460.92 L434.46 461.22 L434.46 461.52 L434.47 461.82 L434.48 462.12 L434.48 462.42 L434.49 462.72 L434.49 463.02 L434.5 463.32 L434.51 463.63 L434.51 463.93 L434.52 464.23 L434.52 464.53 L434.53 464.83 L434.54 465.13 L434.54 465.43 L434.55 465.73 L434.56 466.03 L434.56 466.33 L434.57 466.64 L434.58 466.94 L434.58 467.24 L434.59 467.54 L434.6 467.84 L434.6 468.14 L434.61 468.44 L434.62 468.74 L434.63 469.04 L434.63 469.34 L434.64 469.64 L434.65 469.95 L434.66 470.25 L434.66 470.55 L434.67 470.85 L434.68 471.15 L434.69 471.45 L434.69 471.75 L434.7 472.05 L434.71 472.35 L434.72 472.65 L434.73 472.95 L434.73 473.25 L434.74 473.56 L434.75 473.86 L434.76 474.16 L434.77 474.46 L434.78 474.76 L434.79 475.06 L434.79 475.36 L434.8 475.66 L434.81 475.96 L434.82 476.26 L434.83 476.56 L434.84 476.87 L434.85 477.17 L434.86 477.47 L434.87 477.77 L434.88 478.07 L434.89 478.37 L434.9 478.67 L434.91 478.97 L434.92 479.27 L434.93 479.57 L434.95 479.87 L434.96 480.18 L434.97 480.48 L434.98 480.78 L434.99 481.08 L435 481.38 L435.01 481.68 L435.03 481.98 L435.04 482.28 L435.05 482.58 L435.06 482.88 L435.07 483.18 L435.09 483.49 L435.1 483.79 L435.11 484.09 L435.13 484.39 L435.14 484.69 L435.15 484.99 L435.17 485.29 L435.18 485.59 L435.19 485.89 L435.21 486.19 L435.22 486.49 L435.24 486.79 L435.25 487.09 L435.27 487.39 L435.28 487.69 L435.3 488 L435.31 488.3 L435.33 488.6 L435.34 488.9 L435.36 489.2 L435.37 489.5 L435.39 489.8 L435.41 490.1 L435.42 490.4 L435.44 490.7 L435.46 491 L435.48 491.3 L435.5 491.6 L435.52 491.9 L435.54 492.2 L435.56 492.5 L435.58 492.8 L435.6 493.1 L435.62 493.4 L435.65 493.7 L435.67 494 L435.69 494.3 L435.72 494.6 L435.74 494.9 L435.77 495.2 L435.79 495.5 L435.82 495.8 L435.84 496.1 L435.87 496.4 L435.9 496.7 L435.92 497 L435.95 497.3 L435.98 497.6 L436 497.9 L436.03 498.2 L436.06 498.5 L436.09 498.8 L436.12 499.1 L436.14 499.4 L436.17 499.7 L436.2 500" fill="none" stroke="#f50000" stroke-width="1.8" stroke-linejoin="round" stroke-linecap="round" />
<path d="M433.3 390 L434 430 L434.8 465 L435.6 488 L436.6 500" fill="none" stroke="#f50000" stroke-width="1.5" stroke-linejoin="round" stroke-linecap="round" />
<path d="M729.6 527 L729.9 460" fill="none" stroke="#f50000" stroke-width="2.0" stroke-linejoin="round" stroke-linecap="round" />
<path d="M729.9 462 L730.1 351.8 L731 349 L732.5 348.2 L733.5 360 L734.9 394.3 L735.5 380 L736.1 373.7 L737.3 356 L738.5 349.4 L739.4 360 L740 352 L740.5 345.8" fill="none" stroke="#f50000" stroke-width="2.6" stroke-linejoin="round" stroke-linecap="round" />
<path d="M731.2 352 L732.2 385 L733.2 372 L734 355 L735 385 L736 392 L737 362 L738 380 L739 368 L740.3 349" fill="none" stroke="#f50000" stroke-width="1.6" stroke-linejoin="round" stroke-linecap="round" />
<path d="M730.6 360 L731.6 350 L732.6 362 L733.6 380 L734.4 392 L735.4 370 L736.6 352 L737.6 365 L738.6 372 L739.6 352" fill="none" stroke="#f50000" stroke-width="1.4" stroke-linejoin="round" stroke-linecap="round" />
</svg></body></html>
